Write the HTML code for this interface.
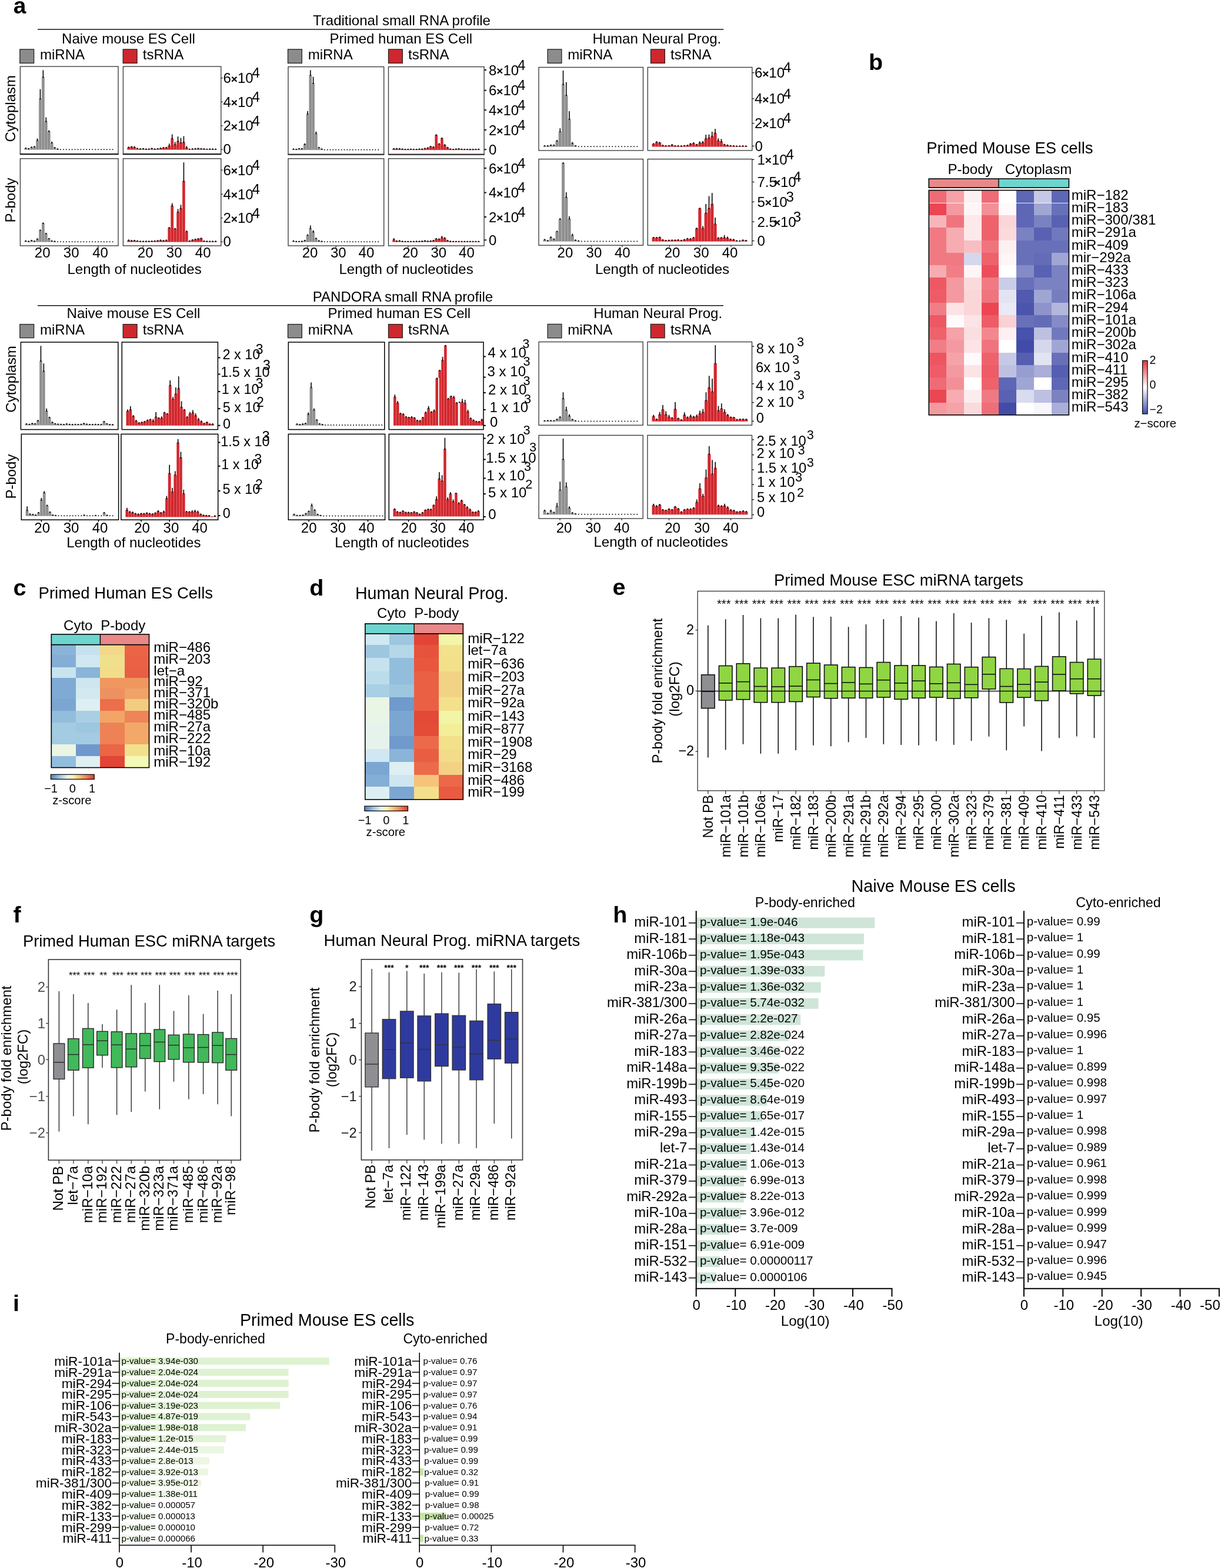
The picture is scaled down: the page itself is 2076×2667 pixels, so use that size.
<!DOCTYPE html>
<html lang="en">
<head>
<meta charset="utf-8">
<title>Small RNA profiles and miRNA target enrichment in P-bodies</title>
<style>
html,body{margin:0;padding:0;background:#fff;}
body{width:2076px;height:2667px;overflow:hidden;}
svg{display:block;font-family:"Liberation Sans", sans-serif;}
text{white-space:pre;}
</style>
</head>
<body>
<svg width="2076" height="2667" viewBox="0 0 2076 2667">
<rect width="2076" height="2667" fill="#fff"/>
<!-- panel a -->
<text x="22.70" y="22.80" font-size="39" font-weight="bold">a</text>
<text x="683.00" y="42.80" font-size="24" text-anchor="middle">Traditional small RNA profile</text>
<line x1="64.00" y1="50.00" x2="1230.20" y2="50.00" stroke="#111" stroke-width="1.5"/>
<text x="218.50" y="73.60" font-size="24" text-anchor="middle">Naive mouse ES Cell</text>
<text x="681.80" y="73.60" font-size="24" text-anchor="middle">Primed human ES Cell</text>
<text x="1116.80" y="73.60" font-size="24" text-anchor="middle">Human Neural Prog.</text>
<rect x="33.80" y="83.90" width="23.80" height="23.50" fill="#8c8c8c" stroke="#222" stroke-width="1.3"/>
<text x="68.00" y="101.40" font-size="24">miRNA</text>
<rect x="209.20" y="83.90" width="23.80" height="23.50" fill="#cf272d" stroke="#222" stroke-width="1.3"/>
<text x="242.80" y="101.40" font-size="24">tsRNA</text>
<rect x="489.50" y="83.90" width="23.80" height="23.50" fill="#8c8c8c" stroke="#222" stroke-width="1.3"/>
<text x="523.70" y="101.40" font-size="24">miRNA</text>
<rect x="660.50" y="83.90" width="23.80" height="23.50" fill="#cf272d" stroke="#222" stroke-width="1.3"/>
<text x="694.10" y="101.40" font-size="24">tsRNA</text>
<rect x="931.10" y="83.90" width="23.80" height="23.50" fill="#8c8c8c" stroke="#222" stroke-width="1.3"/>
<text x="965.30" y="101.40" font-size="24">miRNA</text>
<rect x="1106.50" y="83.90" width="23.80" height="23.50" fill="#cf272d" stroke="#222" stroke-width="1.3"/>
<text x="1140.10" y="101.40" font-size="24">tsRNA</text>
<text transform="translate(26.30 184.70) rotate(-90)" font-size="24" text-anchor="middle">Cytoplasm</text>
<text transform="translate(26.30 340.60) rotate(-90)" font-size="24" text-anchor="middle">P-body</text>
<g fill="#8e8e8e" stroke="#a9a9a9" stroke-width="0.5"><rect x="41.53" y="252.54" width="4.53" height="2.06"/><rect x="46.46" y="253.36" width="4.53" height="1.24"/><rect x="51.39" y="250.89" width="4.53" height="3.71"/><rect x="56.31" y="250.07" width="4.53" height="4.53"/><rect x="61.24" y="239.16" width="4.53" height="15.44"/><rect x="66.17" y="168.54" width="4.53" height="86.06"/><rect x="71.10" y="131.68" width="4.53" height="122.92"/><rect x="76.02" y="206.83" width="4.53" height="47.77"/><rect x="80.95" y="223.72" width="4.53" height="30.88"/><rect x="85.88" y="243.28" width="4.53" height="11.32"/><rect x="90.80" y="251.51" width="4.53" height="3.09"/><rect x="95.73" y="253.98" width="4.53" height="0.62"/></g>
<g fill="#111"><rect x="42.95" y="251.24" width="1.7" height="1.80"/><ellipse cx="43.80" cy="252.19" rx="1.45" ry="1.15"/><rect x="47.88" y="252.06" width="1.7" height="1.80"/><ellipse cx="48.73" cy="253.01" rx="1.45" ry="1.15"/><rect x="52.80" y="249.59" width="1.7" height="1.80"/><ellipse cx="53.65" cy="250.54" rx="1.45" ry="1.15"/><rect x="57.73" y="248.77" width="1.7" height="1.80"/><ellipse cx="58.58" cy="249.72" rx="1.45" ry="1.15"/><rect x="62.66" y="235.45" width="1.7" height="4.21"/><ellipse cx="63.51" cy="238.81" rx="1.45" ry="1.15"/><rect x="67.59" y="151.66" width="1.7" height="17.38"/><ellipse cx="68.44" cy="168.19" rx="1.45" ry="1.15"/><rect x="72.51" y="119.33" width="1.7" height="12.85"/><ellipse cx="73.36" cy="131.33" rx="1.45" ry="1.15"/><rect x="77.44" y="199.63" width="1.7" height="7.71"/><ellipse cx="78.29" cy="206.48" rx="1.45" ry="1.15"/><rect x="82.37" y="221.66" width="1.7" height="2.56"/><ellipse cx="83.22" cy="223.37" rx="1.45" ry="1.15"/><rect x="87.29" y="240.81" width="1.7" height="2.97"/><ellipse cx="88.14" cy="242.93" rx="1.45" ry="1.15"/><rect x="92.22" y="250.07" width="1.7" height="1.94"/><ellipse cx="93.07" cy="251.16" rx="1.45" ry="1.15"/><rect x="97.15" y="252.68" width="1.7" height="1.80"/><ellipse cx="98.00" cy="253.63" rx="1.45" ry="1.15"/><circle cx="102.92" cy="254.30" r="1"/><circle cx="107.85" cy="254.30" r="1"/><circle cx="112.78" cy="254.30" r="1"/><circle cx="117.70" cy="254.30" r="1"/><circle cx="122.63" cy="254.30" r="1"/><circle cx="127.56" cy="254.30" r="1"/><circle cx="132.49" cy="254.30" r="1"/><circle cx="137.41" cy="254.30" r="1"/><circle cx="142.34" cy="254.30" r="1"/><circle cx="147.27" cy="254.30" r="1"/><circle cx="152.19" cy="254.30" r="1"/><circle cx="157.12" cy="254.30" r="1"/><circle cx="162.05" cy="254.30" r="1"/><circle cx="166.97" cy="254.30" r="1"/><circle cx="171.90" cy="254.30" r="1"/><circle cx="176.83" cy="254.30" r="1"/><circle cx="181.76" cy="254.30" r="1"/><circle cx="186.68" cy="254.30" r="1"/><circle cx="191.61" cy="254.30" r="1"/></g>
<rect x="34.40" y="113.10" width="166.60" height="148.90" fill="none" stroke="#333" stroke-width="1.3"/>
<g fill="#cf272d" stroke="#e8555a" stroke-width="0.5"><rect x="216.53" y="250.89" width="4.53" height="3.71"/><rect x="221.46" y="250.07" width="4.53" height="4.53"/><rect x="226.39" y="250.48" width="4.53" height="4.12"/><rect x="231.31" y="252.95" width="4.53" height="1.65"/><rect x="236.24" y="253.78" width="4.53" height="0.82"/><rect x="241.17" y="253.36" width="4.53" height="1.24"/><rect x="246.10" y="253.98" width="4.53" height="0.62"/><rect x="251.02" y="253.98" width="4.53" height="0.62"/><rect x="255.95" y="252.95" width="4.53" height="1.65"/><rect x="260.88" y="253.98" width="4.53" height="0.62"/><rect x="265.80" y="253.57" width="4.53" height="1.03"/><rect x="270.73" y="252.54" width="4.53" height="2.06"/><rect x="275.66" y="251.72" width="4.53" height="2.88"/><rect x="280.58" y="251.31" width="4.53" height="3.29"/><rect x="285.51" y="248.42" width="4.53" height="6.18"/><rect x="290.44" y="236.07" width="4.53" height="18.53"/><rect x="295.37" y="246.36" width="4.53" height="8.24"/><rect x="300.29" y="240.81" width="4.53" height="13.79"/><rect x="305.22" y="243.28" width="4.53" height="11.32"/><rect x="310.15" y="242.25" width="4.53" height="12.35"/><rect x="315.07" y="251.51" width="4.53" height="3.09"/><rect x="320.00" y="254.19" width="4.53" height="0.41"/><rect x="324.93" y="253.78" width="4.53" height="0.82"/><rect x="329.85" y="253.36" width="4.53" height="1.24"/><rect x="334.78" y="252.95" width="4.53" height="1.65"/><rect x="339.71" y="253.36" width="4.53" height="1.24"/><rect x="344.64" y="253.78" width="4.53" height="0.82"/><rect x="349.56" y="254.19" width="4.53" height="0.41"/><rect x="354.49" y="253.98" width="4.53" height="0.62"/><rect x="359.42" y="253.98" width="4.53" height="0.62"/><rect x="364.34" y="254.19" width="4.53" height="0.41"/></g>
<g fill="#111"><rect x="217.95" y="249.66" width="1.7" height="1.74"/><ellipse cx="218.80" cy="250.54" rx="1.45" ry="1.15"/><rect x="222.88" y="248.84" width="1.7" height="1.74"/><ellipse cx="223.73" cy="249.72" rx="1.45" ry="1.15"/><rect x="227.80" y="249.25" width="1.7" height="1.74"/><ellipse cx="228.65" cy="250.13" rx="1.45" ry="1.15"/><rect x="232.73" y="251.65" width="1.7" height="1.80"/><ellipse cx="233.58" cy="252.60" rx="1.45" ry="1.15"/><rect x="237.66" y="252.48" width="1.7" height="1.80"/><ellipse cx="238.51" cy="253.43" rx="1.45" ry="1.15"/><rect x="242.59" y="252.06" width="1.7" height="1.80"/><ellipse cx="243.44" cy="253.01" rx="1.45" ry="1.15"/><rect x="247.51" y="252.68" width="1.7" height="1.80"/><ellipse cx="248.36" cy="253.63" rx="1.45" ry="1.15"/><rect x="252.44" y="252.68" width="1.7" height="1.80"/><ellipse cx="253.29" cy="253.63" rx="1.45" ry="1.15"/><rect x="257.37" y="251.65" width="1.7" height="1.80"/><ellipse cx="258.22" cy="252.60" rx="1.45" ry="1.15"/><rect x="262.29" y="252.68" width="1.7" height="1.80"/><ellipse cx="263.14" cy="253.63" rx="1.45" ry="1.15"/><rect x="267.22" y="252.27" width="1.7" height="1.80"/><ellipse cx="268.07" cy="253.22" rx="1.45" ry="1.15"/><rect x="272.15" y="251.24" width="1.7" height="1.80"/><ellipse cx="273.00" cy="252.19" rx="1.45" ry="1.15"/><rect x="277.07" y="250.42" width="1.7" height="1.80"/><ellipse cx="277.92" cy="251.37" rx="1.45" ry="1.15"/><rect x="282.00" y="250.01" width="1.7" height="1.80"/><ellipse cx="282.85" cy="250.96" rx="1.45" ry="1.15"/><rect x="286.93" y="244.31" width="1.7" height="4.62"/><ellipse cx="287.78" cy="248.07" rx="1.45" ry="1.15"/><rect x="291.86" y="228.45" width="1.7" height="8.12"/><ellipse cx="292.71" cy="235.72" rx="1.45" ry="1.15"/><rect x="296.78" y="241.42" width="1.7" height="5.44"/><ellipse cx="297.63" cy="246.01" rx="1.45" ry="1.15"/><rect x="301.71" y="232.16" width="1.7" height="9.15"/><ellipse cx="302.56" cy="240.46" rx="1.45" ry="1.15"/><rect x="306.64" y="234.63" width="1.7" height="9.15"/><ellipse cx="307.49" cy="242.93" rx="1.45" ry="1.15"/><rect x="311.56" y="231.54" width="1.7" height="11.21"/><ellipse cx="312.41" cy="241.90" rx="1.45" ry="1.15"/><rect x="316.49" y="248.42" width="1.7" height="3.59"/><ellipse cx="317.34" cy="251.16" rx="1.45" ry="1.15"/><rect x="321.42" y="252.89" width="1.7" height="1.80"/><ellipse cx="322.27" cy="253.84" rx="1.45" ry="1.15"/><rect x="326.34" y="252.48" width="1.7" height="1.80"/><ellipse cx="327.19" cy="253.43" rx="1.45" ry="1.15"/><rect x="331.27" y="252.06" width="1.7" height="1.80"/><ellipse cx="332.12" cy="253.01" rx="1.45" ry="1.15"/><rect x="336.20" y="251.65" width="1.7" height="1.80"/><ellipse cx="337.05" cy="252.60" rx="1.45" ry="1.15"/><rect x="341.12" y="252.06" width="1.7" height="1.80"/><ellipse cx="341.98" cy="253.01" rx="1.45" ry="1.15"/><rect x="346.05" y="252.48" width="1.7" height="1.80"/><ellipse cx="346.90" cy="253.43" rx="1.45" ry="1.15"/><rect x="350.98" y="252.89" width="1.7" height="1.80"/><ellipse cx="351.83" cy="253.84" rx="1.45" ry="1.15"/><rect x="355.91" y="252.68" width="1.7" height="1.80"/><ellipse cx="356.76" cy="253.63" rx="1.45" ry="1.15"/><rect x="360.83" y="252.68" width="1.7" height="1.80"/><ellipse cx="361.68" cy="253.63" rx="1.45" ry="1.15"/><rect x="365.76" y="252.89" width="1.7" height="1.80"/><ellipse cx="366.61" cy="253.84" rx="1.45" ry="1.15"/></g>
<rect x="209.40" y="113.10" width="166.40" height="148.90" fill="none" stroke="#333" stroke-width="1.3"/>
<g fill="#8e8e8e" stroke="#a9a9a9" stroke-width="0.5"><rect x="41.53" y="410.26" width="4.53" height="1.24"/><rect x="46.46" y="411.09" width="4.53" height="0.41"/><rect x="51.39" y="409.44" width="4.53" height="2.06"/><rect x="56.31" y="410.68" width="4.53" height="0.82"/><rect x="61.24" y="406.97" width="4.53" height="4.53"/><rect x="66.17" y="391.94" width="4.53" height="19.56"/><rect x="71.10" y="380.20" width="4.53" height="31.30"/><rect x="76.02" y="397.50" width="4.53" height="14.00"/><rect x="80.95" y="406.35" width="4.53" height="5.15"/><rect x="85.88" y="410.26" width="4.53" height="1.24"/><rect x="90.80" y="411.09" width="4.53" height="0.41"/></g>
<g fill="#111"><rect x="42.95" y="408.96" width="1.7" height="1.80"/><ellipse cx="43.80" cy="409.91" rx="1.45" ry="1.15"/><rect x="47.88" y="409.79" width="1.7" height="1.80"/><ellipse cx="48.73" cy="410.74" rx="1.45" ry="1.15"/><rect x="52.80" y="408.14" width="1.7" height="1.80"/><ellipse cx="53.65" cy="409.09" rx="1.45" ry="1.15"/><rect x="57.73" y="409.38" width="1.7" height="1.80"/><ellipse cx="58.58" cy="410.33" rx="1.45" ry="1.15"/><rect x="62.66" y="405.67" width="1.7" height="1.80"/><ellipse cx="63.51" cy="406.62" rx="1.45" ry="1.15"/><rect x="67.59" y="390.91" width="1.7" height="1.53"/><ellipse cx="68.44" cy="391.59" rx="1.45" ry="1.15"/><rect x="72.51" y="378.56" width="1.7" height="2.15"/><ellipse cx="73.36" cy="379.85" rx="1.45" ry="1.15"/><rect x="77.44" y="396.68" width="1.7" height="1.32"/><ellipse cx="78.29" cy="397.15" rx="1.45" ry="1.15"/><rect x="82.37" y="405.94" width="1.7" height="0.91"/><ellipse cx="83.22" cy="406.00" rx="1.45" ry="1.15"/><rect x="87.29" y="408.96" width="1.7" height="1.80"/><ellipse cx="88.14" cy="409.91" rx="1.45" ry="1.15"/><rect x="92.22" y="409.79" width="1.7" height="1.80"/><ellipse cx="93.07" cy="410.74" rx="1.45" ry="1.15"/><circle cx="98.00" cy="411.20" r="1"/><circle cx="102.92" cy="411.20" r="1"/><circle cx="107.85" cy="411.20" r="1"/><circle cx="112.78" cy="411.20" r="1"/><circle cx="117.70" cy="411.20" r="1"/><circle cx="122.63" cy="411.20" r="1"/><circle cx="127.56" cy="411.20" r="1"/><circle cx="132.49" cy="411.20" r="1"/><circle cx="137.41" cy="411.20" r="1"/><circle cx="142.34" cy="411.20" r="1"/><circle cx="147.27" cy="411.20" r="1"/><circle cx="152.19" cy="411.20" r="1"/><circle cx="157.12" cy="411.20" r="1"/><circle cx="162.05" cy="411.20" r="1"/><circle cx="166.97" cy="411.20" r="1"/><circle cx="171.90" cy="411.20" r="1"/><circle cx="176.83" cy="411.20" r="1"/><circle cx="181.76" cy="411.20" r="1"/><circle cx="186.68" cy="411.20" r="1"/><circle cx="191.61" cy="411.20" r="1"/></g>
<rect x="34.40" y="269.80" width="166.60" height="148.20" fill="none" stroke="#333" stroke-width="1.3"/>
<g fill="#cf272d" stroke="#e8555a" stroke-width="0.5"><rect x="216.53" y="409.03" width="4.53" height="2.47"/><rect x="221.46" y="409.85" width="4.53" height="1.65"/><rect x="226.39" y="409.44" width="4.53" height="2.06"/><rect x="231.31" y="410.26" width="4.53" height="1.24"/><rect x="236.24" y="410.88" width="4.53" height="0.62"/><rect x="241.17" y="411.09" width="4.53" height="0.41"/><rect x="246.10" y="410.88" width="4.53" height="0.62"/><rect x="251.02" y="410.88" width="4.53" height="0.62"/><rect x="255.95" y="410.68" width="4.53" height="0.82"/><rect x="260.88" y="410.26" width="4.53" height="1.24"/><rect x="265.80" y="409.85" width="4.53" height="1.65"/><rect x="270.73" y="409.03" width="4.53" height="2.47"/><rect x="275.66" y="409.65" width="4.53" height="1.85"/><rect x="280.58" y="409.03" width="4.53" height="2.47"/><rect x="285.51" y="387.82" width="4.53" height="23.68"/><rect x="290.44" y="350.15" width="4.53" height="61.35"/><rect x="295.37" y="389.26" width="4.53" height="22.24"/><rect x="300.29" y="361.06" width="4.53" height="50.44"/><rect x="305.22" y="354.88" width="4.53" height="56.62"/><rect x="310.15" y="308.56" width="4.53" height="102.94"/><rect x="315.07" y="394.00" width="4.53" height="17.50"/><rect x="320.00" y="410.26" width="4.53" height="1.24"/><rect x="324.93" y="408.62" width="4.53" height="2.88"/><rect x="329.85" y="407.38" width="4.53" height="4.12"/><rect x="334.78" y="406.56" width="4.53" height="4.94"/><rect x="339.71" y="405.74" width="4.53" height="5.76"/><rect x="344.64" y="410.47" width="4.53" height="1.03"/><rect x="349.56" y="410.88" width="4.53" height="0.62"/><rect x="354.49" y="411.09" width="4.53" height="0.41"/><rect x="359.42" y="411.09" width="4.53" height="0.41"/><rect x="364.34" y="410.88" width="4.53" height="0.62"/></g>
<g fill="#111"><rect x="217.95" y="407.73" width="1.7" height="1.80"/><ellipse cx="218.80" cy="408.68" rx="1.45" ry="1.15"/><rect x="222.88" y="408.55" width="1.7" height="1.80"/><ellipse cx="223.73" cy="409.50" rx="1.45" ry="1.15"/><rect x="227.80" y="408.14" width="1.7" height="1.80"/><ellipse cx="228.65" cy="409.09" rx="1.45" ry="1.15"/><rect x="232.73" y="408.96" width="1.7" height="1.80"/><ellipse cx="233.58" cy="409.91" rx="1.45" ry="1.15"/><rect x="237.66" y="409.58" width="1.7" height="1.80"/><ellipse cx="238.51" cy="410.53" rx="1.45" ry="1.15"/><rect x="242.59" y="409.79" width="1.7" height="1.80"/><ellipse cx="243.44" cy="410.74" rx="1.45" ry="1.15"/><rect x="247.51" y="409.58" width="1.7" height="1.80"/><ellipse cx="248.36" cy="410.53" rx="1.45" ry="1.15"/><rect x="252.44" y="409.58" width="1.7" height="1.80"/><ellipse cx="253.29" cy="410.53" rx="1.45" ry="1.15"/><rect x="257.37" y="409.38" width="1.7" height="1.80"/><ellipse cx="258.22" cy="410.33" rx="1.45" ry="1.15"/><rect x="262.29" y="408.96" width="1.7" height="1.80"/><ellipse cx="263.14" cy="409.91" rx="1.45" ry="1.15"/><rect x="267.22" y="408.55" width="1.7" height="1.80"/><ellipse cx="268.07" cy="409.50" rx="1.45" ry="1.15"/><rect x="272.15" y="407.73" width="1.7" height="1.80"/><ellipse cx="273.00" cy="408.68" rx="1.45" ry="1.15"/><rect x="277.07" y="408.35" width="1.7" height="1.80"/><ellipse cx="277.92" cy="409.30" rx="1.45" ry="1.15"/><rect x="282.00" y="407.73" width="1.7" height="1.80"/><ellipse cx="282.85" cy="408.68" rx="1.45" ry="1.15"/><rect x="286.93" y="386.79" width="1.7" height="1.53"/><ellipse cx="287.78" cy="387.47" rx="1.45" ry="1.15"/><rect x="291.86" y="345.62" width="1.7" height="5.03"/><ellipse cx="292.71" cy="349.80" rx="1.45" ry="1.15"/><rect x="296.78" y="388.23" width="1.7" height="1.53"/><ellipse cx="297.63" cy="388.91" rx="1.45" ry="1.15"/><rect x="301.71" y="355.50" width="1.7" height="6.06"/><ellipse cx="302.56" cy="360.71" rx="1.45" ry="1.15"/><rect x="306.64" y="348.29" width="1.7" height="7.09"/><ellipse cx="307.49" cy="354.53" rx="1.45" ry="1.15"/><rect x="311.56" y="276.23" width="1.7" height="32.82"/><ellipse cx="312.41" cy="308.21" rx="1.45" ry="1.15"/><rect x="316.49" y="392.15" width="1.7" height="2.35"/><ellipse cx="317.34" cy="393.65" rx="1.45" ry="1.15"/><rect x="321.42" y="408.96" width="1.7" height="1.80"/><ellipse cx="322.27" cy="409.91" rx="1.45" ry="1.15"/><rect x="326.34" y="407.32" width="1.7" height="1.80"/><ellipse cx="327.19" cy="408.27" rx="1.45" ry="1.15"/><rect x="331.27" y="406.08" width="1.7" height="1.80"/><ellipse cx="332.12" cy="407.03" rx="1.45" ry="1.15"/><rect x="336.20" y="405.26" width="1.7" height="1.80"/><ellipse cx="337.05" cy="406.21" rx="1.45" ry="1.15"/><rect x="341.12" y="404.91" width="1.7" height="1.32"/><ellipse cx="341.98" cy="405.39" rx="1.45" ry="1.15"/><rect x="346.05" y="409.17" width="1.7" height="1.80"/><ellipse cx="346.90" cy="410.12" rx="1.45" ry="1.15"/><rect x="350.98" y="409.58" width="1.7" height="1.80"/><ellipse cx="351.83" cy="410.53" rx="1.45" ry="1.15"/><rect x="355.91" y="409.79" width="1.7" height="1.80"/><ellipse cx="356.76" cy="410.74" rx="1.45" ry="1.15"/><rect x="360.83" y="409.79" width="1.7" height="1.80"/><ellipse cx="361.68" cy="410.74" rx="1.45" ry="1.15"/><rect x="365.76" y="409.58" width="1.7" height="1.80"/><ellipse cx="366.61" cy="410.53" rx="1.45" ry="1.15"/></g>
<rect x="209.40" y="269.80" width="166.40" height="148.20" fill="none" stroke="#333" stroke-width="1.3"/>
<line x1="33.80" y1="262.20" x2="201.60" y2="262.20" stroke="#111" stroke-width="1.9"/>
<line x1="208.80" y1="262.20" x2="376.40" y2="262.20" stroke="#111" stroke-width="1.9"/>
<line x1="489.40" y1="262.70" x2="653.30" y2="262.70" stroke="#111" stroke-width="1.9"/>
<line x1="659.90" y1="262.70" x2="823.70" y2="262.70" stroke="#111" stroke-width="1.9"/>
<line x1="375.80" y1="132.60" x2="378.60" y2="132.60" stroke="#222" stroke-width="1.3"/>
<text x="379.50" y="141.20" font-size="24">6<tspan font-size="19" stroke="#000" stroke-width="0.8" dy="-0.6">×</tspan><tspan dy="0.6">10</tspan><tspan dx="-2.2" dy="-8.9">4</tspan></text>
<line x1="375.80" y1="173.20" x2="378.60" y2="173.20" stroke="#222" stroke-width="1.3"/>
<text x="379.50" y="181.80" font-size="24">4<tspan font-size="19" stroke="#000" stroke-width="0.8" dy="-0.6">×</tspan><tspan dy="0.6">10</tspan><tspan dx="-2.2" dy="-8.9">4</tspan></text>
<line x1="375.80" y1="213.80" x2="378.60" y2="213.80" stroke="#222" stroke-width="1.3"/>
<text x="379.50" y="222.40" font-size="24">2<tspan font-size="19" stroke="#000" stroke-width="0.8" dy="-0.6">×</tspan><tspan dy="0.6">10</tspan><tspan dx="-2.2" dy="-8.9">4</tspan></text>
<line x1="375.80" y1="254.30" x2="378.60" y2="254.30" stroke="#222" stroke-width="1.3"/>
<text x="379.50" y="262.40" font-size="24">0</text>
<line x1="375.80" y1="289.30" x2="378.60" y2="289.30" stroke="#222" stroke-width="1.3"/>
<text x="379.50" y="297.90" font-size="24">6<tspan font-size="19" stroke="#000" stroke-width="0.8" dy="-0.6">×</tspan><tspan dy="0.6">10</tspan><tspan dx="-2.2" dy="-8.9">4</tspan></text>
<line x1="375.80" y1="330.20" x2="378.60" y2="330.20" stroke="#222" stroke-width="1.3"/>
<text x="379.50" y="338.80" font-size="24">4<tspan font-size="19" stroke="#000" stroke-width="0.8" dy="-0.6">×</tspan><tspan dy="0.6">10</tspan><tspan dx="-2.2" dy="-8.9">4</tspan></text>
<line x1="375.80" y1="370.80" x2="378.60" y2="370.80" stroke="#222" stroke-width="1.3"/>
<text x="379.50" y="379.40" font-size="24">2<tspan font-size="19" stroke="#000" stroke-width="0.8" dy="-0.6">×</tspan><tspan dy="0.6">10</tspan><tspan dx="-2.2" dy="-8.9">4</tspan></text>
<line x1="375.80" y1="411.20" x2="378.60" y2="411.20" stroke="#222" stroke-width="1.3"/>
<text x="379.50" y="419.30" font-size="24">0</text>
<text x="72.20" y="438.00" font-size="24" text-anchor="middle">20</text>
<text x="121.20" y="438.00" font-size="24" text-anchor="middle">30</text>
<text x="170.50" y="438.00" font-size="24" text-anchor="middle">40</text>
<text x="247.20" y="438.00" font-size="24" text-anchor="middle">20</text>
<text x="296.20" y="438.00" font-size="24" text-anchor="middle">30</text>
<text x="345.20" y="438.00" font-size="24" text-anchor="middle">40</text>
<line x1="68.50" y1="418.00" x2="68.50" y2="421.00" stroke="#222" stroke-width="1.2"/>
<line x1="117.80" y1="418.00" x2="117.80" y2="421.00" stroke="#222" stroke-width="1.2"/>
<line x1="167.00" y1="418.00" x2="167.00" y2="421.00" stroke="#222" stroke-width="1.2"/>
<line x1="243.30" y1="418.00" x2="243.30" y2="421.00" stroke="#222" stroke-width="1.2"/>
<line x1="292.60" y1="418.00" x2="292.60" y2="421.00" stroke="#222" stroke-width="1.2"/>
<line x1="341.80" y1="418.00" x2="341.80" y2="421.00" stroke="#222" stroke-width="1.2"/>
<text x="228.60" y="466.00" font-size="24" text-anchor="middle">Length of nucleotides</text>
<g fill="#8e8e8e" stroke="#a9a9a9" stroke-width="0.5"><rect x="496.79" y="253.97" width="4.42" height="1.03"/><rect x="501.59" y="254.38" width="4.42" height="0.62"/><rect x="506.40" y="253.35" width="4.42" height="1.65"/><rect x="511.20" y="253.35" width="4.42" height="1.65"/><rect x="516.01" y="245.74" width="4.42" height="9.26"/><rect x="520.81" y="194.26" width="4.42" height="60.74"/><rect x="525.61" y="128.38" width="4.42" height="126.62"/><rect x="530.42" y="142.17" width="4.42" height="112.83"/><rect x="535.22" y="227.21" width="4.42" height="27.79"/><rect x="540.03" y="251.29" width="4.42" height="3.71"/><rect x="544.83" y="253.97" width="4.42" height="1.03"/></g>
<g fill="#111"><rect x="498.15" y="252.67" width="1.7" height="1.80"/><ellipse cx="499.00" cy="253.62" rx="1.45" ry="1.15"/><rect x="502.95" y="253.08" width="1.7" height="1.80"/><ellipse cx="503.80" cy="254.03" rx="1.45" ry="1.15"/><rect x="507.76" y="252.05" width="1.7" height="1.80"/><ellipse cx="508.61" cy="253.00" rx="1.45" ry="1.15"/><rect x="512.56" y="252.05" width="1.7" height="1.80"/><ellipse cx="513.41" cy="253.00" rx="1.45" ry="1.15"/><rect x="517.37" y="244.29" width="1.7" height="1.94"/><ellipse cx="518.22" cy="245.39" rx="1.45" ry="1.15"/><rect x="522.17" y="188.91" width="1.7" height="5.85"/><ellipse cx="523.02" cy="193.91" rx="1.45" ry="1.15"/><rect x="526.97" y="119.32" width="1.7" height="9.56"/><ellipse cx="527.82" cy="128.03" rx="1.45" ry="1.15"/><rect x="531.78" y="130.64" width="1.7" height="12.03"/><ellipse cx="532.63" cy="141.82" rx="1.45" ry="1.15"/><rect x="536.58" y="223.70" width="1.7" height="4.00"/><ellipse cx="537.43" cy="226.86" rx="1.45" ry="1.15"/><rect x="541.39" y="251.09" width="1.7" height="0.71"/><ellipse cx="542.24" cy="250.94" rx="1.45" ry="1.15"/><rect x="546.19" y="252.67" width="1.7" height="1.80"/><ellipse cx="547.04" cy="253.62" rx="1.45" ry="1.15"/><circle cx="551.84" cy="254.70" r="1"/><circle cx="556.65" cy="254.70" r="1"/><circle cx="561.45" cy="254.70" r="1"/><circle cx="566.26" cy="254.70" r="1"/><circle cx="571.06" cy="254.70" r="1"/><circle cx="575.86" cy="254.70" r="1"/><circle cx="580.67" cy="254.70" r="1"/><circle cx="585.47" cy="254.70" r="1"/><circle cx="590.28" cy="254.70" r="1"/><circle cx="595.08" cy="254.70" r="1"/><circle cx="599.88" cy="254.70" r="1"/><circle cx="604.69" cy="254.70" r="1"/><circle cx="609.49" cy="254.70" r="1"/><circle cx="614.30" cy="254.70" r="1"/><circle cx="619.10" cy="254.70" r="1"/><circle cx="623.90" cy="254.70" r="1"/><circle cx="628.71" cy="254.70" r="1"/><circle cx="633.51" cy="254.70" r="1"/><circle cx="638.32" cy="254.70" r="1"/><circle cx="643.12" cy="254.70" r="1"/></g>
<rect x="490.00" y="113.60" width="162.70" height="148.90" fill="none" stroke="#333" stroke-width="1.3"/>
<g fill="#cf272d" stroke="#e8555a" stroke-width="0.5"><rect x="667.49" y="253.35" width="4.42" height="1.65"/><rect x="672.29" y="253.15" width="4.42" height="1.85"/><rect x="677.10" y="253.35" width="4.42" height="1.65"/><rect x="681.90" y="253.97" width="4.42" height="1.03"/><rect x="686.71" y="254.38" width="4.42" height="0.62"/><rect x="691.51" y="254.38" width="4.42" height="0.62"/><rect x="696.31" y="254.18" width="4.42" height="0.82"/><rect x="701.12" y="254.38" width="4.42" height="0.62"/><rect x="705.92" y="254.38" width="4.42" height="0.62"/><rect x="710.73" y="253.97" width="4.42" height="1.03"/><rect x="715.53" y="253.97" width="4.42" height="1.03"/><rect x="720.33" y="252.94" width="4.42" height="2.06"/><rect x="725.14" y="251.91" width="4.42" height="3.09"/><rect x="729.94" y="249.65" width="4.42" height="5.35"/><rect x="734.75" y="250.47" width="4.42" height="4.53"/><rect x="739.55" y="229.88" width="4.42" height="25.12"/><rect x="744.35" y="245.12" width="4.42" height="9.88"/><rect x="749.16" y="235.44" width="4.42" height="19.56"/><rect x="753.96" y="246.76" width="4.42" height="8.24"/><rect x="758.77" y="251.29" width="4.42" height="3.71"/><rect x="763.57" y="253.97" width="4.42" height="1.03"/><rect x="768.37" y="254.38" width="4.42" height="0.62"/><rect x="773.18" y="253.97" width="4.42" height="1.03"/><rect x="777.98" y="253.56" width="4.42" height="1.44"/><rect x="782.79" y="254.18" width="4.42" height="0.82"/><rect x="787.59" y="254.38" width="4.42" height="0.62"/><rect x="792.39" y="254.38" width="4.42" height="0.62"/><rect x="797.20" y="254.59" width="4.42" height="0.41"/><rect x="802.00" y="254.59" width="4.42" height="0.41"/><rect x="806.81" y="254.38" width="4.42" height="0.62"/><rect x="811.61" y="254.18" width="4.42" height="0.82"/></g>
<g fill="#111"><rect x="668.85" y="252.05" width="1.7" height="1.80"/><ellipse cx="669.70" cy="253.00" rx="1.45" ry="1.15"/><rect x="673.65" y="251.85" width="1.7" height="1.80"/><ellipse cx="674.50" cy="252.80" rx="1.45" ry="1.15"/><rect x="678.46" y="252.05" width="1.7" height="1.80"/><ellipse cx="679.31" cy="253.00" rx="1.45" ry="1.15"/><rect x="683.26" y="252.67" width="1.7" height="1.80"/><ellipse cx="684.11" cy="253.62" rx="1.45" ry="1.15"/><rect x="688.07" y="253.08" width="1.7" height="1.80"/><ellipse cx="688.92" cy="254.03" rx="1.45" ry="1.15"/><rect x="692.87" y="253.08" width="1.7" height="1.80"/><ellipse cx="693.72" cy="254.03" rx="1.45" ry="1.15"/><rect x="697.67" y="252.88" width="1.7" height="1.80"/><ellipse cx="698.52" cy="253.83" rx="1.45" ry="1.15"/><rect x="702.48" y="253.08" width="1.7" height="1.80"/><ellipse cx="703.33" cy="254.03" rx="1.45" ry="1.15"/><rect x="707.28" y="253.08" width="1.7" height="1.80"/><ellipse cx="708.13" cy="254.03" rx="1.45" ry="1.15"/><rect x="712.09" y="252.67" width="1.7" height="1.80"/><ellipse cx="712.94" cy="253.62" rx="1.45" ry="1.15"/><rect x="716.89" y="252.67" width="1.7" height="1.80"/><ellipse cx="717.74" cy="253.62" rx="1.45" ry="1.15"/><rect x="721.69" y="251.64" width="1.7" height="1.80"/><ellipse cx="722.54" cy="252.59" rx="1.45" ry="1.15"/><rect x="726.50" y="250.61" width="1.7" height="1.80"/><ellipse cx="727.35" cy="251.56" rx="1.45" ry="1.15"/><rect x="731.30" y="248.35" width="1.7" height="1.80"/><ellipse cx="732.15" cy="249.30" rx="1.45" ry="1.15"/><rect x="736.11" y="249.17" width="1.7" height="1.80"/><ellipse cx="736.96" cy="250.12" rx="1.45" ry="1.15"/><rect x="740.91" y="229.06" width="1.7" height="1.32"/><ellipse cx="741.76" cy="229.53" rx="1.45" ry="1.15"/><rect x="745.71" y="244.29" width="1.7" height="1.32"/><ellipse cx="746.56" cy="244.77" rx="1.45" ry="1.15"/><rect x="750.52" y="234.62" width="1.7" height="1.32"/><ellipse cx="751.37" cy="235.09" rx="1.45" ry="1.15"/><rect x="755.32" y="245.94" width="1.7" height="1.32"/><ellipse cx="756.17" cy="246.41" rx="1.45" ry="1.15"/><rect x="760.13" y="249.99" width="1.7" height="1.80"/><ellipse cx="760.98" cy="250.94" rx="1.45" ry="1.15"/><rect x="764.93" y="252.67" width="1.7" height="1.80"/><ellipse cx="765.78" cy="253.62" rx="1.45" ry="1.15"/><rect x="769.73" y="253.08" width="1.7" height="1.80"/><ellipse cx="770.58" cy="254.03" rx="1.45" ry="1.15"/><rect x="774.54" y="252.67" width="1.7" height="1.80"/><ellipse cx="775.39" cy="253.62" rx="1.45" ry="1.15"/><rect x="779.34" y="252.26" width="1.7" height="1.80"/><ellipse cx="780.19" cy="253.21" rx="1.45" ry="1.15"/><rect x="784.15" y="252.88" width="1.7" height="1.80"/><ellipse cx="785.00" cy="253.83" rx="1.45" ry="1.15"/><rect x="788.95" y="253.08" width="1.7" height="1.80"/><ellipse cx="789.80" cy="254.03" rx="1.45" ry="1.15"/><rect x="793.75" y="253.08" width="1.7" height="1.80"/><ellipse cx="794.60" cy="254.03" rx="1.45" ry="1.15"/><rect x="798.56" y="253.29" width="1.7" height="1.80"/><ellipse cx="799.41" cy="254.24" rx="1.45" ry="1.15"/><rect x="803.36" y="253.29" width="1.7" height="1.80"/><ellipse cx="804.21" cy="254.24" rx="1.45" ry="1.15"/><rect x="808.17" y="253.08" width="1.7" height="1.80"/><ellipse cx="809.02" cy="254.03" rx="1.45" ry="1.15"/><rect x="812.97" y="252.88" width="1.7" height="1.80"/><ellipse cx="813.82" cy="253.83" rx="1.45" ry="1.15"/></g>
<rect x="660.50" y="113.60" width="162.60" height="148.90" fill="none" stroke="#333" stroke-width="1.3"/>
<g fill="#8e8e8e" stroke="#a9a9a9" stroke-width="0.5"><rect x="496.79" y="410.36" width="4.42" height="1.24"/><rect x="501.59" y="411.19" width="4.42" height="0.41"/><rect x="506.40" y="411.19" width="4.42" height="0.41"/><rect x="511.20" y="410.98" width="4.42" height="0.62"/><rect x="516.01" y="409.54" width="4.42" height="2.06"/><rect x="520.81" y="400.28" width="4.42" height="11.32"/><rect x="525.61" y="388.95" width="4.42" height="22.65"/><rect x="530.42" y="394.72" width="4.42" height="16.88"/><rect x="535.22" y="405.84" width="4.42" height="5.76"/><rect x="540.03" y="409.95" width="4.42" height="1.65"/><rect x="544.83" y="410.98" width="4.42" height="0.62"/></g>
<g fill="#111"><rect x="498.15" y="409.06" width="1.7" height="1.80"/><ellipse cx="499.00" cy="410.01" rx="1.45" ry="1.15"/><rect x="502.95" y="409.89" width="1.7" height="1.80"/><ellipse cx="503.80" cy="410.84" rx="1.45" ry="1.15"/><rect x="507.76" y="409.89" width="1.7" height="1.80"/><ellipse cx="508.61" cy="410.84" rx="1.45" ry="1.15"/><rect x="512.56" y="409.68" width="1.7" height="1.80"/><ellipse cx="513.41" cy="410.63" rx="1.45" ry="1.15"/><rect x="517.37" y="408.24" width="1.7" height="1.80"/><ellipse cx="518.22" cy="409.19" rx="1.45" ry="1.15"/><rect x="522.17" y="398.83" width="1.7" height="1.94"/><ellipse cx="523.02" cy="399.93" rx="1.45" ry="1.15"/><rect x="526.97" y="383.39" width="1.7" height="6.06"/><ellipse cx="527.82" cy="388.60" rx="1.45" ry="1.15"/><rect x="531.78" y="391.63" width="1.7" height="3.59"/><ellipse cx="532.63" cy="394.37" rx="1.45" ry="1.15"/><rect x="536.58" y="405.01" width="1.7" height="1.32"/><ellipse cx="537.43" cy="405.49" rx="1.45" ry="1.15"/><rect x="541.39" y="408.65" width="1.7" height="1.80"/><ellipse cx="542.24" cy="409.60" rx="1.45" ry="1.15"/><rect x="546.19" y="409.68" width="1.7" height="1.80"/><ellipse cx="547.04" cy="410.63" rx="1.45" ry="1.15"/><circle cx="551.84" cy="411.30" r="1"/><circle cx="556.65" cy="411.30" r="1"/><circle cx="561.45" cy="411.30" r="1"/><circle cx="566.26" cy="411.30" r="1"/><circle cx="571.06" cy="411.30" r="1"/><circle cx="575.86" cy="411.30" r="1"/><circle cx="580.67" cy="411.30" r="1"/><circle cx="585.47" cy="411.30" r="1"/><circle cx="590.28" cy="411.30" r="1"/><circle cx="595.08" cy="411.30" r="1"/><circle cx="599.88" cy="411.30" r="1"/><circle cx="604.69" cy="411.30" r="1"/><circle cx="609.49" cy="411.30" r="1"/><circle cx="614.30" cy="411.30" r="1"/><circle cx="619.10" cy="411.30" r="1"/><circle cx="623.90" cy="411.30" r="1"/><circle cx="628.71" cy="411.30" r="1"/><circle cx="633.51" cy="411.30" r="1"/><circle cx="638.32" cy="411.30" r="1"/><circle cx="643.12" cy="411.30" r="1"/></g>
<rect x="490.00" y="269.80" width="162.70" height="148.20" fill="none" stroke="#333" stroke-width="1.3"/>
<g fill="#cf272d" stroke="#e8555a" stroke-width="0.5"><rect x="667.49" y="407.89" width="4.42" height="3.71"/><rect x="672.29" y="410.36" width="4.42" height="1.24"/><rect x="677.10" y="409.95" width="4.42" height="1.65"/><rect x="681.90" y="410.98" width="4.42" height="0.62"/><rect x="686.71" y="411.19" width="4.42" height="0.41"/><rect x="691.51" y="411.19" width="4.42" height="0.41"/><rect x="696.31" y="411.19" width="4.42" height="0.41"/><rect x="701.12" y="411.19" width="4.42" height="0.41"/><rect x="705.92" y="410.98" width="4.42" height="0.62"/><rect x="710.73" y="410.98" width="4.42" height="0.62"/><rect x="715.53" y="410.78" width="4.42" height="0.82"/><rect x="720.33" y="409.95" width="4.42" height="1.65"/><rect x="725.14" y="410.78" width="4.42" height="0.82"/><rect x="729.94" y="410.36" width="4.42" height="1.24"/><rect x="734.75" y="409.54" width="4.42" height="2.06"/><rect x="739.55" y="406.45" width="4.42" height="5.15"/><rect x="744.35" y="407.07" width="4.42" height="4.53"/><rect x="749.16" y="404.39" width="4.42" height="7.21"/><rect x="753.96" y="405.42" width="4.42" height="6.18"/><rect x="758.77" y="409.54" width="4.42" height="2.06"/><rect x="763.57" y="410.98" width="4.42" height="0.62"/><rect x="768.37" y="411.19" width="4.42" height="0.41"/><rect x="773.18" y="411.19" width="4.42" height="0.41"/><rect x="777.98" y="411.19" width="4.42" height="0.41"/><rect x="782.79" y="411.19" width="4.42" height="0.41"/><rect x="787.59" y="411.19" width="4.42" height="0.41"/><rect x="792.39" y="411.19" width="4.42" height="0.41"/><rect x="797.20" y="411.19" width="4.42" height="0.41"/><rect x="802.00" y="411.19" width="4.42" height="0.41"/><rect x="806.81" y="411.19" width="4.42" height="0.41"/><rect x="811.61" y="411.19" width="4.42" height="0.41"/></g>
<g fill="#111"><rect x="668.85" y="405.01" width="1.7" height="3.38"/><ellipse cx="669.70" cy="407.54" rx="1.45" ry="1.15"/><rect x="673.65" y="409.06" width="1.7" height="1.80"/><ellipse cx="674.50" cy="410.01" rx="1.45" ry="1.15"/><rect x="678.46" y="408.65" width="1.7" height="1.80"/><ellipse cx="679.31" cy="409.60" rx="1.45" ry="1.15"/><rect x="683.26" y="409.68" width="1.7" height="1.80"/><ellipse cx="684.11" cy="410.63" rx="1.45" ry="1.15"/><rect x="688.07" y="409.89" width="1.7" height="1.80"/><ellipse cx="688.92" cy="410.84" rx="1.45" ry="1.15"/><rect x="692.87" y="409.89" width="1.7" height="1.80"/><ellipse cx="693.72" cy="410.84" rx="1.45" ry="1.15"/><rect x="697.67" y="409.89" width="1.7" height="1.80"/><ellipse cx="698.52" cy="410.84" rx="1.45" ry="1.15"/><rect x="702.48" y="409.89" width="1.7" height="1.80"/><ellipse cx="703.33" cy="410.84" rx="1.45" ry="1.15"/><rect x="707.28" y="409.68" width="1.7" height="1.80"/><ellipse cx="708.13" cy="410.63" rx="1.45" ry="1.15"/><rect x="712.09" y="409.68" width="1.7" height="1.80"/><ellipse cx="712.94" cy="410.63" rx="1.45" ry="1.15"/><rect x="716.89" y="409.48" width="1.7" height="1.80"/><ellipse cx="717.74" cy="410.43" rx="1.45" ry="1.15"/><rect x="721.69" y="408.65" width="1.7" height="1.80"/><ellipse cx="722.54" cy="409.60" rx="1.45" ry="1.15"/><rect x="726.50" y="409.48" width="1.7" height="1.80"/><ellipse cx="727.35" cy="410.43" rx="1.45" ry="1.15"/><rect x="731.30" y="409.06" width="1.7" height="1.80"/><ellipse cx="732.15" cy="410.01" rx="1.45" ry="1.15"/><rect x="736.11" y="408.24" width="1.7" height="1.80"/><ellipse cx="736.96" cy="409.19" rx="1.45" ry="1.15"/><rect x="740.91" y="405.42" width="1.7" height="1.53"/><ellipse cx="741.76" cy="406.10" rx="1.45" ry="1.15"/><rect x="745.71" y="406.04" width="1.7" height="1.53"/><ellipse cx="746.56" cy="406.72" rx="1.45" ry="1.15"/><rect x="750.52" y="401.31" width="1.7" height="3.59"/><ellipse cx="751.37" cy="404.04" rx="1.45" ry="1.15"/><rect x="755.32" y="403.36" width="1.7" height="2.56"/><ellipse cx="756.17" cy="405.07" rx="1.45" ry="1.15"/><rect x="760.13" y="408.24" width="1.7" height="1.80"/><ellipse cx="760.98" cy="409.19" rx="1.45" ry="1.15"/><rect x="764.93" y="409.68" width="1.7" height="1.80"/><ellipse cx="765.78" cy="410.63" rx="1.45" ry="1.15"/><rect x="769.73" y="409.89" width="1.7" height="1.80"/><ellipse cx="770.58" cy="410.84" rx="1.45" ry="1.15"/><rect x="774.54" y="409.89" width="1.7" height="1.80"/><ellipse cx="775.39" cy="410.84" rx="1.45" ry="1.15"/><rect x="779.34" y="409.89" width="1.7" height="1.80"/><ellipse cx="780.19" cy="410.84" rx="1.45" ry="1.15"/><rect x="784.15" y="409.89" width="1.7" height="1.80"/><ellipse cx="785.00" cy="410.84" rx="1.45" ry="1.15"/><rect x="788.95" y="409.89" width="1.7" height="1.80"/><ellipse cx="789.80" cy="410.84" rx="1.45" ry="1.15"/><rect x="793.75" y="409.89" width="1.7" height="1.80"/><ellipse cx="794.60" cy="410.84" rx="1.45" ry="1.15"/><rect x="798.56" y="409.89" width="1.7" height="1.80"/><ellipse cx="799.41" cy="410.84" rx="1.45" ry="1.15"/><rect x="803.36" y="409.89" width="1.7" height="1.80"/><ellipse cx="804.21" cy="410.84" rx="1.45" ry="1.15"/><rect x="808.17" y="409.89" width="1.7" height="1.80"/><ellipse cx="809.02" cy="410.84" rx="1.45" ry="1.15"/><rect x="812.97" y="409.89" width="1.7" height="1.80"/><ellipse cx="813.82" cy="410.84" rx="1.45" ry="1.15"/></g>
<rect x="660.50" y="269.80" width="162.60" height="148.20" fill="none" stroke="#333" stroke-width="1.3"/>
<line x1="823.10" y1="119.00" x2="827.00" y2="119.00" stroke="#111" stroke-width="2"/>
<text x="831.00" y="127.60" font-size="24">8<tspan font-size="19" stroke="#000" stroke-width="0.8" dy="-0.6">×</tspan><tspan dy="0.6">10</tspan><tspan dx="-2.2" dy="-8.9">4</tspan></text>
<line x1="823.10" y1="153.70" x2="827.00" y2="153.70" stroke="#111" stroke-width="2"/>
<text x="831.00" y="162.30" font-size="24">6<tspan font-size="19" stroke="#000" stroke-width="0.8" dy="-0.6">×</tspan><tspan dy="0.6">10</tspan><tspan dx="-2.2" dy="-8.9">4</tspan></text>
<line x1="823.10" y1="187.20" x2="827.00" y2="187.20" stroke="#111" stroke-width="2"/>
<text x="831.00" y="195.80" font-size="24">4<tspan font-size="19" stroke="#000" stroke-width="0.8" dy="-0.6">×</tspan><tspan dy="0.6">10</tspan><tspan dx="-2.2" dy="-8.9">4</tspan></text>
<line x1="823.10" y1="221.00" x2="827.00" y2="221.00" stroke="#111" stroke-width="2"/>
<text x="831.00" y="229.60" font-size="24">2<tspan font-size="19" stroke="#000" stroke-width="0.8" dy="-0.6">×</tspan><tspan dy="0.6">10</tspan><tspan dx="-2.2" dy="-8.9">4</tspan></text>
<line x1="823.10" y1="254.30" x2="827.00" y2="254.30" stroke="#111" stroke-width="2"/>
<text x="831.00" y="262.60" font-size="24">0</text>
<line x1="823.10" y1="286.00" x2="827.00" y2="286.00" stroke="#111" stroke-width="2"/>
<text x="831.00" y="294.60" font-size="24">6<tspan font-size="19" stroke="#000" stroke-width="0.8" dy="-0.6">×</tspan><tspan dy="0.6">10</tspan><tspan dx="-2.2" dy="-8.9">4</tspan></text>
<line x1="823.10" y1="327.60" x2="827.00" y2="327.60" stroke="#111" stroke-width="2"/>
<text x="831.00" y="336.20" font-size="24">4<tspan font-size="19" stroke="#000" stroke-width="0.8" dy="-0.6">×</tspan><tspan dy="0.6">10</tspan><tspan dx="-2.2" dy="-8.9">4</tspan></text>
<line x1="823.10" y1="369.00" x2="827.00" y2="369.00" stroke="#111" stroke-width="2"/>
<text x="831.00" y="377.60" font-size="24">2<tspan font-size="19" stroke="#000" stroke-width="0.8" dy="-0.6">×</tspan><tspan dy="0.6">10</tspan><tspan dx="-2.2" dy="-8.9">4</tspan></text>
<line x1="823.10" y1="408.30" x2="827.00" y2="408.30" stroke="#111" stroke-width="2"/>
<text x="831.00" y="416.60" font-size="24">0</text>
<text x="527.10" y="438.00" font-size="24" text-anchor="middle">20</text>
<text x="575.30" y="438.00" font-size="24" text-anchor="middle">30</text>
<text x="622.90" y="438.00" font-size="24" text-anchor="middle">40</text>
<text x="697.60" y="438.00" font-size="24" text-anchor="middle">20</text>
<text x="745.80" y="438.00" font-size="24" text-anchor="middle">30</text>
<text x="793.40" y="438.00" font-size="24" text-anchor="middle">40</text>
<line x1="523.20" y1="418.00" x2="523.20" y2="421.00" stroke="#222" stroke-width="1.2"/>
<line x1="571.20" y1="418.00" x2="571.20" y2="421.00" stroke="#222" stroke-width="1.2"/>
<line x1="619.20" y1="418.00" x2="619.20" y2="421.00" stroke="#222" stroke-width="1.2"/>
<line x1="693.80" y1="418.00" x2="693.80" y2="421.00" stroke="#222" stroke-width="1.2"/>
<line x1="741.80" y1="418.00" x2="741.80" y2="421.00" stroke="#222" stroke-width="1.2"/>
<line x1="789.80" y1="418.00" x2="789.80" y2="421.00" stroke="#222" stroke-width="1.2"/>
<text x="690.60" y="466.00" font-size="24" text-anchor="middle">Length of nucleotides</text>
<g fill="#8e8e8e" stroke="#a9a9a9" stroke-width="0.5"><rect x="923.69" y="248.61" width="4.82" height="0.89"/><rect x="928.93" y="248.61" width="4.82" height="0.89"/><rect x="934.17" y="247.26" width="4.82" height="2.24"/><rect x="939.40" y="247.26" width="4.82" height="2.24"/><rect x="944.64" y="240.11" width="4.82" height="9.39"/><rect x="949.88" y="224.46" width="4.82" height="25.04"/><rect x="955.12" y="143.99" width="4.82" height="105.51"/><rect x="960.36" y="162.32" width="4.82" height="87.18"/><rect x="965.59" y="203.01" width="4.82" height="46.49"/><rect x="970.83" y="243.91" width="4.82" height="5.59"/><rect x="976.07" y="248.38" width="4.82" height="1.12"/></g>
<g fill="#111"><rect x="925.25" y="247.31" width="1.7" height="1.80"/><ellipse cx="926.10" cy="248.26" rx="1.45" ry="1.15"/><rect x="930.49" y="247.31" width="1.7" height="1.80"/><ellipse cx="931.34" cy="248.26" rx="1.45" ry="1.15"/><rect x="935.73" y="245.96" width="1.7" height="1.80"/><ellipse cx="936.58" cy="246.91" rx="1.45" ry="1.15"/><rect x="940.96" y="245.96" width="1.7" height="1.80"/><ellipse cx="941.81" cy="246.91" rx="1.45" ry="1.15"/><rect x="946.20" y="238.10" width="1.7" height="2.51"/><ellipse cx="947.05" cy="239.76" rx="1.45" ry="1.15"/><rect x="951.44" y="218.21" width="1.7" height="6.76"/><ellipse cx="952.29" cy="224.11" rx="1.45" ry="1.15"/><rect x="956.68" y="120.08" width="1.7" height="24.42"/><ellipse cx="957.53" cy="143.64" rx="1.45" ry="1.15"/><rect x="961.92" y="139.75" width="1.7" height="23.08"/><ellipse cx="962.77" cy="161.97" rx="1.45" ry="1.15"/><rect x="967.15" y="189.15" width="1.7" height="14.36"/><ellipse cx="968.00" cy="202.66" rx="1.45" ry="1.15"/><rect x="972.39" y="241.68" width="1.7" height="2.74"/><ellipse cx="973.24" cy="243.56" rx="1.45" ry="1.15"/><rect x="977.63" y="247.08" width="1.7" height="1.80"/><ellipse cx="978.48" cy="248.03" rx="1.45" ry="1.15"/><circle cx="983.72" cy="249.20" r="1"/><circle cx="988.96" cy="249.20" r="1"/><circle cx="994.19" cy="249.20" r="1"/><circle cx="999.43" cy="249.20" r="1"/><circle cx="1004.67" cy="249.20" r="1"/><circle cx="1009.91" cy="249.20" r="1"/><circle cx="1015.15" cy="249.20" r="1"/><circle cx="1020.38" cy="249.20" r="1"/><circle cx="1025.62" cy="249.20" r="1"/><circle cx="1030.86" cy="249.20" r="1"/><circle cx="1036.10" cy="249.20" r="1"/><circle cx="1041.34" cy="249.20" r="1"/><circle cx="1046.57" cy="249.20" r="1"/><circle cx="1051.81" cy="249.20" r="1"/><circle cx="1057.05" cy="249.20" r="1"/><circle cx="1062.29" cy="249.20" r="1"/><circle cx="1067.53" cy="249.20" r="1"/><circle cx="1072.76" cy="249.20" r="1"/><circle cx="1078.00" cy="249.20" r="1"/><circle cx="1083.24" cy="249.20" r="1"/></g>
<rect x="916.00" y="114.50" width="177.50" height="141.50" fill="none" stroke="#333" stroke-width="1.3"/>
<g fill="#cf272d" stroke="#e8555a" stroke-width="0.5"><rect x="1108.79" y="245.03" width="4.82" height="4.47"/><rect x="1114.03" y="242.12" width="4.82" height="7.38"/><rect x="1119.27" y="243.24" width="4.82" height="6.26"/><rect x="1124.50" y="247.71" width="4.82" height="1.79"/><rect x="1129.74" y="248.61" width="4.82" height="0.89"/><rect x="1134.98" y="248.16" width="4.82" height="1.34"/><rect x="1140.22" y="246.82" width="4.82" height="2.68"/><rect x="1145.46" y="248.61" width="4.82" height="0.89"/><rect x="1150.69" y="248.61" width="4.82" height="0.89"/><rect x="1155.93" y="248.83" width="4.82" height="0.67"/><rect x="1161.17" y="248.16" width="4.82" height="1.34"/><rect x="1166.41" y="247.71" width="4.82" height="1.79"/><rect x="1171.65" y="245.03" width="4.82" height="4.47"/><rect x="1176.88" y="243.91" width="4.82" height="5.59"/><rect x="1182.12" y="246.37" width="4.82" height="3.13"/><rect x="1187.36" y="243.24" width="4.82" height="6.26"/><rect x="1192.60" y="242.79" width="4.82" height="6.71"/><rect x="1197.84" y="236.09" width="4.82" height="13.41"/><rect x="1203.07" y="234.97" width="4.82" height="14.53"/><rect x="1208.31" y="232.06" width="4.82" height="17.44"/><rect x="1213.55" y="226.70" width="4.82" height="22.80"/><rect x="1218.79" y="239.44" width="4.82" height="10.06"/><rect x="1224.03" y="241.01" width="4.82" height="8.49"/><rect x="1229.26" y="246.15" width="4.82" height="3.35"/><rect x="1234.50" y="247.26" width="4.82" height="2.24"/><rect x="1239.74" y="248.16" width="4.82" height="1.34"/><rect x="1244.98" y="248.61" width="4.82" height="0.89"/><rect x="1250.22" y="249.05" width="4.82" height="0.45"/><rect x="1255.45" y="249.05" width="4.82" height="0.45"/><rect x="1260.69" y="248.83" width="4.82" height="0.67"/><rect x="1265.93" y="249.05" width="4.82" height="0.45"/></g>
<g fill="#111"><rect x="1110.35" y="243.91" width="1.7" height="1.62"/><ellipse cx="1111.20" cy="244.68" rx="1.45" ry="1.15"/><rect x="1115.59" y="240.56" width="1.7" height="2.06"/><ellipse cx="1116.44" cy="241.77" rx="1.45" ry="1.15"/><rect x="1120.83" y="241.45" width="1.7" height="2.29"/><ellipse cx="1121.68" cy="242.89" rx="1.45" ry="1.15"/><rect x="1126.06" y="246.41" width="1.7" height="1.80"/><ellipse cx="1126.91" cy="247.36" rx="1.45" ry="1.15"/><rect x="1131.30" y="247.31" width="1.7" height="1.80"/><ellipse cx="1132.15" cy="248.26" rx="1.45" ry="1.15"/><rect x="1136.54" y="246.86" width="1.7" height="1.80"/><ellipse cx="1137.39" cy="247.81" rx="1.45" ry="1.15"/><rect x="1141.78" y="245.52" width="1.7" height="1.80"/><ellipse cx="1142.63" cy="246.47" rx="1.45" ry="1.15"/><rect x="1147.02" y="247.31" width="1.7" height="1.80"/><ellipse cx="1147.87" cy="248.26" rx="1.45" ry="1.15"/><rect x="1152.25" y="247.31" width="1.7" height="1.80"/><ellipse cx="1153.10" cy="248.26" rx="1.45" ry="1.15"/><rect x="1157.49" y="247.53" width="1.7" height="1.80"/><ellipse cx="1158.34" cy="248.48" rx="1.45" ry="1.15"/><rect x="1162.73" y="246.86" width="1.7" height="1.80"/><ellipse cx="1163.58" cy="247.81" rx="1.45" ry="1.15"/><rect x="1167.97" y="246.41" width="1.7" height="1.80"/><ellipse cx="1168.82" cy="247.36" rx="1.45" ry="1.15"/><rect x="1173.21" y="243.69" width="1.7" height="1.84"/><ellipse cx="1174.06" cy="244.68" rx="1.45" ry="1.15"/><rect x="1178.44" y="242.12" width="1.7" height="2.29"/><ellipse cx="1179.29" cy="243.56" rx="1.45" ry="1.15"/><rect x="1183.68" y="245.07" width="1.7" height="1.80"/><ellipse cx="1184.53" cy="246.02" rx="1.45" ry="1.15"/><rect x="1188.92" y="240.34" width="1.7" height="3.41"/><ellipse cx="1189.77" cy="242.89" rx="1.45" ry="1.15"/><rect x="1194.16" y="239.89" width="1.7" height="3.41"/><ellipse cx="1195.01" cy="242.44" rx="1.45" ry="1.15"/><rect x="1199.40" y="229.16" width="1.7" height="7.43"/><ellipse cx="1200.25" cy="235.74" rx="1.45" ry="1.15"/><rect x="1204.63" y="228.71" width="1.7" height="6.76"/><ellipse cx="1205.48" cy="234.62" rx="1.45" ry="1.15"/><rect x="1209.87" y="224.02" width="1.7" height="8.55"/><ellipse cx="1210.72" cy="231.71" rx="1.45" ry="1.15"/><rect x="1215.11" y="219.10" width="1.7" height="8.10"/><ellipse cx="1215.96" cy="226.35" rx="1.45" ry="1.15"/><rect x="1220.35" y="235.19" width="1.7" height="4.75"/><ellipse cx="1221.20" cy="239.09" rx="1.45" ry="1.15"/><rect x="1225.59" y="236.31" width="1.7" height="5.19"/><ellipse cx="1226.44" cy="240.66" rx="1.45" ry="1.15"/><rect x="1230.82" y="244.85" width="1.7" height="1.80"/><ellipse cx="1231.67" cy="245.80" rx="1.45" ry="1.15"/><rect x="1236.06" y="245.96" width="1.7" height="1.80"/><ellipse cx="1236.91" cy="246.91" rx="1.45" ry="1.15"/><rect x="1241.30" y="246.86" width="1.7" height="1.80"/><ellipse cx="1242.15" cy="247.81" rx="1.45" ry="1.15"/><rect x="1246.54" y="247.31" width="1.7" height="1.80"/><ellipse cx="1247.39" cy="248.26" rx="1.45" ry="1.15"/><rect x="1251.78" y="247.75" width="1.7" height="1.80"/><ellipse cx="1252.63" cy="248.70" rx="1.45" ry="1.15"/><rect x="1257.01" y="247.75" width="1.7" height="1.80"/><ellipse cx="1257.86" cy="248.70" rx="1.45" ry="1.15"/><rect x="1262.25" y="247.53" width="1.7" height="1.80"/><ellipse cx="1263.10" cy="248.48" rx="1.45" ry="1.15"/><rect x="1267.49" y="247.75" width="1.7" height="1.80"/><ellipse cx="1268.34" cy="248.70" rx="1.45" ry="1.15"/></g>
<rect x="1101.30" y="114.50" width="177.50" height="141.50" fill="none" stroke="#333" stroke-width="1.3"/>
<g fill="#8e8e8e" stroke="#a9a9a9" stroke-width="0.5"><rect x="923.69" y="408.02" width="4.82" height="2.68"/><rect x="928.93" y="409.81" width="4.82" height="0.89"/><rect x="934.17" y="403.99" width="4.82" height="6.71"/><rect x="939.40" y="407.12" width="4.82" height="3.58"/><rect x="944.64" y="393.94" width="4.82" height="16.76"/><rect x="949.88" y="373.15" width="4.82" height="37.55"/><rect x="955.12" y="277.70" width="4.82" height="133.00"/><rect x="960.36" y="335.82" width="4.82" height="74.88"/><rect x="965.59" y="372.70" width="4.82" height="38.00"/><rect x="970.83" y="400.64" width="4.82" height="10.06"/><rect x="976.07" y="408.91" width="4.82" height="1.79"/><rect x="981.31" y="410.25" width="4.82" height="0.45"/></g>
<g fill="#111"><rect x="925.25" y="406.72" width="1.7" height="1.80"/><ellipse cx="926.10" cy="407.67" rx="1.45" ry="1.15"/><rect x="930.49" y="408.51" width="1.7" height="1.80"/><ellipse cx="931.34" cy="409.46" rx="1.45" ry="1.15"/><rect x="935.73" y="402.43" width="1.7" height="2.06"/><ellipse cx="936.58" cy="403.64" rx="1.45" ry="1.15"/><rect x="940.96" y="405.82" width="1.7" height="1.80"/><ellipse cx="941.81" cy="406.77" rx="1.45" ry="1.15"/><rect x="946.20" y="393.26" width="1.7" height="1.17"/><ellipse cx="947.05" cy="393.59" rx="1.45" ry="1.15"/><rect x="951.44" y="370.91" width="1.7" height="2.74"/><ellipse cx="952.29" cy="372.80" rx="1.45" ry="1.15"/><rect x="956.68" y="276.58" width="1.7" height="1.62"/><ellipse cx="957.53" cy="277.35" rx="1.45" ry="1.15"/><rect x="961.92" y="327.10" width="1.7" height="9.22"/><ellipse cx="962.77" cy="335.47" rx="1.45" ry="1.15"/><rect x="967.15" y="367.78" width="1.7" height="5.42"/><ellipse cx="968.00" cy="372.35" rx="1.45" ry="1.15"/><rect x="972.39" y="397.51" width="1.7" height="3.63"/><ellipse cx="973.24" cy="400.29" rx="1.45" ry="1.15"/><rect x="977.63" y="407.61" width="1.7" height="1.80"/><ellipse cx="978.48" cy="408.56" rx="1.45" ry="1.15"/><rect x="982.87" y="408.95" width="1.7" height="1.80"/><ellipse cx="983.72" cy="409.90" rx="1.45" ry="1.15"/><circle cx="988.96" cy="410.40" r="1"/><circle cx="994.19" cy="410.40" r="1"/><circle cx="999.43" cy="410.40" r="1"/><circle cx="1004.67" cy="410.40" r="1"/><circle cx="1009.91" cy="410.40" r="1"/><circle cx="1015.15" cy="410.40" r="1"/><circle cx="1020.38" cy="410.40" r="1"/><circle cx="1025.62" cy="410.40" r="1"/><circle cx="1030.86" cy="410.40" r="1"/><circle cx="1036.10" cy="410.40" r="1"/><circle cx="1041.34" cy="410.40" r="1"/><circle cx="1046.57" cy="410.40" r="1"/><circle cx="1051.81" cy="410.40" r="1"/><circle cx="1057.05" cy="410.40" r="1"/><circle cx="1062.29" cy="410.40" r="1"/><circle cx="1067.53" cy="410.40" r="1"/><circle cx="1072.76" cy="410.40" r="1"/><circle cx="1078.00" cy="410.40" r="1"/><circle cx="1083.24" cy="410.40" r="1"/></g>
<rect x="916.00" y="270.60" width="177.50" height="146.60" fill="none" stroke="#333" stroke-width="1.3"/>
<g fill="#cf272d" stroke="#e8555a" stroke-width="0.5"><rect x="1108.79" y="404.44" width="4.82" height="6.26"/><rect x="1114.03" y="404.44" width="4.82" height="6.26"/><rect x="1119.27" y="403.99" width="4.82" height="6.71"/><rect x="1124.50" y="408.46" width="4.82" height="2.24"/><rect x="1129.74" y="409.58" width="4.82" height="1.12"/><rect x="1134.98" y="409.14" width="4.82" height="1.56"/><rect x="1140.22" y="408.91" width="4.82" height="1.79"/><rect x="1145.46" y="408.91" width="4.82" height="1.79"/><rect x="1150.69" y="408.46" width="4.82" height="2.24"/><rect x="1155.93" y="409.36" width="4.82" height="1.34"/><rect x="1161.17" y="408.02" width="4.82" height="2.68"/><rect x="1166.41" y="406.23" width="4.82" height="4.47"/><rect x="1171.65" y="406.68" width="4.82" height="4.02"/><rect x="1176.88" y="404.44" width="4.82" height="6.26"/><rect x="1182.12" y="388.79" width="4.82" height="21.91"/><rect x="1187.36" y="354.82" width="4.82" height="55.88"/><rect x="1192.60" y="388.79" width="4.82" height="21.91"/><rect x="1197.84" y="362.64" width="4.82" height="48.06"/><rect x="1203.07" y="354.82" width="4.82" height="55.88"/><rect x="1208.31" y="347.66" width="4.82" height="63.04"/><rect x="1213.55" y="381.19" width="4.82" height="29.51"/><rect x="1218.79" y="405.11" width="4.82" height="5.59"/><rect x="1224.03" y="404.66" width="4.82" height="6.04"/><rect x="1229.26" y="404.44" width="4.82" height="6.26"/><rect x="1234.50" y="405.11" width="4.82" height="5.59"/><rect x="1239.74" y="407.35" width="4.82" height="3.35"/><rect x="1244.98" y="408.02" width="4.82" height="2.68"/><rect x="1250.22" y="410.03" width="4.82" height="0.67"/><rect x="1255.45" y="410.25" width="4.82" height="0.45"/><rect x="1260.69" y="408.91" width="4.82" height="1.79"/><rect x="1265.93" y="409.58" width="4.82" height="1.12"/></g>
<g fill="#111"><rect x="1110.35" y="403.14" width="1.7" height="1.80"/><ellipse cx="1111.20" cy="404.09" rx="1.45" ry="1.15"/><rect x="1115.59" y="403.14" width="1.7" height="1.80"/><ellipse cx="1116.44" cy="404.09" rx="1.45" ry="1.15"/><rect x="1120.83" y="402.69" width="1.7" height="1.80"/><ellipse cx="1121.68" cy="403.64" rx="1.45" ry="1.15"/><rect x="1126.06" y="407.16" width="1.7" height="1.80"/><ellipse cx="1126.91" cy="408.11" rx="1.45" ry="1.15"/><rect x="1131.30" y="408.28" width="1.7" height="1.80"/><ellipse cx="1132.15" cy="409.23" rx="1.45" ry="1.15"/><rect x="1136.54" y="407.84" width="1.7" height="1.80"/><ellipse cx="1137.39" cy="408.79" rx="1.45" ry="1.15"/><rect x="1141.78" y="407.61" width="1.7" height="1.80"/><ellipse cx="1142.63" cy="408.56" rx="1.45" ry="1.15"/><rect x="1147.02" y="407.61" width="1.7" height="1.80"/><ellipse cx="1147.87" cy="408.56" rx="1.45" ry="1.15"/><rect x="1152.25" y="407.16" width="1.7" height="1.80"/><ellipse cx="1153.10" cy="408.11" rx="1.45" ry="1.15"/><rect x="1157.49" y="408.06" width="1.7" height="1.80"/><ellipse cx="1158.34" cy="409.01" rx="1.45" ry="1.15"/><rect x="1162.73" y="406.72" width="1.7" height="1.80"/><ellipse cx="1163.58" cy="407.67" rx="1.45" ry="1.15"/><rect x="1167.97" y="404.93" width="1.7" height="1.80"/><ellipse cx="1168.82" cy="405.88" rx="1.45" ry="1.15"/><rect x="1173.21" y="405.38" width="1.7" height="1.80"/><ellipse cx="1174.06" cy="406.33" rx="1.45" ry="1.15"/><rect x="1178.44" y="403.55" width="1.7" height="1.39"/><ellipse cx="1179.29" cy="404.09" rx="1.45" ry="1.15"/><rect x="1183.68" y="387.90" width="1.7" height="1.39"/><ellipse cx="1184.53" cy="388.44" rx="1.45" ry="1.15"/><rect x="1188.92" y="353.92" width="1.7" height="1.39"/><ellipse cx="1189.77" cy="354.47" rx="1.45" ry="1.15"/><rect x="1194.16" y="384.55" width="1.7" height="4.75"/><ellipse cx="1195.01" cy="388.44" rx="1.45" ry="1.15"/><rect x="1199.40" y="346.99" width="1.7" height="16.15"/><ellipse cx="1200.25" cy="362.29" rx="1.45" ry="1.15"/><rect x="1204.63" y="333.58" width="1.7" height="21.74"/><ellipse cx="1205.48" cy="354.47" rx="1.45" ry="1.15"/><rect x="1209.87" y="328.22" width="1.7" height="19.95"/><ellipse cx="1210.72" cy="347.31" rx="1.45" ry="1.15"/><rect x="1215.11" y="370.02" width="1.7" height="11.68"/><ellipse cx="1215.96" cy="380.84" rx="1.45" ry="1.15"/><rect x="1220.35" y="403.81" width="1.7" height="1.80"/><ellipse cx="1221.20" cy="404.76" rx="1.45" ry="1.15"/><rect x="1225.59" y="403.36" width="1.7" height="1.80"/><ellipse cx="1226.44" cy="404.31" rx="1.45" ry="1.15"/><rect x="1230.82" y="399.75" width="1.7" height="5.19"/><ellipse cx="1231.67" cy="404.09" rx="1.45" ry="1.15"/><rect x="1236.06" y="402.43" width="1.7" height="3.18"/><ellipse cx="1236.91" cy="404.76" rx="1.45" ry="1.15"/><rect x="1241.30" y="406.05" width="1.7" height="1.80"/><ellipse cx="1242.15" cy="407.00" rx="1.45" ry="1.15"/><rect x="1246.54" y="406.72" width="1.7" height="1.80"/><ellipse cx="1247.39" cy="407.67" rx="1.45" ry="1.15"/><rect x="1251.78" y="408.73" width="1.7" height="1.80"/><ellipse cx="1252.63" cy="409.68" rx="1.45" ry="1.15"/><rect x="1257.01" y="408.95" width="1.7" height="1.80"/><ellipse cx="1257.86" cy="409.90" rx="1.45" ry="1.15"/><rect x="1262.25" y="407.61" width="1.7" height="1.80"/><ellipse cx="1263.10" cy="408.56" rx="1.45" ry="1.15"/><rect x="1267.49" y="408.28" width="1.7" height="1.80"/><ellipse cx="1268.34" cy="409.23" rx="1.45" ry="1.15"/></g>
<rect x="1101.30" y="270.60" width="177.50" height="146.60" fill="none" stroke="#333" stroke-width="1.3"/>
<line x1="1278.80" y1="123.60" x2="1282.50" y2="123.60" stroke="#222" stroke-width="1.3"/>
<text x="1282.90" y="132.20" font-size="24">6<tspan font-size="19" stroke="#000" stroke-width="0.8" dy="-0.6">×</tspan><tspan dy="0.6">10</tspan><tspan dx="-2.2" dy="-8.9">4</tspan></text>
<line x1="1278.80" y1="167.80" x2="1282.50" y2="167.80" stroke="#222" stroke-width="1.3"/>
<text x="1282.90" y="176.40" font-size="24">4<tspan font-size="19" stroke="#000" stroke-width="0.8" dy="-0.6">×</tspan><tspan dy="0.6">10</tspan><tspan dx="-2.2" dy="-8.9">4</tspan></text>
<line x1="1278.80" y1="209.70" x2="1282.50" y2="209.70" stroke="#222" stroke-width="1.3"/>
<text x="1282.90" y="218.30" font-size="24">2<tspan font-size="19" stroke="#000" stroke-width="0.8" dy="-0.6">×</tspan><tspan dy="0.6">10</tspan><tspan dx="-2.2" dy="-8.9">4</tspan></text>
<line x1="1278.80" y1="248.40" x2="1282.50" y2="248.40" stroke="#222" stroke-width="1.3"/>
<text x="1283.50" y="256.70" font-size="24">0</text>
<line x1="1278.80" y1="271.40" x2="1282.50" y2="271.40" stroke="#222" stroke-width="1.3"/>
<text x="1287.50" y="280.00" font-size="24">1<tspan font-size="19" stroke="#000" stroke-width="0.8" dy="-0.6">×</tspan><tspan dy="0.6">10</tspan><tspan dx="-2.2" dy="-8.9">4</tspan></text>
<line x1="1278.80" y1="309.50" x2="1282.50" y2="309.50" stroke="#222" stroke-width="1.3"/>
<text x="1287.50" y="317.80" font-size="24">7.5<tspan font-size="19" stroke="#000" stroke-width="0.8" dx="-5" dy="-0.6">×</tspan><tspan dy="0.6">10</tspan><tspan dx="-5" dy="-8.9">4</tspan></text>
<line x1="1278.80" y1="343.40" x2="1282.50" y2="343.40" stroke="#222" stroke-width="1.3"/>
<text x="1287.50" y="352.00" font-size="24">5<tspan font-size="19" stroke="#000" stroke-width="0.8" dy="-0.6">×</tspan><tspan dy="0.6">10</tspan><tspan dx="-2.2" dy="-8.9">3</tspan></text>
<line x1="1278.80" y1="377.20" x2="1282.50" y2="377.20" stroke="#222" stroke-width="1.3"/>
<text x="1287.50" y="385.50" font-size="24">2.5<tspan font-size="19" stroke="#000" stroke-width="0.8" dx="-5" dy="-0.6">×</tspan><tspan dy="0.6">10</tspan><tspan dx="-5" dy="-8.9">3</tspan></text>
<line x1="1278.80" y1="409.60" x2="1282.50" y2="409.60" stroke="#222" stroke-width="1.3"/>
<text x="1287.50" y="417.90" font-size="24">0</text>
<text x="960.90" y="438.00" font-size="24" text-anchor="middle">20</text>
<text x="1009.90" y="438.00" font-size="24" text-anchor="middle">30</text>
<text x="1058.30" y="438.00" font-size="24" text-anchor="middle">40</text>
<text x="1143.00" y="438.00" font-size="24" text-anchor="middle">20</text>
<text x="1192.20" y="438.00" font-size="24" text-anchor="middle">30</text>
<text x="1241.00" y="438.00" font-size="24" text-anchor="middle">40</text>
<line x1="953.00" y1="417.20" x2="953.00" y2="420.20" stroke="#222" stroke-width="1.2"/>
<line x1="1005.40" y1="417.20" x2="1005.40" y2="420.20" stroke="#222" stroke-width="1.2"/>
<line x1="1057.80" y1="417.20" x2="1057.80" y2="420.20" stroke="#222" stroke-width="1.2"/>
<line x1="1138.20" y1="417.20" x2="1138.20" y2="420.20" stroke="#222" stroke-width="1.2"/>
<line x1="1190.60" y1="417.20" x2="1190.60" y2="420.20" stroke="#222" stroke-width="1.2"/>
<line x1="1243.00" y1="417.20" x2="1243.00" y2="420.20" stroke="#222" stroke-width="1.2"/>
<text x="1126.00" y="466.00" font-size="24" text-anchor="middle">Length of nucleotides</text>
<text x="685.00" y="513.00" font-size="24" text-anchor="middle">PANDORA small RNA profile</text>
<line x1="64.00" y1="519.80" x2="1230.00" y2="519.80" stroke="#111" stroke-width="1.5"/>
<text x="227.00" y="540.90" font-size="24" text-anchor="middle">Naive mouse ES Cell</text>
<text x="678.80" y="540.90" font-size="24" text-anchor="middle">Primed human ES Cell</text>
<text x="1118.70" y="540.90" font-size="24" text-anchor="middle">Human Neural Prog.</text>
<rect x="33.80" y="551.60" width="23.80" height="23.00" fill="#8c8c8c" stroke="#222" stroke-width="1.3"/>
<text x="68.00" y="569.10" font-size="24">miRNA</text>
<rect x="209.20" y="551.60" width="23.80" height="23.00" fill="#cf272d" stroke="#222" stroke-width="1.3"/>
<text x="242.80" y="569.10" font-size="24">tsRNA</text>
<rect x="489.50" y="551.60" width="23.80" height="23.00" fill="#8c8c8c" stroke="#222" stroke-width="1.3"/>
<text x="523.70" y="569.10" font-size="24">miRNA</text>
<rect x="660.50" y="551.60" width="23.80" height="23.00" fill="#cf272d" stroke="#222" stroke-width="1.3"/>
<text x="694.10" y="569.10" font-size="24">tsRNA</text>
<rect x="931.10" y="551.40" width="23.80" height="23.40" fill="#8c8c8c" stroke="#222" stroke-width="1.3"/>
<text x="965.30" y="568.90" font-size="24">miRNA</text>
<rect x="1106.30" y="551.40" width="23.80" height="23.40" fill="#cf272d" stroke="#222" stroke-width="1.3"/>
<text x="1139.90" y="568.90" font-size="24">tsRNA</text>
<text transform="translate(27.00 645.00) rotate(-90)" font-size="24" text-anchor="middle">Cytoplasm</text>
<text transform="translate(27.00 810.60) rotate(-90)" font-size="24" text-anchor="middle">P-body</text>
<g fill="#8e8e8e" stroke="#a9a9a9" stroke-width="0.5"><rect x="42.75" y="721.55" width="4.50" height="1.65"/><rect x="47.64" y="722.17" width="4.50" height="1.03"/><rect x="52.52" y="720.73" width="4.50" height="2.47"/><rect x="57.41" y="721.14" width="4.50" height="2.06"/><rect x="62.30" y="715.99" width="4.50" height="7.21"/><rect x="67.18" y="614.49" width="4.50" height="108.71"/><rect x="72.07" y="631.58" width="4.50" height="91.62"/><rect x="76.95" y="699.52" width="4.50" height="23.68"/><rect x="81.84" y="710.43" width="4.50" height="12.77"/><rect x="86.73" y="718.67" width="4.50" height="4.53"/><rect x="91.61" y="721.14" width="4.50" height="2.06"/><rect x="96.50" y="721.96" width="4.50" height="1.24"/><rect x="101.38" y="722.17" width="4.50" height="1.03"/><rect x="106.27" y="722.38" width="4.50" height="0.82"/><rect x="111.16" y="721.55" width="4.50" height="1.65"/><rect x="116.04" y="722.17" width="4.50" height="1.03"/><rect x="120.93" y="722.58" width="4.50" height="0.62"/><rect x="125.81" y="722.17" width="4.50" height="1.03"/><rect x="130.70" y="722.38" width="4.50" height="0.82"/><rect x="135.59" y="722.17" width="4.50" height="1.03"/><rect x="140.47" y="720.73" width="4.50" height="2.47"/><rect x="145.36" y="721.96" width="4.50" height="1.24"/><rect x="150.24" y="722.38" width="4.50" height="0.82"/><rect x="155.13" y="722.38" width="4.50" height="0.82"/><rect x="160.02" y="722.17" width="4.50" height="1.03"/><rect x="164.90" y="722.38" width="4.50" height="0.82"/><rect x="169.79" y="722.38" width="4.50" height="0.82"/><rect x="174.67" y="717.44" width="4.50" height="5.76"/><rect x="179.56" y="721.14" width="4.50" height="2.06"/><rect x="184.45" y="722.58" width="4.50" height="0.62"/><rect x="189.33" y="722.79" width="4.50" height="0.41"/></g>
<g fill="#111"><rect x="44.15" y="720.25" width="1.7" height="1.80"/><ellipse cx="45.00" cy="721.20" rx="1.45" ry="1.15"/><rect x="49.04" y="720.87" width="1.7" height="1.80"/><ellipse cx="49.89" cy="721.82" rx="1.45" ry="1.15"/><rect x="53.92" y="719.43" width="1.7" height="1.80"/><ellipse cx="54.77" cy="720.38" rx="1.45" ry="1.15"/><rect x="58.81" y="719.84" width="1.7" height="1.80"/><ellipse cx="59.66" cy="720.79" rx="1.45" ry="1.15"/><rect x="63.69" y="714.35" width="1.7" height="2.15"/><ellipse cx="64.54" cy="715.64" rx="1.45" ry="1.15"/><rect x="68.58" y="588.34" width="1.7" height="26.65"/><ellipse cx="69.43" cy="614.14" rx="1.45" ry="1.15"/><rect x="73.47" y="618.20" width="1.7" height="13.88"/><ellipse cx="74.32" cy="631.23" rx="1.45" ry="1.15"/><rect x="78.35" y="694.79" width="1.7" height="5.24"/><ellipse cx="79.20" cy="699.17" rx="1.45" ry="1.15"/><rect x="83.24" y="708.79" width="1.7" height="2.15"/><ellipse cx="84.09" cy="710.08" rx="1.45" ry="1.15"/><rect x="88.12" y="717.37" width="1.7" height="1.80"/><ellipse cx="88.97" cy="718.32" rx="1.45" ry="1.15"/><rect x="93.01" y="719.84" width="1.7" height="1.80"/><ellipse cx="93.86" cy="720.79" rx="1.45" ry="1.15"/><rect x="97.90" y="720.66" width="1.7" height="1.80"/><ellipse cx="98.75" cy="721.61" rx="1.45" ry="1.15"/><rect x="102.78" y="720.87" width="1.7" height="1.80"/><ellipse cx="103.63" cy="721.82" rx="1.45" ry="1.15"/><rect x="107.67" y="721.08" width="1.7" height="1.80"/><ellipse cx="108.52" cy="722.03" rx="1.45" ry="1.15"/><rect x="112.55" y="720.25" width="1.7" height="1.80"/><ellipse cx="113.40" cy="721.20" rx="1.45" ry="1.15"/><rect x="117.44" y="720.87" width="1.7" height="1.80"/><ellipse cx="118.29" cy="721.82" rx="1.45" ry="1.15"/><rect x="122.33" y="721.28" width="1.7" height="1.80"/><ellipse cx="123.18" cy="722.23" rx="1.45" ry="1.15"/><rect x="127.21" y="720.87" width="1.7" height="1.80"/><ellipse cx="128.06" cy="721.82" rx="1.45" ry="1.15"/><rect x="132.10" y="721.08" width="1.7" height="1.80"/><ellipse cx="132.95" cy="722.03" rx="1.45" ry="1.15"/><rect x="136.98" y="720.87" width="1.7" height="1.80"/><ellipse cx="137.83" cy="721.82" rx="1.45" ry="1.15"/><rect x="141.87" y="719.43" width="1.7" height="1.80"/><ellipse cx="142.72" cy="720.38" rx="1.45" ry="1.15"/><rect x="146.76" y="720.66" width="1.7" height="1.80"/><ellipse cx="147.61" cy="721.61" rx="1.45" ry="1.15"/><rect x="151.64" y="721.08" width="1.7" height="1.80"/><ellipse cx="152.49" cy="722.03" rx="1.45" ry="1.15"/><rect x="156.53" y="721.08" width="1.7" height="1.80"/><ellipse cx="157.38" cy="722.03" rx="1.45" ry="1.15"/><rect x="161.41" y="720.87" width="1.7" height="1.80"/><ellipse cx="162.26" cy="721.82" rx="1.45" ry="1.15"/><rect x="166.30" y="721.08" width="1.7" height="1.80"/><ellipse cx="167.15" cy="722.03" rx="1.45" ry="1.15"/><rect x="171.19" y="721.08" width="1.7" height="1.80"/><ellipse cx="172.04" cy="722.03" rx="1.45" ry="1.15"/><rect x="176.07" y="715.99" width="1.7" height="1.94"/><ellipse cx="176.92" cy="717.09" rx="1.45" ry="1.15"/><rect x="180.96" y="719.84" width="1.7" height="1.80"/><ellipse cx="181.81" cy="720.79" rx="1.45" ry="1.15"/><rect x="185.84" y="721.28" width="1.7" height="1.80"/><ellipse cx="186.69" cy="722.23" rx="1.45" ry="1.15"/><rect x="190.73" y="721.49" width="1.7" height="1.80"/><ellipse cx="191.58" cy="722.44" rx="1.45" ry="1.15"/></g>
<rect x="35.40" y="582.00" width="165.40" height="148.60" fill="none" stroke="#000" stroke-width="1.5"/>
<g fill="#cf272d" stroke="#e8555a" stroke-width="0.5"><rect x="214.78" y="699.51" width="4.43" height="24.29"/><rect x="219.60" y="697.03" width="4.43" height="26.77"/><rect x="224.42" y="708.36" width="4.43" height="15.44"/><rect x="229.24" y="715.98" width="4.43" height="7.82"/><rect x="234.06" y="719.68" width="4.43" height="4.12"/><rect x="238.87" y="718.86" width="4.43" height="4.94"/><rect x="243.69" y="717.62" width="4.43" height="6.18"/><rect x="248.51" y="715.15" width="4.43" height="8.65"/><rect x="253.33" y="713.92" width="4.43" height="9.88"/><rect x="258.15" y="716.59" width="4.43" height="7.21"/><rect x="262.96" y="709.39" width="4.43" height="14.41"/><rect x="267.78" y="711.45" width="4.43" height="12.35"/><rect x="272.60" y="711.45" width="4.43" height="12.35"/><rect x="277.42" y="702.18" width="4.43" height="21.62"/><rect x="282.24" y="704.24" width="4.43" height="19.56"/><rect x="287.05" y="655.86" width="4.43" height="67.94"/><rect x="291.87" y="679.53" width="4.43" height="44.27"/><rect x="296.69" y="670.27" width="4.43" height="53.53"/><rect x="301.51" y="661.00" width="4.43" height="62.80"/><rect x="306.33" y="692.92" width="4.43" height="30.88"/><rect x="311.14" y="697.45" width="4.43" height="26.35"/><rect x="315.96" y="709.80" width="4.43" height="14.00"/><rect x="320.78" y="704.24" width="4.43" height="19.56"/><rect x="325.60" y="702.18" width="4.43" height="21.62"/><rect x="330.42" y="707.33" width="4.43" height="16.47"/><rect x="335.23" y="713.92" width="4.43" height="9.88"/><rect x="340.05" y="717.62" width="4.43" height="6.18"/><rect x="344.87" y="720.71" width="4.43" height="3.09"/><rect x="349.69" y="718.65" width="4.43" height="5.15"/><rect x="354.51" y="721.74" width="4.43" height="2.06"/><rect x="359.32" y="721.74" width="4.43" height="2.06"/></g>
<g fill="#111"><rect x="216.15" y="696.42" width="1.7" height="3.59"/><ellipse cx="217.00" cy="699.16" rx="1.45" ry="1.15"/><rect x="220.97" y="690.86" width="1.7" height="6.68"/><ellipse cx="221.82" cy="696.68" rx="1.45" ry="1.15"/><rect x="225.79" y="706.09" width="1.7" height="2.76"/><ellipse cx="226.64" cy="708.01" rx="1.45" ry="1.15"/><rect x="230.60" y="714.68" width="1.7" height="1.80"/><ellipse cx="231.45" cy="715.63" rx="1.45" ry="1.15"/><rect x="235.42" y="718.38" width="1.7" height="1.80"/><ellipse cx="236.27" cy="719.33" rx="1.45" ry="1.15"/><rect x="240.24" y="717.56" width="1.7" height="1.80"/><ellipse cx="241.09" cy="718.51" rx="1.45" ry="1.15"/><rect x="245.06" y="716.32" width="1.7" height="1.80"/><ellipse cx="245.91" cy="717.27" rx="1.45" ry="1.15"/><rect x="249.88" y="713.85" width="1.7" height="1.80"/><ellipse cx="250.73" cy="714.80" rx="1.45" ry="1.15"/><rect x="254.69" y="712.48" width="1.7" height="1.94"/><ellipse cx="255.54" cy="713.57" rx="1.45" ry="1.15"/><rect x="259.51" y="712.89" width="1.7" height="4.21"/><ellipse cx="260.36" cy="716.24" rx="1.45" ry="1.15"/><rect x="264.33" y="700.95" width="1.7" height="8.94"/><ellipse cx="265.18" cy="709.04" rx="1.45" ry="1.15"/><rect x="269.15" y="709.80" width="1.7" height="2.15"/><ellipse cx="270.00" cy="711.10" rx="1.45" ry="1.15"/><rect x="273.97" y="708.15" width="1.7" height="3.79"/><ellipse cx="274.82" cy="711.10" rx="1.45" ry="1.15"/><rect x="278.78" y="700.53" width="1.7" height="2.15"/><ellipse cx="279.63" cy="701.83" rx="1.45" ry="1.15"/><rect x="283.60" y="702.94" width="1.7" height="1.80"/><ellipse cx="284.45" cy="703.89" rx="1.45" ry="1.15"/><rect x="288.42" y="647.00" width="1.7" height="9.35"/><ellipse cx="289.27" cy="655.51" rx="1.45" ry="1.15"/><rect x="293.24" y="675.21" width="1.7" height="4.82"/><ellipse cx="294.09" cy="679.18" rx="1.45" ry="1.15"/><rect x="298.06" y="658.95" width="1.7" height="11.82"/><ellipse cx="298.91" cy="669.92" rx="1.45" ry="1.15"/><rect x="302.87" y="640.21" width="1.7" height="21.29"/><ellipse cx="303.72" cy="660.65" rx="1.45" ry="1.15"/><rect x="307.69" y="682.42" width="1.7" height="11.00"/><ellipse cx="308.54" cy="692.57" rx="1.45" ry="1.15"/><rect x="312.51" y="695.80" width="1.7" height="2.15"/><ellipse cx="313.36" cy="697.10" rx="1.45" ry="1.15"/><rect x="317.33" y="708.15" width="1.7" height="2.15"/><ellipse cx="318.18" cy="709.45" rx="1.45" ry="1.15"/><rect x="322.15" y="700.74" width="1.7" height="4.00"/><ellipse cx="323.00" cy="703.89" rx="1.45" ry="1.15"/><rect x="326.96" y="697.45" width="1.7" height="5.24"/><ellipse cx="327.81" cy="701.83" rx="1.45" ry="1.15"/><rect x="331.78" y="703.21" width="1.7" height="4.62"/><ellipse cx="332.63" cy="706.98" rx="1.45" ry="1.15"/><rect x="336.60" y="710.83" width="1.7" height="3.59"/><ellipse cx="337.45" cy="713.57" rx="1.45" ry="1.15"/><rect x="341.42" y="715.15" width="1.7" height="2.97"/><ellipse cx="342.27" cy="717.27" rx="1.45" ry="1.15"/><rect x="346.24" y="719.41" width="1.7" height="1.80"/><ellipse cx="347.09" cy="720.36" rx="1.45" ry="1.15"/><rect x="351.05" y="717.01" width="1.7" height="2.15"/><ellipse cx="351.90" cy="718.30" rx="1.45" ry="1.15"/><rect x="355.87" y="720.44" width="1.7" height="1.80"/><ellipse cx="356.72" cy="721.39" rx="1.45" ry="1.15"/><rect x="360.69" y="720.44" width="1.7" height="1.80"/><ellipse cx="361.54" cy="721.39" rx="1.45" ry="1.15"/></g>
<rect x="207.30" y="582.00" width="163.10" height="148.60" fill="none" stroke="#000" stroke-width="1.5"/>
<g fill="#8e8e8e" stroke="#a9a9a9" stroke-width="0.5"><rect x="43.87" y="868.34" width="4.46" height="9.26"/><rect x="48.72" y="875.13" width="4.46" height="2.47"/><rect x="53.57" y="875.54" width="4.46" height="2.06"/><rect x="58.43" y="876.57" width="4.46" height="1.03"/><rect x="63.28" y="872.45" width="4.46" height="5.15"/><rect x="68.13" y="850.83" width="4.46" height="26.77"/><rect x="72.99" y="838.48" width="4.46" height="39.12"/><rect x="77.84" y="860.10" width="4.46" height="17.50"/><rect x="82.69" y="871.42" width="4.46" height="6.18"/><rect x="87.54" y="876.57" width="4.46" height="1.03"/><rect x="92.40" y="877.19" width="4.46" height="0.41"/><rect x="140.93" y="876.78" width="4.46" height="0.82"/><rect x="160.34" y="877.19" width="4.46" height="0.41"/><rect x="174.90" y="872.45" width="4.46" height="5.15"/><rect x="179.75" y="876.98" width="4.46" height="0.62"/></g>
<g fill="#111"><rect x="45.25" y="861.33" width="1.7" height="7.50"/><ellipse cx="46.10" cy="867.99" rx="1.45" ry="1.15"/><rect x="50.10" y="873.07" width="1.7" height="2.56"/><ellipse cx="50.95" cy="874.78" rx="1.45" ry="1.15"/><rect x="54.96" y="874.24" width="1.7" height="1.80"/><ellipse cx="55.81" cy="875.19" rx="1.45" ry="1.15"/><rect x="59.81" y="875.27" width="1.7" height="1.80"/><ellipse cx="60.66" cy="876.22" rx="1.45" ry="1.15"/><rect x="64.66" y="871.15" width="1.7" height="1.80"/><ellipse cx="65.51" cy="872.10" rx="1.45" ry="1.15"/><rect x="69.52" y="846.92" width="1.7" height="4.41"/><ellipse cx="70.37" cy="850.48" rx="1.45" ry="1.15"/><rect x="74.37" y="835.39" width="1.7" height="3.59"/><ellipse cx="75.22" cy="838.13" rx="1.45" ry="1.15"/><rect x="79.22" y="859.07" width="1.7" height="1.53"/><ellipse cx="80.07" cy="859.75" rx="1.45" ry="1.15"/><rect x="84.07" y="870.12" width="1.7" height="1.80"/><ellipse cx="84.92" cy="871.07" rx="1.45" ry="1.15"/><rect x="88.93" y="875.27" width="1.7" height="1.80"/><ellipse cx="89.78" cy="876.22" rx="1.45" ry="1.15"/><rect x="93.78" y="875.89" width="1.7" height="1.80"/><ellipse cx="94.63" cy="876.84" rx="1.45" ry="1.15"/><circle cx="99.48" cy="877.30" r="1"/><circle cx="104.34" cy="877.30" r="1"/><circle cx="109.19" cy="877.30" r="1"/><circle cx="114.04" cy="877.30" r="1"/><circle cx="118.90" cy="877.30" r="1"/><circle cx="123.75" cy="877.30" r="1"/><circle cx="128.60" cy="877.30" r="1"/><circle cx="133.45" cy="877.30" r="1"/><circle cx="138.31" cy="877.30" r="1"/><rect x="142.31" y="875.48" width="1.7" height="1.80"/><ellipse cx="143.16" cy="876.43" rx="1.45" ry="1.15"/><circle cx="148.01" cy="877.30" r="1"/><circle cx="152.87" cy="877.30" r="1"/><circle cx="157.72" cy="877.30" r="1"/><rect x="161.72" y="875.89" width="1.7" height="1.80"/><ellipse cx="162.57" cy="876.84" rx="1.45" ry="1.15"/><circle cx="167.42" cy="877.30" r="1"/><circle cx="172.28" cy="877.30" r="1"/><rect x="176.28" y="871.15" width="1.7" height="1.80"/><ellipse cx="177.13" cy="872.10" rx="1.45" ry="1.15"/><rect x="181.13" y="875.68" width="1.7" height="1.80"/><ellipse cx="181.98" cy="876.63" rx="1.45" ry="1.15"/><circle cx="186.84" cy="877.30" r="1"/><circle cx="191.69" cy="877.30" r="1"/></g>
<rect x="36.30" y="738.40" width="165.30" height="145.80" fill="none" stroke="#000" stroke-width="1.5"/>
<g fill="#cf272d" stroke="#e8555a" stroke-width="0.5"><rect x="213.68" y="867.88" width="4.43" height="11.32"/><rect x="218.50" y="871.38" width="4.43" height="7.82"/><rect x="223.32" y="871.99" width="4.43" height="7.21"/><rect x="228.14" y="874.05" width="4.43" height="5.15"/><rect x="232.96" y="875.08" width="4.43" height="4.12"/><rect x="237.77" y="874.05" width="4.43" height="5.15"/><rect x="242.59" y="874.05" width="4.43" height="5.15"/><rect x="247.41" y="873.02" width="4.43" height="6.18"/><rect x="252.23" y="874.05" width="4.43" height="5.15"/><rect x="257.05" y="874.67" width="4.43" height="4.53"/><rect x="261.86" y="873.02" width="4.43" height="6.18"/><rect x="266.68" y="869.94" width="4.43" height="9.26"/><rect x="271.50" y="872.61" width="4.43" height="6.59"/><rect x="276.32" y="870.96" width="4.43" height="8.24"/><rect x="281.14" y="848.32" width="4.43" height="30.88"/><rect x="285.95" y="805.49" width="4.43" height="73.71"/><rect x="290.77" y="836.99" width="4.43" height="42.21"/><rect x="295.59" y="808.17" width="4.43" height="71.03"/><rect x="300.41" y="753.61" width="4.43" height="125.59"/><rect x="305.23" y="778.73" width="4.43" height="100.47"/><rect x="310.04" y="840.08" width="4.43" height="39.12"/><rect x="314.86" y="870.55" width="4.43" height="8.65"/><rect x="319.68" y="870.96" width="4.43" height="8.24"/><rect x="324.50" y="870.96" width="4.43" height="8.24"/><rect x="329.32" y="869.94" width="4.43" height="9.26"/><rect x="334.13" y="871.38" width="4.43" height="7.82"/><rect x="338.95" y="875.08" width="4.43" height="4.12"/><rect x="343.77" y="876.73" width="4.43" height="2.47"/><rect x="348.59" y="877.14" width="4.43" height="2.06"/><rect x="353.41" y="877.55" width="4.43" height="1.65"/><rect x="363.04" y="877.96" width="4.43" height="1.24"/></g>
<g fill="#111"><rect x="215.05" y="863.76" width="1.7" height="4.62"/><ellipse cx="215.90" cy="867.53" rx="1.45" ry="1.15"/><rect x="219.87" y="868.91" width="1.7" height="2.97"/><ellipse cx="220.72" cy="871.03" rx="1.45" ry="1.15"/><rect x="224.69" y="870.35" width="1.7" height="2.15"/><ellipse cx="225.54" cy="871.64" rx="1.45" ry="1.15"/><rect x="229.50" y="872.75" width="1.7" height="1.80"/><ellipse cx="230.35" cy="873.70" rx="1.45" ry="1.15"/><rect x="234.32" y="873.78" width="1.7" height="1.80"/><ellipse cx="235.17" cy="874.73" rx="1.45" ry="1.15"/><rect x="239.14" y="872.75" width="1.7" height="1.80"/><ellipse cx="239.99" cy="873.70" rx="1.45" ry="1.15"/><rect x="243.96" y="872.75" width="1.7" height="1.80"/><ellipse cx="244.81" cy="873.70" rx="1.45" ry="1.15"/><rect x="248.78" y="871.72" width="1.7" height="1.80"/><ellipse cx="249.63" cy="872.67" rx="1.45" ry="1.15"/><rect x="253.59" y="872.75" width="1.7" height="1.80"/><ellipse cx="254.44" cy="873.70" rx="1.45" ry="1.15"/><rect x="258.41" y="873.37" width="1.7" height="1.80"/><ellipse cx="259.26" cy="874.32" rx="1.45" ry="1.15"/><rect x="263.23" y="871.72" width="1.7" height="1.80"/><ellipse cx="264.08" cy="872.67" rx="1.45" ry="1.15"/><rect x="268.05" y="867.88" width="1.7" height="2.56"/><ellipse cx="268.90" cy="869.59" rx="1.45" ry="1.15"/><rect x="272.87" y="871.31" width="1.7" height="1.80"/><ellipse cx="273.72" cy="872.26" rx="1.45" ry="1.15"/><rect x="277.68" y="868.49" width="1.7" height="2.97"/><ellipse cx="278.53" cy="870.61" rx="1.45" ry="1.15"/><rect x="282.50" y="843.58" width="1.7" height="5.24"/><ellipse cx="283.35" cy="847.97" rx="1.45" ry="1.15"/><rect x="287.32" y="790.67" width="1.7" height="15.32"/><ellipse cx="288.17" cy="805.14" rx="1.45" ry="1.15"/><rect x="292.14" y="829.79" width="1.7" height="7.71"/><ellipse cx="292.99" cy="836.64" rx="1.45" ry="1.15"/><rect x="296.96" y="801.37" width="1.7" height="7.29"/><ellipse cx="297.81" cy="807.82" rx="1.45" ry="1.15"/><rect x="301.77" y="746.81" width="1.7" height="7.29"/><ellipse cx="302.62" cy="753.26" rx="1.45" ry="1.15"/><rect x="306.59" y="768.43" width="1.7" height="10.79"/><ellipse cx="307.44" cy="778.38" rx="1.45" ry="1.15"/><rect x="311.41" y="832.88" width="1.7" height="7.71"/><ellipse cx="312.26" cy="839.73" rx="1.45" ry="1.15"/><rect x="316.23" y="869.25" width="1.7" height="1.80"/><ellipse cx="317.08" cy="870.20" rx="1.45" ry="1.15"/><rect x="321.05" y="869.66" width="1.7" height="1.80"/><ellipse cx="321.90" cy="870.61" rx="1.45" ry="1.15"/><rect x="325.86" y="867.88" width="1.7" height="3.59"/><ellipse cx="326.71" cy="870.61" rx="1.45" ry="1.15"/><rect x="330.68" y="867.26" width="1.7" height="3.18"/><ellipse cx="331.53" cy="869.59" rx="1.45" ry="1.15"/><rect x="335.50" y="868.49" width="1.7" height="3.38"/><ellipse cx="336.35" cy="871.03" rx="1.45" ry="1.15"/><rect x="340.32" y="873.78" width="1.7" height="1.80"/><ellipse cx="341.17" cy="874.73" rx="1.45" ry="1.15"/><rect x="345.14" y="875.43" width="1.7" height="1.80"/><ellipse cx="345.99" cy="876.38" rx="1.45" ry="1.15"/><rect x="349.95" y="875.84" width="1.7" height="1.80"/><ellipse cx="350.80" cy="876.79" rx="1.45" ry="1.15"/><rect x="354.77" y="876.25" width="1.7" height="1.80"/><ellipse cx="355.62" cy="877.20" rx="1.45" ry="1.15"/><circle cx="360.44" cy="878.90" r="1"/><rect x="364.41" y="876.66" width="1.7" height="1.80"/><ellipse cx="365.26" cy="877.61" rx="1.45" ry="1.15"/></g>
<rect x="205.90" y="738.40" width="164.80" height="145.80" fill="none" stroke="#000" stroke-width="1.5"/>
<line x1="370.50" y1="608.40" x2="374.50" y2="608.40" stroke="#000" stroke-width="2"/>
<text x="378.50" y="610.90" font-size="23.4">2 x 10</text>
<text x="434.70" y="602.10" font-size="23">3</text>
<line x1="370.50" y1="636.50" x2="374.50" y2="636.50" stroke="#000" stroke-width="2"/>
<text x="375.30" y="640.90" font-size="23.4">1.5 x 10</text>
<text x="447.10" y="628.50" font-size="23">3</text>
<line x1="370.50" y1="666.10" x2="374.50" y2="666.10" stroke="#000" stroke-width="2"/>
<text x="376.70" y="670.20" font-size="23.4">1 x 10</text>
<text x="434.70" y="660.00" font-size="23">3</text>
<line x1="370.50" y1="695.10" x2="374.50" y2="695.10" stroke="#000" stroke-width="2"/>
<text x="378.70" y="701.00" font-size="23.4">5 x 10</text>
<text x="436.10" y="692.20" font-size="23">2</text>
<line x1="370.50" y1="723.70" x2="374.50" y2="723.70" stroke="#000" stroke-width="2"/>
<text x="379.10" y="728.80" font-size="23.4">0</text>
<line x1="370.50" y1="752.50" x2="374.50" y2="752.50" stroke="#000" stroke-width="2"/>
<text x="375.30" y="758.80" font-size="23.4">1.5 x 10</text>
<text x="445.70" y="750.00" font-size="23">3</text>
<line x1="370.50" y1="792.80" x2="374.50" y2="792.80" stroke="#000" stroke-width="2"/>
<text x="376.30" y="797.60" font-size="23.4">1 x 10</text>
<text x="432.50" y="788.90" font-size="23">3</text>
<line x1="370.50" y1="835.00" x2="374.50" y2="835.00" stroke="#000" stroke-width="2"/>
<text x="378.50" y="840.10" font-size="23.4">5 x 10</text>
<text x="433.90" y="832.10" font-size="23">2</text>
<line x1="370.50" y1="877.00" x2="374.50" y2="877.00" stroke="#000" stroke-width="2"/>
<text x="378.70" y="881.10" font-size="23.4">0</text>
<text x="71.70" y="906.20" font-size="24" text-anchor="middle">20</text>
<text x="121.00" y="906.20" font-size="24" text-anchor="middle">30</text>
<text x="170.00" y="906.20" font-size="24" text-anchor="middle">40</text>
<text x="241.60" y="906.20" font-size="24" text-anchor="middle">20</text>
<text x="290.90" y="906.20" font-size="24" text-anchor="middle">30</text>
<text x="339.60" y="906.20" font-size="24" text-anchor="middle">40</text>
<line x1="70.40" y1="884.20" x2="70.40" y2="887.60" stroke="#000" stroke-width="1.6"/>
<line x1="119.00" y1="884.20" x2="119.00" y2="887.60" stroke="#000" stroke-width="1.6"/>
<line x1="167.50" y1="884.20" x2="167.50" y2="887.60" stroke="#000" stroke-width="1.6"/>
<line x1="240.00" y1="884.20" x2="240.00" y2="887.60" stroke="#000" stroke-width="1.6"/>
<line x1="288.20" y1="884.20" x2="288.20" y2="887.60" stroke="#000" stroke-width="1.6"/>
<line x1="336.40" y1="884.20" x2="336.40" y2="887.60" stroke="#000" stroke-width="1.6"/>
<text x="227.30" y="930.50" font-size="24" text-anchor="middle">Length of nucleotides</text>
<g fill="#8e8e8e" stroke="#a9a9a9" stroke-width="0.5"><rect x="502.79" y="721.75" width="4.42" height="1.65"/><rect x="507.59" y="722.58" width="4.42" height="0.82"/><rect x="512.40" y="721.75" width="4.42" height="1.65"/><rect x="517.20" y="720.52" width="4.42" height="2.88"/><rect x="522.01" y="704.87" width="4.42" height="18.53"/><rect x="526.81" y="659.57" width="4.42" height="63.83"/><rect x="531.61" y="697.66" width="4.42" height="25.74"/><rect x="536.42" y="714.75" width="4.42" height="8.65"/><rect x="541.22" y="721.34" width="4.42" height="2.06"/><rect x="546.03" y="722.58" width="4.42" height="0.82"/></g>
<g fill="#111"><rect x="504.15" y="720.45" width="1.7" height="1.80"/><ellipse cx="505.00" cy="721.40" rx="1.45" ry="1.15"/><rect x="508.95" y="721.28" width="1.7" height="1.80"/><ellipse cx="509.80" cy="722.23" rx="1.45" ry="1.15"/><rect x="513.76" y="720.45" width="1.7" height="1.80"/><ellipse cx="514.61" cy="721.40" rx="1.45" ry="1.15"/><rect x="518.56" y="719.22" width="1.7" height="1.80"/><ellipse cx="519.41" cy="720.17" rx="1.45" ry="1.15"/><rect x="523.37" y="701.58" width="1.7" height="3.79"/><ellipse cx="524.22" cy="704.52" rx="1.45" ry="1.15"/><rect x="528.17" y="650.52" width="1.7" height="9.56"/><ellipse cx="529.02" cy="659.22" rx="1.45" ry="1.15"/><rect x="532.97" y="694.58" width="1.7" height="3.59"/><ellipse cx="533.82" cy="697.31" rx="1.45" ry="1.15"/><rect x="537.78" y="713.52" width="1.7" height="1.74"/><ellipse cx="538.63" cy="714.40" rx="1.45" ry="1.15"/><rect x="542.58" y="720.04" width="1.7" height="1.80"/><ellipse cx="543.43" cy="720.99" rx="1.45" ry="1.15"/><rect x="547.39" y="721.28" width="1.7" height="1.80"/><ellipse cx="548.24" cy="722.23" rx="1.45" ry="1.15"/><circle cx="553.04" cy="723.10" r="1"/><circle cx="557.84" cy="723.10" r="1"/><circle cx="562.65" cy="723.10" r="1"/><circle cx="567.45" cy="723.10" r="1"/><circle cx="572.26" cy="723.10" r="1"/><circle cx="577.06" cy="723.10" r="1"/><circle cx="581.86" cy="723.10" r="1"/><circle cx="586.67" cy="723.10" r="1"/><circle cx="591.47" cy="723.10" r="1"/><circle cx="596.28" cy="723.10" r="1"/><circle cx="601.08" cy="723.10" r="1"/><circle cx="605.88" cy="723.10" r="1"/><circle cx="610.69" cy="723.10" r="1"/><circle cx="615.49" cy="723.10" r="1"/><circle cx="620.30" cy="723.10" r="1"/><circle cx="625.10" cy="723.10" r="1"/><circle cx="629.90" cy="723.10" r="1"/><circle cx="634.71" cy="723.10" r="1"/><circle cx="639.51" cy="723.10" r="1"/><circle cx="644.32" cy="723.10" r="1"/><circle cx="649.12" cy="723.10" r="1"/></g>
<rect x="490.30" y="582.00" width="163.50" height="148.60" fill="none" stroke="#000" stroke-width="1.5"/>
<g fill="#cf272d" stroke="#e8555a" stroke-width="0.5"><rect x="669.10" y="675.42" width="4.39" height="48.38"/><rect x="673.88" y="685.71" width="4.39" height="38.09"/><rect x="678.66" y="703.83" width="4.39" height="19.97"/><rect x="683.43" y="704.86" width="4.39" height="18.94"/><rect x="688.21" y="709.39" width="4.39" height="14.41"/><rect x="692.99" y="710.42" width="4.39" height="13.38"/><rect x="697.76" y="709.80" width="4.39" height="14.00"/><rect x="702.54" y="711.03" width="4.39" height="12.77"/><rect x="707.32" y="715.56" width="4.39" height="8.24"/><rect x="712.10" y="715.98" width="4.39" height="7.82"/><rect x="716.87" y="710.42" width="4.39" height="13.38"/><rect x="721.65" y="702.18" width="4.39" height="21.62"/><rect x="726.43" y="694.98" width="4.39" height="28.82"/><rect x="731.20" y="701.15" width="4.39" height="22.65"/><rect x="735.98" y="699.09" width="4.39" height="24.71"/><rect x="740.76" y="643.92" width="4.39" height="79.88"/><rect x="745.53" y="630.53" width="4.39" height="93.27"/><rect x="750.31" y="613.03" width="4.39" height="110.77"/><rect x="755.09" y="588.33" width="4.39" height="135.47"/><rect x="759.87" y="678.50" width="4.39" height="45.30"/><rect x="764.64" y="674.39" width="4.39" height="49.41"/><rect x="769.42" y="676.45" width="4.39" height="47.35"/><rect x="774.20" y="685.71" width="4.39" height="38.09"/><rect x="778.97" y="684.68" width="4.39" height="39.12"/><rect x="783.75" y="684.06" width="4.39" height="39.74"/><rect x="788.53" y="686.33" width="4.39" height="37.47"/><rect x="793.30" y="700.74" width="4.39" height="23.06"/><rect x="798.08" y="711.86" width="4.39" height="11.94"/><rect x="802.86" y="715.15" width="4.39" height="8.65"/><rect x="807.64" y="717.21" width="4.39" height="6.59"/><rect x="812.41" y="717.62" width="4.39" height="6.18"/><rect x="817.19" y="714.54" width="4.39" height="9.26"/></g>
<rect x="779.00" y="681.80" width="3.10" height="42.60" fill="#fff"/>
<rect x="745.00" y="642.80" width="1.80" height="81.60" fill="#fff"/>
<g fill="#111"><rect x="670.45" y="671.09" width="1.7" height="4.82"/><ellipse cx="671.30" cy="675.07" rx="1.45" ry="1.15"/><rect x="675.23" y="682.00" width="1.7" height="4.21"/><ellipse cx="676.08" cy="685.36" rx="1.45" ry="1.15"/><rect x="680.00" y="701.98" width="1.7" height="2.35"/><ellipse cx="680.85" cy="703.48" rx="1.45" ry="1.15"/><rect x="684.78" y="703.56" width="1.7" height="1.80"/><ellipse cx="685.63" cy="704.51" rx="1.45" ry="1.15"/><rect x="689.56" y="708.09" width="1.7" height="1.80"/><ellipse cx="690.41" cy="709.04" rx="1.45" ry="1.15"/><rect x="694.33" y="709.12" width="1.7" height="1.80"/><ellipse cx="695.18" cy="710.07" rx="1.45" ry="1.15"/><rect x="699.11" y="708.50" width="1.7" height="1.80"/><ellipse cx="699.96" cy="709.45" rx="1.45" ry="1.15"/><rect x="703.89" y="710.21" width="1.7" height="1.32"/><ellipse cx="704.74" cy="710.68" rx="1.45" ry="1.15"/><rect x="708.67" y="714.26" width="1.7" height="1.80"/><ellipse cx="709.52" cy="715.21" rx="1.45" ry="1.15"/><rect x="713.44" y="714.68" width="1.7" height="1.80"/><ellipse cx="714.29" cy="715.63" rx="1.45" ry="1.15"/><rect x="718.22" y="709.39" width="1.7" height="1.53"/><ellipse cx="719.07" cy="710.07" rx="1.45" ry="1.15"/><rect x="723.00" y="700.12" width="1.7" height="2.56"/><ellipse cx="723.85" cy="701.83" rx="1.45" ry="1.15"/><rect x="727.77" y="690.65" width="1.7" height="4.82"/><ellipse cx="728.62" cy="694.63" rx="1.45" ry="1.15"/><rect x="732.55" y="699.51" width="1.7" height="2.15"/><ellipse cx="733.40" cy="700.80" rx="1.45" ry="1.15"/><rect x="737.33" y="696.42" width="1.7" height="3.18"/><ellipse cx="738.18" cy="698.74" rx="1.45" ry="1.15"/><rect x="742.10" y="642.62" width="1.7" height="1.80"/><ellipse cx="742.95" cy="643.57" rx="1.45" ry="1.15"/><rect x="746.88" y="629.23" width="1.7" height="1.80"/><ellipse cx="747.73" cy="630.18" rx="1.45" ry="1.15"/><rect x="751.66" y="606.86" width="1.7" height="6.68"/><ellipse cx="752.51" cy="612.68" rx="1.45" ry="1.15"/><rect x="756.44" y="587.03" width="1.7" height="1.80"/><ellipse cx="757.29" cy="587.98" rx="1.45" ry="1.15"/><rect x="761.21" y="676.86" width="1.7" height="2.15"/><ellipse cx="762.06" cy="678.15" rx="1.45" ry="1.15"/><rect x="765.99" y="673.09" width="1.7" height="1.80"/><ellipse cx="766.84" cy="674.04" rx="1.45" ry="1.15"/><rect x="770.77" y="673.15" width="1.7" height="3.79"/><ellipse cx="771.62" cy="676.10" rx="1.45" ry="1.15"/><rect x="775.54" y="684.41" width="1.7" height="1.80"/><ellipse cx="776.39" cy="685.36" rx="1.45" ry="1.15"/><rect x="780.32" y="683.38" width="1.7" height="1.80"/><ellipse cx="781.17" cy="684.33" rx="1.45" ry="1.15"/><rect x="785.10" y="678.50" width="1.7" height="6.06"/><ellipse cx="785.95" cy="683.71" rx="1.45" ry="1.15"/><rect x="789.87" y="680.15" width="1.7" height="6.68"/><ellipse cx="790.72" cy="685.98" rx="1.45" ry="1.15"/><rect x="794.65" y="697.03" width="1.7" height="4.21"/><ellipse cx="795.50" cy="700.39" rx="1.45" ry="1.15"/><rect x="799.43" y="710.56" width="1.7" height="1.80"/><ellipse cx="800.28" cy="711.51" rx="1.45" ry="1.15"/><rect x="804.21" y="713.51" width="1.7" height="2.15"/><ellipse cx="805.06" cy="714.80" rx="1.45" ry="1.15"/><rect x="808.98" y="715.91" width="1.7" height="1.80"/><ellipse cx="809.83" cy="716.86" rx="1.45" ry="1.15"/><rect x="813.76" y="716.32" width="1.7" height="1.80"/><ellipse cx="814.61" cy="717.27" rx="1.45" ry="1.15"/><rect x="818.54" y="712.27" width="1.7" height="2.76"/><ellipse cx="819.39" cy="714.19" rx="1.45" ry="1.15"/></g>
<rect x="661.30" y="582.00" width="160.70" height="148.60" fill="none" stroke="#000" stroke-width="1.5"/>
<g fill="#8e8e8e" stroke="#a9a9a9" stroke-width="0.5"><rect x="497.69" y="875.33" width="4.62" height="2.47"/><rect x="502.71" y="877.18" width="4.62" height="0.62"/><rect x="507.73" y="877.18" width="4.62" height="0.62"/><rect x="512.75" y="876.77" width="4.62" height="1.03"/><rect x="517.77" y="874.09" width="4.62" height="3.71"/><rect x="522.79" y="869.98" width="4.62" height="7.82"/><rect x="527.81" y="860.30" width="4.62" height="17.50"/><rect x="532.83" y="867.92" width="4.62" height="9.88"/><rect x="537.85" y="875.33" width="4.62" height="2.47"/><rect x="542.87" y="877.18" width="4.62" height="0.62"/></g>
<g fill="#111"><rect x="499.15" y="874.03" width="1.7" height="1.80"/><ellipse cx="500.00" cy="874.98" rx="1.45" ry="1.15"/><rect x="504.17" y="875.88" width="1.7" height="1.80"/><ellipse cx="505.02" cy="876.83" rx="1.45" ry="1.15"/><rect x="509.19" y="875.88" width="1.7" height="1.80"/><ellipse cx="510.04" cy="876.83" rx="1.45" ry="1.15"/><rect x="514.21" y="875.47" width="1.7" height="1.80"/><ellipse cx="515.06" cy="876.42" rx="1.45" ry="1.15"/><rect x="519.23" y="872.79" width="1.7" height="1.80"/><ellipse cx="520.08" cy="873.74" rx="1.45" ry="1.15"/><rect x="524.25" y="868.95" width="1.7" height="1.53"/><ellipse cx="525.10" cy="869.63" rx="1.45" ry="1.15"/><rect x="529.27" y="856.59" width="1.7" height="4.21"/><ellipse cx="530.12" cy="859.95" rx="1.45" ry="1.15"/><rect x="534.29" y="866.48" width="1.7" height="1.94"/><ellipse cx="535.14" cy="867.57" rx="1.45" ry="1.15"/><rect x="539.31" y="874.03" width="1.7" height="1.80"/><ellipse cx="540.16" cy="874.98" rx="1.45" ry="1.15"/><rect x="544.33" y="875.88" width="1.7" height="1.80"/><ellipse cx="545.18" cy="876.83" rx="1.45" ry="1.15"/><circle cx="550.20" cy="877.50" r="1"/><circle cx="555.22" cy="877.50" r="1"/><circle cx="560.24" cy="877.50" r="1"/><circle cx="565.26" cy="877.50" r="1"/><circle cx="570.28" cy="877.50" r="1"/><circle cx="575.30" cy="877.50" r="1"/><circle cx="580.32" cy="877.50" r="1"/><circle cx="585.34" cy="877.50" r="1"/><circle cx="590.36" cy="877.50" r="1"/><circle cx="595.38" cy="877.50" r="1"/><circle cx="600.40" cy="877.50" r="1"/><circle cx="605.42" cy="877.50" r="1"/><circle cx="610.44" cy="877.50" r="1"/><circle cx="615.46" cy="877.50" r="1"/><circle cx="620.48" cy="877.50" r="1"/><circle cx="625.50" cy="877.50" r="1"/><circle cx="630.52" cy="877.50" r="1"/><circle cx="635.54" cy="877.50" r="1"/><circle cx="640.56" cy="877.50" r="1"/><circle cx="645.58" cy="877.50" r="1"/><circle cx="650.60" cy="877.50" r="1"/></g>
<rect x="490.30" y="738.40" width="164.30" height="145.80" fill="none" stroke="#000" stroke-width="1.5"/>
<g fill="#cf272d" stroke="#e8555a" stroke-width="0.5"><rect x="668.72" y="866.26" width="4.37" height="11.94"/><rect x="673.47" y="870.99" width="4.37" height="7.21"/><rect x="678.22" y="872.02" width="4.37" height="6.18"/><rect x="682.97" y="869.55" width="4.37" height="8.65"/><rect x="687.72" y="872.02" width="4.37" height="6.18"/><rect x="692.47" y="872.02" width="4.37" height="6.18"/><rect x="697.22" y="872.44" width="4.37" height="5.76"/><rect x="701.97" y="870.99" width="4.37" height="7.21"/><rect x="706.72" y="872.44" width="4.37" height="5.76"/><rect x="711.47" y="875.11" width="4.37" height="3.09"/><rect x="716.22" y="872.44" width="4.37" height="5.76"/><rect x="720.97" y="867.91" width="4.37" height="10.29"/><rect x="725.72" y="866.88" width="4.37" height="11.32"/><rect x="730.47" y="866.88" width="4.37" height="11.32"/><rect x="735.22" y="859.67" width="4.37" height="18.53"/><rect x="739.97" y="849.79" width="4.37" height="28.41"/><rect x="744.72" y="814.79" width="4.37" height="63.41"/><rect x="749.47" y="818.49" width="4.37" height="59.71"/><rect x="754.22" y="763.93" width="4.37" height="114.27"/><rect x="758.97" y="849.79" width="4.37" height="28.41"/><rect x="763.72" y="840.11" width="4.37" height="38.09"/><rect x="768.47" y="853.49" width="4.37" height="24.71"/><rect x="773.22" y="839.49" width="4.37" height="38.71"/><rect x="777.97" y="856.58" width="4.37" height="21.62"/><rect x="782.72" y="851.85" width="4.37" height="26.35"/><rect x="787.47" y="858.64" width="4.37" height="19.56"/><rect x="792.22" y="863.79" width="4.37" height="14.41"/><rect x="796.97" y="867.49" width="4.37" height="10.71"/><rect x="801.72" y="871.61" width="4.37" height="6.59"/><rect x="806.47" y="871.61" width="4.37" height="6.59"/><rect x="811.22" y="869.96" width="4.37" height="8.24"/></g>
<g fill="#111"><rect x="670.05" y="864.82" width="1.7" height="1.94"/><ellipse cx="670.90" cy="865.91" rx="1.45" ry="1.15"/><rect x="674.80" y="869.55" width="1.7" height="1.94"/><ellipse cx="675.65" cy="870.64" rx="1.45" ry="1.15"/><rect x="679.55" y="870.72" width="1.7" height="1.80"/><ellipse cx="680.40" cy="871.67" rx="1.45" ry="1.15"/><rect x="684.30" y="868.32" width="1.7" height="1.74"/><ellipse cx="685.15" cy="869.20" rx="1.45" ry="1.15"/><rect x="689.05" y="870.72" width="1.7" height="1.80"/><ellipse cx="689.90" cy="871.67" rx="1.45" ry="1.15"/><rect x="693.80" y="870.72" width="1.7" height="1.80"/><ellipse cx="694.65" cy="871.67" rx="1.45" ry="1.15"/><rect x="698.55" y="871.14" width="1.7" height="1.80"/><ellipse cx="699.40" cy="872.09" rx="1.45" ry="1.15"/><rect x="703.30" y="869.69" width="1.7" height="1.80"/><ellipse cx="704.15" cy="870.64" rx="1.45" ry="1.15"/><rect x="708.05" y="871.14" width="1.7" height="1.80"/><ellipse cx="708.90" cy="872.09" rx="1.45" ry="1.15"/><rect x="712.80" y="873.81" width="1.7" height="1.80"/><ellipse cx="713.65" cy="874.76" rx="1.45" ry="1.15"/><rect x="717.55" y="871.14" width="1.7" height="1.80"/><ellipse cx="718.40" cy="872.09" rx="1.45" ry="1.15"/><rect x="722.30" y="866.88" width="1.7" height="1.53"/><ellipse cx="723.15" cy="867.56" rx="1.45" ry="1.15"/><rect x="727.05" y="865.23" width="1.7" height="2.15"/><ellipse cx="727.90" cy="866.53" rx="1.45" ry="1.15"/><rect x="731.80" y="865.23" width="1.7" height="2.15"/><ellipse cx="732.65" cy="866.53" rx="1.45" ry="1.15"/><rect x="736.55" y="858.64" width="1.7" height="1.53"/><ellipse cx="737.40" cy="859.32" rx="1.45" ry="1.15"/><rect x="741.30" y="844.23" width="1.7" height="6.06"/><ellipse cx="742.15" cy="849.44" rx="1.45" ry="1.15"/><rect x="746.05" y="803.05" width="1.7" height="12.24"/><ellipse cx="746.90" cy="814.44" rx="1.45" ry="1.15"/><rect x="750.80" y="808.20" width="1.7" height="10.79"/><ellipse cx="751.65" cy="818.14" rx="1.45" ry="1.15"/><rect x="755.55" y="744.78" width="1.7" height="19.65"/><ellipse cx="756.40" cy="763.58" rx="1.45" ry="1.15"/><rect x="760.30" y="845.88" width="1.7" height="4.41"/><ellipse cx="761.15" cy="849.44" rx="1.45" ry="1.15"/><rect x="765.05" y="837.02" width="1.7" height="3.59"/><ellipse cx="765.90" cy="839.76" rx="1.45" ry="1.15"/><rect x="769.80" y="849.38" width="1.7" height="4.62"/><ellipse cx="770.65" cy="853.14" rx="1.45" ry="1.15"/><rect x="774.55" y="838.46" width="1.7" height="1.53"/><ellipse cx="775.40" cy="839.14" rx="1.45" ry="1.15"/><rect x="779.30" y="854.11" width="1.7" height="2.97"/><ellipse cx="780.15" cy="856.23" rx="1.45" ry="1.15"/><rect x="784.05" y="849.99" width="1.7" height="2.35"/><ellipse cx="784.90" cy="851.50" rx="1.45" ry="1.15"/><rect x="788.80" y="857.61" width="1.7" height="1.53"/><ellipse cx="789.65" cy="858.29" rx="1.45" ry="1.15"/><rect x="793.55" y="861.11" width="1.7" height="3.18"/><ellipse cx="794.40" cy="863.44" rx="1.45" ry="1.15"/><rect x="798.30" y="865.02" width="1.7" height="2.97"/><ellipse cx="799.15" cy="867.14" rx="1.45" ry="1.15"/><rect x="803.05" y="870.31" width="1.7" height="1.80"/><ellipse cx="803.90" cy="871.26" rx="1.45" ry="1.15"/><rect x="807.80" y="870.31" width="1.7" height="1.80"/><ellipse cx="808.65" cy="871.26" rx="1.45" ry="1.15"/><rect x="812.55" y="867.91" width="1.7" height="2.56"/><ellipse cx="813.40" cy="869.61" rx="1.45" ry="1.15"/></g>
<rect x="661.30" y="738.40" width="160.70" height="145.80" fill="none" stroke="#000" stroke-width="1.5"/>
<line x1="821.80" y1="606.50" x2="825.80" y2="606.50" stroke="#000" stroke-width="2"/>
<text x="829.40" y="608.40" font-size="24">4 x 10</text>
<text x="888.20" y="591.80" font-size="21.6">3</text>
<line x1="821.80" y1="641.60" x2="825.80" y2="641.60" stroke="#000" stroke-width="2"/>
<text x="828.60" y="639.50" font-size="24">3 x 10</text>
<text x="889.60" y="621.90" font-size="21.6">3</text>
<line x1="821.80" y1="668.00" x2="825.80" y2="668.00" stroke="#000" stroke-width="2"/>
<text x="830.00" y="670.90" font-size="24">2 x 10</text>
<text x="889.60" y="654.80" font-size="21.6">3</text>
<line x1="821.80" y1="696.90" x2="825.80" y2="696.90" stroke="#000" stroke-width="2"/>
<text x="832.60" y="701.00" font-size="24">1 x 10</text>
<text x="891.10" y="685.60" font-size="21.6">3</text>
<line x1="821.80" y1="723.70" x2="825.80" y2="723.70" stroke="#000" stroke-width="2"/>
<text x="833.00" y="725.90" font-size="24">0</text>
<line x1="821.80" y1="745.60" x2="825.80" y2="745.60" stroke="#000" stroke-width="2"/>
<text x="827.10" y="754.90" font-size="24">2 x 10</text>
<text x="889.60" y="739.00" font-size="21.6">3</text>
<line x1="821.80" y1="781.50" x2="825.80" y2="781.50" stroke="#000" stroke-width="2"/>
<text x="826.20" y="786.70" font-size="24">1.5 x 10</text>
<text x="899.90" y="767.60" font-size="21.6">3</text>
<line x1="821.80" y1="813.50" x2="825.80" y2="813.50" stroke="#000" stroke-width="2"/>
<text x="827.20" y="817.40" font-size="24">1 x 10</text>
<text x="891.10" y="801.30" font-size="21.6">3</text>
<line x1="821.80" y1="840.10" x2="825.80" y2="840.10" stroke="#000" stroke-width="2"/>
<text x="830.00" y="846.00" font-size="24">5 x 10</text>
<text x="893.30" y="830.60" font-size="21.6">2</text>
<line x1="821.80" y1="878.90" x2="825.80" y2="878.90" stroke="#000" stroke-width="2"/>
<text x="830.20" y="882.60" font-size="24">0</text>
<text x="525.20" y="906.20" font-size="24" text-anchor="middle">20</text>
<text x="574.70" y="906.20" font-size="24" text-anchor="middle">30</text>
<text x="623.20" y="906.20" font-size="24" text-anchor="middle">40</text>
<text x="695.20" y="906.20" font-size="24" text-anchor="middle">20</text>
<text x="744.40" y="906.20" font-size="24" text-anchor="middle">30</text>
<text x="793.10" y="906.20" font-size="24" text-anchor="middle">40</text>
<line x1="525.10" y1="884.20" x2="525.10" y2="887.60" stroke="#000" stroke-width="1.6"/>
<line x1="575.30" y1="884.20" x2="575.30" y2="887.60" stroke="#000" stroke-width="1.6"/>
<line x1="625.50" y1="884.20" x2="625.50" y2="887.60" stroke="#000" stroke-width="1.6"/>
<line x1="694.60" y1="884.20" x2="694.60" y2="887.60" stroke="#000" stroke-width="1.6"/>
<line x1="742.10" y1="884.20" x2="742.10" y2="887.60" stroke="#000" stroke-width="1.6"/>
<line x1="789.60" y1="884.20" x2="789.60" y2="887.60" stroke="#000" stroke-width="1.6"/>
<text x="683.30" y="930.50" font-size="24" text-anchor="middle">Length of nucleotides</text>
<g fill="#8e8e8e" stroke="#a9a9a9" stroke-width="0.5"><rect x="923.69" y="716.13" width="4.82" height="0.67"/><rect x="928.93" y="715.91" width="4.82" height="0.89"/><rect x="934.17" y="715.91" width="4.82" height="0.89"/><rect x="939.40" y="716.13" width="4.82" height="0.67"/><rect x="944.64" y="713.67" width="4.82" height="3.13"/><rect x="949.88" y="710.09" width="4.82" height="6.71"/><rect x="955.12" y="678.35" width="4.82" height="38.45"/><rect x="960.36" y="697.80" width="4.82" height="19.00"/><rect x="965.59" y="707.86" width="4.82" height="8.94"/><rect x="970.83" y="714.12" width="4.82" height="2.68"/><rect x="976.07" y="716.13" width="4.82" height="0.67"/></g>
<g fill="#111"><rect x="925.25" y="714.83" width="1.7" height="1.80"/><ellipse cx="926.10" cy="715.78" rx="1.45" ry="1.15"/><rect x="930.49" y="714.61" width="1.7" height="1.80"/><ellipse cx="931.34" cy="715.56" rx="1.45" ry="1.15"/><rect x="935.73" y="714.61" width="1.7" height="1.80"/><ellipse cx="936.58" cy="715.56" rx="1.45" ry="1.15"/><rect x="940.96" y="714.83" width="1.7" height="1.80"/><ellipse cx="941.81" cy="715.78" rx="1.45" ry="1.15"/><rect x="946.20" y="712.37" width="1.7" height="1.80"/><ellipse cx="947.05" cy="713.32" rx="1.45" ry="1.15"/><rect x="951.44" y="707.86" width="1.7" height="2.74"/><ellipse cx="952.29" cy="709.74" rx="1.45" ry="1.15"/><rect x="956.68" y="667.18" width="1.7" height="11.68"/><ellipse cx="957.53" cy="678.00" rx="1.45" ry="1.15"/><rect x="961.92" y="691.76" width="1.7" height="6.54"/><ellipse cx="962.77" cy="697.45" rx="1.45" ry="1.15"/><rect x="967.15" y="704.51" width="1.7" height="3.85"/><ellipse cx="968.00" cy="707.51" rx="1.45" ry="1.15"/><rect x="972.39" y="712.82" width="1.7" height="1.80"/><ellipse cx="973.24" cy="713.77" rx="1.45" ry="1.15"/><rect x="977.63" y="714.83" width="1.7" height="1.80"/><ellipse cx="978.48" cy="715.78" rx="1.45" ry="1.15"/><circle cx="983.72" cy="716.50" r="1"/><circle cx="988.96" cy="716.50" r="1"/><circle cx="994.19" cy="716.50" r="1"/><circle cx="999.43" cy="716.50" r="1"/><circle cx="1004.67" cy="716.50" r="1"/><circle cx="1009.91" cy="716.50" r="1"/><circle cx="1015.15" cy="716.50" r="1"/><circle cx="1020.38" cy="716.50" r="1"/><circle cx="1025.62" cy="716.50" r="1"/><circle cx="1030.86" cy="716.50" r="1"/><circle cx="1036.10" cy="716.50" r="1"/><circle cx="1041.34" cy="716.50" r="1"/><circle cx="1046.57" cy="716.50" r="1"/><circle cx="1051.81" cy="716.50" r="1"/><circle cx="1057.05" cy="716.50" r="1"/><circle cx="1062.29" cy="716.50" r="1"/><circle cx="1067.53" cy="716.50" r="1"/><circle cx="1072.76" cy="716.50" r="1"/><circle cx="1078.00" cy="716.50" r="1"/><circle cx="1083.24" cy="716.50" r="1"/></g>
<rect x="916.10" y="581.50" width="177.10" height="141.70" fill="none" stroke="#333" stroke-width="1.3"/>
<g fill="#cf272d" stroke="#e8555a" stroke-width="0.5"><rect x="1108.78" y="708.31" width="4.83" height="8.49"/><rect x="1114.04" y="713.45" width="4.83" height="3.35"/><rect x="1119.29" y="705.62" width="4.83" height="11.18"/><rect x="1124.54" y="697.13" width="4.83" height="19.67"/><rect x="1129.80" y="705.62" width="4.83" height="11.18"/><rect x="1135.05" y="709.65" width="4.83" height="7.15"/><rect x="1140.30" y="711.21" width="4.83" height="5.59"/><rect x="1145.55" y="696.24" width="4.83" height="20.56"/><rect x="1150.81" y="711.88" width="4.83" height="4.92"/><rect x="1156.06" y="714.56" width="4.83" height="2.24"/><rect x="1161.31" y="706.07" width="4.83" height="10.73"/><rect x="1166.57" y="710.54" width="4.83" height="6.26"/><rect x="1171.82" y="708.31" width="4.83" height="8.49"/><rect x="1177.07" y="709.65" width="4.83" height="7.15"/><rect x="1182.33" y="708.31" width="4.83" height="8.49"/><rect x="1187.58" y="703.84" width="4.83" height="12.96"/><rect x="1192.83" y="701.60" width="4.83" height="15.20"/><rect x="1198.08" y="681.48" width="4.83" height="35.32"/><rect x="1203.34" y="659.80" width="4.83" height="57.00"/><rect x="1208.59" y="666.51" width="4.83" height="50.29"/><rect x="1213.84" y="618.45" width="4.83" height="98.35"/><rect x="1219.10" y="698.47" width="4.83" height="18.33"/><rect x="1224.35" y="695.56" width="4.83" height="21.24"/><rect x="1229.60" y="701.60" width="4.83" height="15.20"/><rect x="1234.86" y="706.74" width="4.83" height="10.06"/><rect x="1240.11" y="710.09" width="4.83" height="6.71"/><rect x="1245.36" y="710.54" width="4.83" height="6.26"/><rect x="1250.61" y="714.12" width="4.83" height="2.68"/><rect x="1255.87" y="713.45" width="4.83" height="3.35"/><rect x="1261.12" y="713.45" width="4.83" height="3.35"/><rect x="1266.37" y="713.67" width="4.83" height="3.13"/></g>
<g fill="#111"><rect x="1110.35" y="705.62" width="1.7" height="3.18"/><ellipse cx="1111.20" cy="707.96" rx="1.45" ry="1.15"/><rect x="1115.60" y="712.15" width="1.7" height="1.80"/><ellipse cx="1116.45" cy="713.10" rx="1.45" ry="1.15"/><rect x="1120.86" y="700.71" width="1.7" height="5.42"/><ellipse cx="1121.71" cy="705.27" rx="1.45" ry="1.15"/><rect x="1126.11" y="688.86" width="1.7" height="8.77"/><ellipse cx="1126.96" cy="696.78" rx="1.45" ry="1.15"/><rect x="1131.36" y="699.59" width="1.7" height="6.54"/><ellipse cx="1132.21" cy="705.27" rx="1.45" ry="1.15"/><rect x="1136.62" y="705.62" width="1.7" height="4.52"/><ellipse cx="1137.47" cy="709.30" rx="1.45" ry="1.15"/><rect x="1141.87" y="709.65" width="1.7" height="2.06"/><ellipse cx="1142.72" cy="710.86" rx="1.45" ry="1.15"/><rect x="1147.12" y="683.94" width="1.7" height="12.79"/><ellipse cx="1147.97" cy="695.89" rx="1.45" ry="1.15"/><rect x="1152.37" y="710.76" width="1.7" height="1.62"/><ellipse cx="1153.22" cy="711.53" rx="1.45" ry="1.15"/><rect x="1157.63" y="713.26" width="1.7" height="1.80"/><ellipse cx="1158.48" cy="714.21" rx="1.45" ry="1.15"/><rect x="1162.88" y="701.15" width="1.7" height="5.42"/><ellipse cx="1163.73" cy="705.72" rx="1.45" ry="1.15"/><rect x="1168.13" y="708.31" width="1.7" height="2.74"/><ellipse cx="1168.98" cy="710.19" rx="1.45" ry="1.15"/><rect x="1173.39" y="705.18" width="1.7" height="3.63"/><ellipse cx="1174.24" cy="707.96" rx="1.45" ry="1.15"/><rect x="1178.64" y="707.19" width="1.7" height="2.96"/><ellipse cx="1179.49" cy="709.30" rx="1.45" ry="1.15"/><rect x="1183.89" y="705.18" width="1.7" height="3.63"/><ellipse cx="1184.74" cy="707.96" rx="1.45" ry="1.15"/><rect x="1189.15" y="698.47" width="1.7" height="5.86"/><ellipse cx="1190.00" cy="703.49" rx="1.45" ry="1.15"/><rect x="1194.40" y="695.56" width="1.7" height="6.54"/><ellipse cx="1195.25" cy="701.25" rx="1.45" ry="1.15"/><rect x="1199.65" y="667.18" width="1.7" height="14.81"/><ellipse cx="1200.50" cy="681.13" rx="1.45" ry="1.15"/><rect x="1204.90" y="639.24" width="1.7" height="21.06"/><ellipse cx="1205.75" cy="659.45" rx="1.45" ry="1.15"/><rect x="1210.16" y="644.15" width="1.7" height="22.85"/><ellipse cx="1211.01" cy="666.16" rx="1.45" ry="1.15"/><rect x="1215.41" y="587.15" width="1.7" height="31.79"/><ellipse cx="1216.26" cy="618.10" rx="1.45" ry="1.15"/><rect x="1220.66" y="690.42" width="1.7" height="8.55"/><ellipse cx="1221.51" cy="698.12" rx="1.45" ry="1.15"/><rect x="1225.92" y="686.18" width="1.7" height="9.89"/><ellipse cx="1226.77" cy="695.21" rx="1.45" ry="1.15"/><rect x="1231.17" y="696.24" width="1.7" height="5.86"/><ellipse cx="1232.02" cy="701.25" rx="1.45" ry="1.15"/><rect x="1236.42" y="704.06" width="1.7" height="3.18"/><ellipse cx="1237.27" cy="706.39" rx="1.45" ry="1.15"/><rect x="1241.68" y="708.79" width="1.7" height="1.80"/><ellipse cx="1242.53" cy="709.74" rx="1.45" ry="1.15"/><rect x="1246.93" y="709.24" width="1.7" height="1.80"/><ellipse cx="1247.78" cy="710.19" rx="1.45" ry="1.15"/><rect x="1252.18" y="712.82" width="1.7" height="1.80"/><ellipse cx="1253.03" cy="713.77" rx="1.45" ry="1.15"/><rect x="1257.43" y="712.15" width="1.7" height="1.80"/><ellipse cx="1258.28" cy="713.10" rx="1.45" ry="1.15"/><rect x="1262.69" y="712.15" width="1.7" height="1.80"/><ellipse cx="1263.54" cy="713.10" rx="1.45" ry="1.15"/><rect x="1267.94" y="712.37" width="1.7" height="1.80"/><ellipse cx="1268.79" cy="713.32" rx="1.45" ry="1.15"/></g>
<rect x="1100.90" y="581.50" width="177.60" height="141.70" fill="none" stroke="#333" stroke-width="1.3"/>
<g fill="#8e8e8e" stroke="#a9a9a9" stroke-width="0.5"><rect x="923.69" y="868.84" width="4.82" height="6.26"/><rect x="928.93" y="873.76" width="4.82" height="1.34"/><rect x="934.17" y="869.51" width="4.82" height="5.59"/><rect x="939.40" y="871.97" width="4.82" height="3.13"/><rect x="944.64" y="861.69" width="4.82" height="13.41"/><rect x="949.88" y="833.75" width="4.82" height="41.35"/><rect x="955.12" y="781.67" width="4.82" height="93.43"/><rect x="960.36" y="828.16" width="4.82" height="46.94"/><rect x="965.59" y="864.37" width="4.82" height="10.73"/><rect x="970.83" y="872.86" width="4.82" height="2.24"/><rect x="976.07" y="874.43" width="4.82" height="0.67"/></g>
<g fill="#111"><rect x="925.25" y="867.28" width="1.7" height="2.06"/><ellipse cx="926.10" cy="868.49" rx="1.45" ry="1.15"/><rect x="930.49" y="872.46" width="1.7" height="1.80"/><ellipse cx="931.34" cy="873.41" rx="1.45" ry="1.15"/><rect x="935.73" y="866.83" width="1.7" height="3.18"/><ellipse cx="936.58" cy="869.16" rx="1.45" ry="1.15"/><rect x="940.96" y="870.67" width="1.7" height="1.80"/><ellipse cx="941.81" cy="871.62" rx="1.45" ry="1.15"/><rect x="946.20" y="855.43" width="1.7" height="6.76"/><ellipse cx="947.05" cy="861.34" rx="1.45" ry="1.15"/><rect x="951.44" y="819.22" width="1.7" height="15.03"/><ellipse cx="952.29" cy="833.40" rx="1.45" ry="1.15"/><rect x="956.68" y="745.90" width="1.7" height="36.26"/><ellipse cx="957.53" cy="781.32" rx="1.45" ry="1.15"/><rect x="961.92" y="820.34" width="1.7" height="8.32"/><ellipse cx="962.77" cy="827.81" rx="1.45" ry="1.15"/><rect x="967.15" y="861.24" width="1.7" height="3.63"/><ellipse cx="968.00" cy="864.02" rx="1.45" ry="1.15"/><rect x="972.39" y="871.56" width="1.7" height="1.80"/><ellipse cx="973.24" cy="872.51" rx="1.45" ry="1.15"/><rect x="977.63" y="873.13" width="1.7" height="1.80"/><ellipse cx="978.48" cy="874.08" rx="1.45" ry="1.15"/><circle cx="983.72" cy="874.80" r="1"/><circle cx="988.96" cy="874.80" r="1"/><circle cx="994.19" cy="874.80" r="1"/><circle cx="999.43" cy="874.80" r="1"/><circle cx="1004.67" cy="874.80" r="1"/><circle cx="1009.91" cy="874.80" r="1"/><circle cx="1015.15" cy="874.80" r="1"/><circle cx="1020.38" cy="874.80" r="1"/><circle cx="1025.62" cy="874.80" r="1"/><circle cx="1030.86" cy="874.80" r="1"/><circle cx="1036.10" cy="874.80" r="1"/><circle cx="1041.34" cy="874.80" r="1"/><circle cx="1046.57" cy="874.80" r="1"/><circle cx="1051.81" cy="874.80" r="1"/><circle cx="1057.05" cy="874.80" r="1"/><circle cx="1062.29" cy="874.80" r="1"/><circle cx="1067.53" cy="874.80" r="1"/><circle cx="1072.76" cy="874.80" r="1"/><circle cx="1078.00" cy="874.80" r="1"/><circle cx="1083.24" cy="874.80" r="1"/></g>
<rect x="916.10" y="740.40" width="177.10" height="141.60" fill="none" stroke="#333" stroke-width="1.3"/>
<g fill="#cf272d" stroke="#e8555a" stroke-width="0.5"><rect x="1108.78" y="859.45" width="4.83" height="15.65"/><rect x="1114.04" y="861.69" width="4.83" height="13.41"/><rect x="1119.29" y="859.01" width="4.83" height="16.09"/><rect x="1124.54" y="867.28" width="4.83" height="7.82"/><rect x="1129.80" y="868.39" width="4.83" height="6.71"/><rect x="1135.05" y="866.16" width="4.83" height="8.94"/><rect x="1140.30" y="867.28" width="4.83" height="7.82"/><rect x="1145.55" y="862.14" width="4.83" height="12.96"/><rect x="1150.81" y="865.71" width="4.83" height="9.39"/><rect x="1156.06" y="871.08" width="4.83" height="4.02"/><rect x="1161.31" y="867.28" width="4.83" height="7.82"/><rect x="1166.57" y="866.16" width="4.83" height="8.94"/><rect x="1171.82" y="866.16" width="4.83" height="8.94"/><rect x="1177.07" y="864.37" width="4.83" height="10.73"/><rect x="1182.33" y="854.54" width="4.83" height="20.56"/><rect x="1187.58" y="831.51" width="4.83" height="43.59"/><rect x="1192.83" y="844.25" width="4.83" height="30.85"/><rect x="1198.08" y="812.96" width="4.83" height="62.14"/><rect x="1203.34" y="772.72" width="4.83" height="102.38"/><rect x="1208.59" y="806.25" width="4.83" height="68.85"/><rect x="1213.84" y="796.42" width="4.83" height="78.68"/><rect x="1219.10" y="860.57" width="4.83" height="14.53"/><rect x="1224.35" y="861.02" width="4.83" height="14.08"/><rect x="1229.60" y="860.57" width="4.83" height="14.53"/><rect x="1234.86" y="863.92" width="4.83" height="11.18"/><rect x="1240.11" y="867.95" width="4.83" height="7.15"/><rect x="1245.36" y="868.84" width="4.83" height="6.26"/><rect x="1250.61" y="871.08" width="4.83" height="4.02"/><rect x="1255.87" y="870.63" width="4.83" height="4.47"/><rect x="1261.12" y="869.51" width="4.83" height="5.59"/><rect x="1266.37" y="870.63" width="4.83" height="4.47"/></g>
<g fill="#111"><rect x="1110.35" y="856.77" width="1.7" height="3.18"/><ellipse cx="1111.20" cy="859.10" rx="1.45" ry="1.15"/><rect x="1115.60" y="859.01" width="1.7" height="3.18"/><ellipse cx="1116.45" cy="861.34" rx="1.45" ry="1.15"/><rect x="1120.86" y="857.22" width="1.7" height="2.29"/><ellipse cx="1121.71" cy="858.66" rx="1.45" ry="1.15"/><rect x="1126.11" y="865.98" width="1.7" height="1.80"/><ellipse cx="1126.96" cy="866.93" rx="1.45" ry="1.15"/><rect x="1131.36" y="867.09" width="1.7" height="1.80"/><ellipse cx="1132.21" cy="868.04" rx="1.45" ry="1.15"/><rect x="1136.62" y="864.86" width="1.7" height="1.80"/><ellipse cx="1137.47" cy="865.81" rx="1.45" ry="1.15"/><rect x="1141.87" y="865.98" width="1.7" height="1.80"/><ellipse cx="1142.72" cy="866.93" rx="1.45" ry="1.15"/><rect x="1147.12" y="860.84" width="1.7" height="1.80"/><ellipse cx="1147.97" cy="861.79" rx="1.45" ry="1.15"/><rect x="1152.37" y="864.41" width="1.7" height="1.80"/><ellipse cx="1153.22" cy="865.36" rx="1.45" ry="1.15"/><rect x="1157.63" y="869.78" width="1.7" height="1.80"/><ellipse cx="1158.48" cy="870.73" rx="1.45" ry="1.15"/><rect x="1162.88" y="865.98" width="1.7" height="1.80"/><ellipse cx="1163.73" cy="866.93" rx="1.45" ry="1.15"/><rect x="1168.13" y="864.86" width="1.7" height="1.80"/><ellipse cx="1168.98" cy="865.81" rx="1.45" ry="1.15"/><rect x="1173.39" y="864.86" width="1.7" height="1.80"/><ellipse cx="1174.24" cy="865.81" rx="1.45" ry="1.15"/><rect x="1178.64" y="863.07" width="1.7" height="1.80"/><ellipse cx="1179.49" cy="864.02" rx="1.45" ry="1.15"/><rect x="1183.89" y="849.39" width="1.7" height="5.64"/><ellipse cx="1184.74" cy="854.19" rx="1.45" ry="1.15"/><rect x="1189.15" y="821.90" width="1.7" height="10.11"/><ellipse cx="1190.00" cy="831.16" rx="1.45" ry="1.15"/><rect x="1194.40" y="840.01" width="1.7" height="4.75"/><ellipse cx="1195.25" cy="843.90" rx="1.45" ry="1.15"/><rect x="1199.65" y="798.65" width="1.7" height="14.81"/><ellipse cx="1200.50" cy="812.61" rx="1.45" ry="1.15"/><rect x="1204.90" y="758.87" width="1.7" height="14.36"/><ellipse cx="1205.75" cy="772.37" rx="1.45" ry="1.15"/><rect x="1210.16" y="782.34" width="1.7" height="24.42"/><ellipse cx="1211.01" cy="805.90" rx="1.45" ry="1.15"/><rect x="1215.41" y="785.69" width="1.7" height="11.23"/><ellipse cx="1216.26" cy="796.07" rx="1.45" ry="1.15"/><rect x="1220.66" y="858.34" width="1.7" height="2.74"/><ellipse cx="1221.51" cy="860.22" rx="1.45" ry="1.15"/><rect x="1225.92" y="859.72" width="1.7" height="1.80"/><ellipse cx="1226.77" cy="860.67" rx="1.45" ry="1.15"/><rect x="1231.17" y="856.77" width="1.7" height="4.30"/><ellipse cx="1232.02" cy="860.22" rx="1.45" ry="1.15"/><rect x="1236.42" y="861.24" width="1.7" height="3.18"/><ellipse cx="1237.27" cy="863.57" rx="1.45" ry="1.15"/><rect x="1241.68" y="866.16" width="1.7" height="2.29"/><ellipse cx="1242.53" cy="867.60" rx="1.45" ry="1.15"/><rect x="1246.93" y="867.54" width="1.7" height="1.80"/><ellipse cx="1247.78" cy="868.49" rx="1.45" ry="1.15"/><rect x="1252.18" y="869.78" width="1.7" height="1.80"/><ellipse cx="1253.03" cy="870.73" rx="1.45" ry="1.15"/><rect x="1257.43" y="869.33" width="1.7" height="1.80"/><ellipse cx="1258.28" cy="870.28" rx="1.45" ry="1.15"/><rect x="1262.69" y="868.21" width="1.7" height="1.80"/><ellipse cx="1263.54" cy="869.16" rx="1.45" ry="1.15"/><rect x="1267.94" y="869.33" width="1.7" height="1.80"/><ellipse cx="1268.79" cy="870.28" rx="1.45" ry="1.15"/></g>
<rect x="1100.90" y="740.40" width="177.60" height="141.60" fill="none" stroke="#333" stroke-width="1.3"/>
<line x1="1278.80" y1="589.20" x2="1282.00" y2="589.20" stroke="#222" stroke-width="1.4"/>
<text x="1285.70" y="601.40" font-size="23.7">8 x 10</text>
<text x="1354.90" y="588.90" font-size="21.6">3</text>
<text x="1285.10" y="632.50" font-size="23.7">6x 10</text>
<text x="1346.90" y="619.00" font-size="21.6">3</text>
<line x1="1278.80" y1="652.70" x2="1282.00" y2="652.70" stroke="#222" stroke-width="1.4"/>
<text x="1285.10" y="663.70" font-size="23.7">4 x 10</text>
<text x="1349.10" y="646.10" font-size="21.6">3</text>
<line x1="1278.80" y1="684.60" x2="1282.00" y2="684.60" stroke="#222" stroke-width="1.4"/>
<text x="1285.10" y="692.20" font-size="23.7">2 x 10</text>
<text x="1355.70" y="679.40" font-size="21.6">3</text>
<line x1="1278.80" y1="716.40" x2="1282.00" y2="716.40" stroke="#222" stroke-width="1.4"/>
<text x="1285.70" y="719.40" font-size="23.7">0</text>
<line x1="1278.80" y1="747.90" x2="1282.00" y2="747.90" stroke="#222" stroke-width="1.4"/>
<text x="1286.50" y="757.50" font-size="23.7">2.5 x 10</text>
<text x="1371.80" y="746.50" font-size="21.6">3</text>
<line x1="1278.80" y1="773.60" x2="1282.00" y2="773.60" stroke="#222" stroke-width="1.4"/>
<text x="1286.50" y="778.70" font-size="23.7">2 x 10</text>
<text x="1356.40" y="772.90" font-size="21.6">3</text>
<line x1="1278.80" y1="799.00" x2="1282.00" y2="799.00" stroke="#222" stroke-width="1.4"/>
<text x="1286.90" y="804.40" font-size="23.7">1.5 x 10</text>
<text x="1371.80" y="794.10" font-size="21.6">3</text>
<line x1="1278.80" y1="824.20" x2="1282.00" y2="824.20" stroke="#222" stroke-width="1.4"/>
<text x="1286.90" y="827.80" font-size="23.7">1 x 10</text>
<text x="1352.00" y="819.00" font-size="21.6">3</text>
<line x1="1278.80" y1="849.80" x2="1282.00" y2="849.80" stroke="#222" stroke-width="1.4"/>
<text x="1287.10" y="853.50" font-size="23.7">5 x 10</text>
<text x="1354.90" y="845.40" font-size="21.6">2</text>
<line x1="1278.80" y1="875.50" x2="1282.00" y2="875.50" stroke="#222" stroke-width="1.4"/>
<text x="1287.10" y="879.10" font-size="23.7">0</text>
<text x="959.00" y="906.00" font-size="24" text-anchor="middle">20</text>
<text x="1008.50" y="906.00" font-size="24" text-anchor="middle">30</text>
<text x="1057.10" y="906.00" font-size="24" text-anchor="middle">40</text>
<text x="1143.50" y="906.00" font-size="24" text-anchor="middle">20</text>
<text x="1193.60" y="906.00" font-size="24" text-anchor="middle">30</text>
<text x="1242.50" y="906.00" font-size="24" text-anchor="middle">40</text>
<line x1="952.00" y1="882.00" x2="952.00" y2="885.00" stroke="#222" stroke-width="1.2"/>
<line x1="1004.50" y1="882.00" x2="1004.50" y2="885.00" stroke="#222" stroke-width="1.2"/>
<line x1="1057.00" y1="882.00" x2="1057.00" y2="885.00" stroke="#222" stroke-width="1.2"/>
<line x1="1137.50" y1="882.00" x2="1137.50" y2="885.00" stroke="#222" stroke-width="1.2"/>
<line x1="1190.00" y1="882.00" x2="1190.00" y2="885.00" stroke="#222" stroke-width="1.2"/>
<line x1="1242.50" y1="882.00" x2="1242.50" y2="885.00" stroke="#222" stroke-width="1.2"/>
<text x="1123.60" y="930.00" font-size="24" text-anchor="middle">Length of nucleotides</text>
<!-- panel b -->
<text x="1476.90" y="119.10" font-size="39.5" font-weight="bold">b</text>
<text x="1716.90" y="260.90" font-size="27.4" text-anchor="middle">Primed Mouse ES cells</text>
<text x="1649.50" y="295.70" font-size="24" text-anchor="middle">P-body</text>
<text x="1765.50" y="295.70" font-size="24" text-anchor="middle">Cytoplasm</text>
<rect x="1579.30" y="304.10" width="118.60" height="15.10" fill="#e98888"/>
<rect x="1697.90" y="304.10" width="119.50" height="15.10" fill="#6dd5cf"/>
<rect x="1579.30" y="304.10" width="238.10" height="15.10" fill="none" stroke="#000" stroke-width="1.6"/>
<line x1="1697.90" y1="304.10" x2="1697.90" y2="319.20" stroke="#000" stroke-width="1.4"/>
<g shape-rendering="crispEdges"><rect x="1579.30" y="323.60" width="30.16" height="21.63" fill="#ef6b75"/><rect x="1609.06" y="323.60" width="30.16" height="21.63" fill="#f5a2a8"/><rect x="1638.83" y="323.60" width="30.16" height="21.63" fill="#fdf0f1"/><rect x="1668.59" y="323.60" width="30.16" height="21.63" fill="#ef6b75"/><rect x="1698.35" y="323.60" width="30.16" height="21.63" fill="#ffffff"/><rect x="1728.11" y="323.60" width="30.16" height="21.63" fill="#5e67b5"/><rect x="1757.88" y="323.60" width="30.16" height="21.63" fill="#c6c9e5"/><rect x="1787.64" y="323.60" width="30.16" height="21.63" fill="#5e67b5"/><rect x="1579.30" y="344.83" width="30.16" height="21.63" fill="#eb4652"/><rect x="1609.06" y="344.83" width="30.16" height="21.63" fill="#f499a0"/><rect x="1638.83" y="344.83" width="30.16" height="21.63" fill="#fef6f6"/><rect x="1668.59" y="344.83" width="30.16" height="21.63" fill="#f39097"/><rect x="1698.35" y="344.83" width="30.16" height="21.63" fill="#fef9fa"/><rect x="1728.11" y="344.83" width="30.16" height="21.63" fill="#5e67b5"/><rect x="1757.88" y="344.83" width="30.16" height="21.63" fill="#a0a6d4"/><rect x="1787.64" y="344.83" width="30.16" height="21.63" fill="#6870b9"/><rect x="1579.30" y="366.07" width="30.16" height="21.63" fill="#f7b5ba"/><rect x="1609.06" y="366.07" width="30.16" height="21.63" fill="#f0747d"/><rect x="1638.83" y="366.07" width="30.16" height="21.63" fill="#fde9ea"/><rect x="1668.59" y="366.07" width="30.16" height="21.63" fill="#ee626c"/><rect x="1698.35" y="366.07" width="30.16" height="21.63" fill="#fbd6d9"/><rect x="1728.11" y="366.07" width="30.16" height="21.63" fill="#5e67b5"/><rect x="1757.88" y="366.07" width="30.16" height="21.63" fill="#7b82c2"/><rect x="1787.64" y="366.07" width="30.16" height="21.63" fill="#5961b2"/><rect x="1579.30" y="387.30" width="30.16" height="21.63" fill="#f17a82"/><rect x="1609.06" y="387.30" width="30.16" height="21.63" fill="#f6acb1"/><rect x="1638.83" y="387.30" width="30.16" height="21.63" fill="#fde9ea"/><rect x="1668.59" y="387.30" width="30.16" height="21.63" fill="#ee626c"/><rect x="1698.35" y="387.30" width="30.16" height="21.63" fill="#fbdadc"/><rect x="1728.11" y="387.30" width="30.16" height="21.63" fill="#7b82c2"/><rect x="1757.88" y="387.30" width="30.16" height="21.63" fill="#5961b2"/><rect x="1787.64" y="387.30" width="30.16" height="21.63" fill="#7179be"/><rect x="1579.30" y="408.53" width="30.16" height="21.63" fill="#f17a82"/><rect x="1609.06" y="408.53" width="30.16" height="21.63" fill="#f6acb1"/><rect x="1638.83" y="408.53" width="30.16" height="21.63" fill="#f8bec2"/><rect x="1668.59" y="408.53" width="30.16" height="21.63" fill="#f0747d"/><rect x="1698.35" y="408.53" width="30.16" height="21.63" fill="#fdf0f1"/><rect x="1728.11" y="408.53" width="30.16" height="21.63" fill="#6870b9"/><rect x="1757.88" y="408.53" width="30.16" height="21.63" fill="#6870b9"/><rect x="1787.64" y="408.53" width="30.16" height="21.63" fill="#6870b9"/><rect x="1579.30" y="429.77" width="30.16" height="21.63" fill="#f17a82"/><rect x="1609.06" y="429.77" width="30.16" height="21.63" fill="#f17a82"/><rect x="1638.83" y="429.77" width="30.16" height="21.63" fill="#d5d8ec"/><rect x="1668.59" y="429.77" width="30.16" height="21.63" fill="#ee626c"/><rect x="1698.35" y="429.77" width="30.16" height="21.63" fill="#fef6f6"/><rect x="1728.11" y="429.77" width="30.16" height="21.63" fill="#6870b9"/><rect x="1757.88" y="429.77" width="30.16" height="21.63" fill="#646cb8"/><rect x="1787.64" y="429.77" width="30.16" height="21.63" fill="#a0a6d4"/><rect x="1579.30" y="451.00" width="30.16" height="21.63" fill="#f6acb1"/><rect x="1609.06" y="451.00" width="30.16" height="21.63" fill="#f17e86"/><rect x="1638.83" y="451.00" width="30.16" height="21.63" fill="#fef6f6"/><rect x="1668.59" y="451.00" width="30.16" height="21.63" fill="#ec4f5b"/><rect x="1698.35" y="451.00" width="30.16" height="21.63" fill="#ffffff"/><rect x="1728.11" y="451.00" width="30.16" height="21.63" fill="#848bc6"/><rect x="1757.88" y="451.00" width="30.16" height="21.63" fill="#5961b2"/><rect x="1787.64" y="451.00" width="30.16" height="21.63" fill="#7b82c2"/><rect x="1579.30" y="472.23" width="30.16" height="21.63" fill="#ed5863"/><rect x="1609.06" y="472.23" width="30.16" height="21.63" fill="#f499a0"/><rect x="1638.83" y="472.23" width="30.16" height="21.63" fill="#fbdadc"/><rect x="1668.59" y="472.23" width="30.16" height="21.63" fill="#f17a82"/><rect x="1698.35" y="472.23" width="30.16" height="21.63" fill="#cacde7"/><rect x="1728.11" y="472.23" width="30.16" height="21.63" fill="#6870b9"/><rect x="1757.88" y="472.23" width="30.16" height="21.63" fill="#7b82c2"/><rect x="1787.64" y="472.23" width="30.16" height="21.63" fill="#7b82c2"/><rect x="1579.30" y="493.47" width="30.16" height="21.63" fill="#ed5c67"/><rect x="1609.06" y="493.47" width="30.16" height="21.63" fill="#f499a0"/><rect x="1638.83" y="493.47" width="30.16" height="21.63" fill="#fbd6d9"/><rect x="1668.59" y="493.47" width="30.16" height="21.63" fill="#f0747d"/><rect x="1698.35" y="493.47" width="30.16" height="21.63" fill="#e3e4f2"/><rect x="1728.11" y="493.47" width="30.16" height="21.63" fill="#515aaf"/><rect x="1757.88" y="493.47" width="30.16" height="21.63" fill="#a0a6d4"/><rect x="1787.64" y="493.47" width="30.16" height="21.63" fill="#777ec0"/><rect x="1579.30" y="514.70" width="30.16" height="21.63" fill="#f17e86"/><rect x="1609.06" y="514.70" width="30.16" height="21.63" fill="#fce3e5"/><rect x="1638.83" y="514.70" width="30.16" height="21.63" fill="#fbd6d9"/><rect x="1668.59" y="514.70" width="30.16" height="21.63" fill="#eb4652"/><rect x="1698.35" y="514.70" width="30.16" height="21.63" fill="#e8eaf5"/><rect x="1728.11" y="514.70" width="30.16" height="21.63" fill="#4b55ac"/><rect x="1757.88" y="514.70" width="30.16" height="21.63" fill="#8e94cb"/><rect x="1787.64" y="514.70" width="30.16" height="21.63" fill="#b3b7dc"/><rect x="1579.30" y="535.93" width="30.16" height="21.63" fill="#ed5863"/><rect x="1609.06" y="535.93" width="30.16" height="21.63" fill="#fffbfc"/><rect x="1638.83" y="535.93" width="30.16" height="21.63" fill="#fce3e5"/><rect x="1668.59" y="535.93" width="30.16" height="21.63" fill="#ed5c67"/><rect x="1698.35" y="535.93" width="30.16" height="21.63" fill="#fad1d4"/><rect x="1728.11" y="535.93" width="30.16" height="21.63" fill="#6870b9"/><rect x="1757.88" y="535.93" width="30.16" height="21.63" fill="#646cb8"/><rect x="1787.64" y="535.93" width="30.16" height="21.63" fill="#848bc6"/><rect x="1579.30" y="557.17" width="30.16" height="21.63" fill="#ee626c"/><rect x="1609.06" y="557.17" width="30.16" height="21.63" fill="#f5a2a8"/><rect x="1638.83" y="557.17" width="30.16" height="21.63" fill="#fbdee0"/><rect x="1668.59" y="557.17" width="30.16" height="21.63" fill="#f2878f"/><rect x="1698.35" y="557.17" width="30.16" height="21.63" fill="#fdf0f1"/><rect x="1728.11" y="557.17" width="30.16" height="21.63" fill="#4851ab"/><rect x="1757.88" y="557.17" width="30.16" height="21.63" fill="#bdc0e1"/><rect x="1787.64" y="557.17" width="30.16" height="21.63" fill="#7179be"/><rect x="1579.30" y="578.40" width="30.16" height="21.63" fill="#f17e86"/><rect x="1609.06" y="578.40" width="30.16" height="21.63" fill="#f499a0"/><rect x="1638.83" y="578.40" width="30.16" height="21.63" fill="#fce3e5"/><rect x="1668.59" y="578.40" width="30.16" height="21.63" fill="#f0747d"/><rect x="1698.35" y="578.40" width="30.16" height="21.63" fill="#ffffff"/><rect x="1728.11" y="578.40" width="30.16" height="21.63" fill="#424ca8"/><rect x="1757.88" y="578.40" width="30.16" height="21.63" fill="#d5d8ec"/><rect x="1787.64" y="578.40" width="30.16" height="21.63" fill="#a0a6d4"/><rect x="1579.30" y="599.63" width="30.16" height="21.63" fill="#ed5560"/><rect x="1609.06" y="599.63" width="30.16" height="21.63" fill="#f5a2a8"/><rect x="1638.83" y="599.63" width="30.16" height="21.63" fill="#fef9fa"/><rect x="1668.59" y="599.63" width="30.16" height="21.63" fill="#ee626c"/><rect x="1698.35" y="599.63" width="30.16" height="21.63" fill="#c6c9e5"/><rect x="1728.11" y="599.63" width="30.16" height="21.63" fill="#555eb1"/><rect x="1757.88" y="599.63" width="30.16" height="21.63" fill="#e3e4f2"/><rect x="1787.64" y="599.63" width="30.16" height="21.63" fill="#6870b9"/><rect x="1579.30" y="620.87" width="30.16" height="21.63" fill="#ed5c67"/><rect x="1609.06" y="620.87" width="30.16" height="21.63" fill="#f499a0"/><rect x="1638.83" y="620.87" width="30.16" height="21.63" fill="#fce3e5"/><rect x="1668.59" y="620.87" width="30.16" height="21.63" fill="#ed5c67"/><rect x="1698.35" y="620.87" width="30.16" height="21.63" fill="#bdc0e1"/><rect x="1728.11" y="620.87" width="30.16" height="21.63" fill="#979dcf"/><rect x="1757.88" y="620.87" width="30.16" height="21.63" fill="#aaaed8"/><rect x="1787.64" y="620.87" width="30.16" height="21.63" fill="#555eb1"/><rect x="1579.30" y="642.10" width="30.16" height="21.63" fill="#ef6b75"/><rect x="1609.06" y="642.10" width="30.16" height="21.63" fill="#f39097"/><rect x="1638.83" y="642.10" width="30.16" height="21.63" fill="#ffffff"/><rect x="1668.59" y="642.10" width="30.16" height="21.63" fill="#ee626c"/><rect x="1698.35" y="642.10" width="30.16" height="21.63" fill="#5e67b5"/><rect x="1728.11" y="642.10" width="30.16" height="21.63" fill="#a0a6d4"/><rect x="1757.88" y="642.10" width="30.16" height="21.63" fill="#ffffff"/><rect x="1787.64" y="642.10" width="30.16" height="21.63" fill="#5e67b5"/><rect x="1579.30" y="663.33" width="30.16" height="21.63" fill="#eb4652"/><rect x="1609.06" y="663.33" width="30.16" height="21.63" fill="#f6acb1"/><rect x="1638.83" y="663.33" width="30.16" height="21.63" fill="#fdecee"/><rect x="1668.59" y="663.33" width="30.16" height="21.63" fill="#f17a82"/><rect x="1698.35" y="663.33" width="30.16" height="21.63" fill="#5961b2"/><rect x="1728.11" y="663.33" width="30.16" height="21.63" fill="#d9dbee"/><rect x="1757.88" y="663.33" width="30.16" height="21.63" fill="#bdc0e1"/><rect x="1787.64" y="663.33" width="30.16" height="21.63" fill="#7b82c2"/><rect x="1579.30" y="684.57" width="30.16" height="21.63" fill="#f499a0"/><rect x="1609.06" y="684.57" width="30.16" height="21.63" fill="#f5a2a8"/><rect x="1638.83" y="684.57" width="30.16" height="21.63" fill="#fbdadc"/><rect x="1668.59" y="684.57" width="30.16" height="21.63" fill="#ef6f78"/><rect x="1698.35" y="684.57" width="30.16" height="21.63" fill="#424ca8"/><rect x="1728.11" y="684.57" width="30.16" height="21.63" fill="#ffffff"/><rect x="1757.88" y="684.57" width="30.16" height="21.63" fill="#f6f6fb"/><rect x="1787.64" y="684.57" width="30.16" height="21.63" fill="#aaaed8"/></g>
<line x1="1579.30" y1="345.43" x2="1817.40" y2="345.43" stroke="#fff" stroke-width="0.9"/>
<rect x="1579.30" y="323.60" width="238.10" height="382.20" fill="none" stroke="#000" stroke-width="1.6"/>
<text x="1821.80" y="339.80" font-size="24">miR−182</text>
<text x="1821.80" y="361.01" font-size="24">miR−183</text>
<text x="1821.80" y="382.22" font-size="24">miR−300/381</text>
<text x="1821.80" y="403.43" font-size="24">miR−291a</text>
<text x="1821.80" y="424.64" font-size="24">miR−409</text>
<text x="1821.80" y="445.85" font-size="24">mir−292a</text>
<text x="1821.80" y="467.06" font-size="24">miR−433</text>
<text x="1821.80" y="488.27" font-size="24">miR−323</text>
<text x="1821.80" y="509.48" font-size="24">miR−106a</text>
<text x="1821.80" y="530.69" font-size="24">miR−294</text>
<text x="1821.80" y="551.90" font-size="24">miR−101a</text>
<text x="1821.80" y="573.11" font-size="24">miR−200b</text>
<text x="1821.80" y="594.32" font-size="24">miR−302a</text>
<text x="1821.80" y="615.53" font-size="24">miR−410</text>
<text x="1821.80" y="636.74" font-size="24">miR−411</text>
<text x="1821.80" y="657.95" font-size="24">miR−295</text>
<text x="1821.80" y="679.16" font-size="24">miR−382</text>
<text x="1821.80" y="700.37" font-size="24">miR−543</text>
<defs><linearGradient id="gb" x1="0" y1="0" x2="0" y2="1"><stop offset="0" stop-color="#e8323e"/><stop offset="0.5" stop-color="#ffffff"/><stop offset="1" stop-color="#3f52ab"/></linearGradient></defs>
<rect x="1942.60" y="613.40" width="8.40" height="90.60" fill="url(#gb)" stroke="#000" stroke-width="1.2"/>
<text x="1954.60" y="618.60" font-size="19.5">2</text>
<text x="1954.60" y="661.40" font-size="19.5">0</text>
<text x="1954.60" y="703.30" font-size="19.5">−2</text>
<text x="1964.20" y="726.80" font-size="20.3" text-anchor="middle">z−score</text>
<!-- panel c -->
<text x="22.50" y="1012.90" font-size="39.5" font-weight="bold">c</text>
<text x="213.80" y="1018.20" font-size="27.5" text-anchor="middle">Primed Human ES Cells</text>
<text x="132.80" y="1071.80" font-size="24" text-anchor="middle">Cyto</text>
<text x="209.30" y="1071.80" font-size="24" text-anchor="middle">P-body</text>
<rect x="87.30" y="1078.90" width="83.10" height="17.80" fill="#6dd5cf"/>
<rect x="170.40" y="1078.90" width="83.10" height="17.80" fill="#e98888"/>
<rect x="87.30" y="1078.90" width="166.20" height="17.80" fill="none" stroke="#000" stroke-width="1.6"/>
<line x1="170.40" y1="1078.90" x2="170.40" y2="1096.70" stroke="#000" stroke-width="1.4"/>
<g shape-rendering="crispEdges"><rect x="87.30" y="1096.70" width="41.95" height="18.10" fill="#8ab4d8"/><rect x="128.85" y="1096.70" width="41.95" height="18.10" fill="#c5e2ee"/><rect x="170.40" y="1096.70" width="41.95" height="18.10" fill="#f2d98a"/><rect x="211.95" y="1096.70" width="41.95" height="18.10" fill="#ec6446"/><rect x="87.30" y="1114.40" width="41.95" height="20.50" fill="#85aed6"/><rect x="128.85" y="1114.40" width="41.95" height="20.50" fill="#cfe8f1"/><rect x="170.40" y="1114.40" width="41.95" height="20.50" fill="#f0df8c"/><rect x="211.95" y="1114.40" width="41.95" height="20.50" fill="#eb6145"/><rect x="87.30" y="1134.50" width="41.95" height="19.10" fill="#c9e4ef"/><rect x="128.85" y="1134.50" width="41.95" height="19.10" fill="#8ab4d8"/><rect x="170.40" y="1134.50" width="41.95" height="19.10" fill="#f2dd8b"/><rect x="211.95" y="1134.50" width="41.95" height="19.10" fill="#e95f43"/><rect x="87.30" y="1153.20" width="41.95" height="18.00" fill="#7faad4"/><rect x="128.85" y="1153.20" width="41.95" height="18.00" fill="#cde6f0"/><rect x="170.40" y="1153.20" width="41.95" height="18.00" fill="#f0975f"/><rect x="211.95" y="1153.20" width="41.95" height="18.00" fill="#f0975f"/><rect x="87.30" y="1170.80" width="41.95" height="18.80" fill="#7faad4"/><rect x="128.85" y="1170.80" width="41.95" height="18.80" fill="#d2e9f2"/><rect x="170.40" y="1170.80" width="41.95" height="18.80" fill="#ee9160"/><rect x="211.95" y="1170.80" width="41.95" height="18.80" fill="#f0a366"/><rect x="87.30" y="1189.20" width="41.95" height="20.30" fill="#7ca6d2"/><rect x="128.85" y="1189.20" width="41.95" height="20.30" fill="#ddeff3"/><rect x="170.40" y="1189.20" width="41.95" height="20.30" fill="#ec6e4b"/><rect x="211.95" y="1189.20" width="41.95" height="20.30" fill="#f3cc80"/><rect x="87.30" y="1209.10" width="41.95" height="19.80" fill="#93bddc"/><rect x="128.85" y="1209.10" width="41.95" height="19.80" fill="#a9cfe4"/><rect x="170.40" y="1209.10" width="41.95" height="19.80" fill="#f2a566"/><rect x="211.95" y="1209.10" width="41.95" height="19.80" fill="#ee8458"/><rect x="87.30" y="1228.50" width="41.95" height="18.10" fill="#a3cbe2"/><rect x="128.85" y="1228.50" width="41.95" height="18.10" fill="#9dc6df"/><rect x="170.40" y="1228.50" width="41.95" height="18.10" fill="#ee8256"/><rect x="211.95" y="1228.50" width="41.95" height="18.10" fill="#f2a868"/><rect x="87.30" y="1246.20" width="41.95" height="20.30" fill="#a3cbe2"/><rect x="128.85" y="1246.20" width="41.95" height="20.30" fill="#a3cbe2"/><rect x="170.40" y="1246.20" width="41.95" height="20.30" fill="#ee8256"/><rect x="211.95" y="1246.20" width="41.95" height="20.30" fill="#f2a868"/><rect x="87.30" y="1266.10" width="41.95" height="20.20" fill="#eaf5e3"/><rect x="128.85" y="1266.10" width="41.95" height="20.20" fill="#6f99cc"/><rect x="170.40" y="1266.10" width="41.95" height="20.20" fill="#ea6646"/><rect x="211.95" y="1266.10" width="41.95" height="20.20" fill="#f2e08c"/><rect x="87.30" y="1285.90" width="41.95" height="20.10" fill="#93bddc"/><rect x="128.85" y="1285.90" width="41.95" height="20.10" fill="#dff0f3"/><rect x="170.40" y="1285.90" width="41.95" height="20.10" fill="#e24535"/><rect x="211.95" y="1285.90" width="41.95" height="20.10" fill="#f3f9b6"/></g>
<rect x="87.30" y="1096.70" width="166.20" height="208.90" fill="none" stroke="#000" stroke-width="1.6"/>
<text x="261.30" y="1109.10" font-size="24">miR−486</text>
<text x="261.30" y="1129.20" font-size="24">miR−203</text>
<text x="261.30" y="1148.80" font-size="24">let−a</text>
<text x="261.30" y="1167.30" font-size="24">miR−92</text>
<text x="261.30" y="1185.60" font-size="24">miR−371</text>
<text x="261.30" y="1204.70" font-size="24">miR−320b</text>
<text x="261.30" y="1224.10" font-size="24">miR−485</text>
<text x="261.30" y="1244.00" font-size="24">miR−27a</text>
<text x="261.30" y="1264.30" font-size="24">miR−222</text>
<text x="261.30" y="1284.50" font-size="24">miR−10a</text>
<text x="261.30" y="1304.40" font-size="24">miR−192</text>
<defs><linearGradient id="gc" x1="0" y1="0" x2="1" y2="0"><stop offset="0" stop-color="#4f7fc0"/><stop offset="0.2" stop-color="#9dc6df"/><stop offset="0.38" stop-color="#e4f3ee"/><stop offset="0.5" stop-color="#fbf7c0"/><stop offset="0.62" stop-color="#f7d283"/><stop offset="0.82" stop-color="#ee8455"/><stop offset="1" stop-color="#dc3a2f"/></linearGradient></defs>
<rect x="86.40" y="1317.30" width="73.80" height="8.10" fill="url(#gc)" stroke="#000" stroke-width="1.2"/>
<text x="86.60" y="1348.00" font-size="20" text-anchor="middle">−1</text>
<text x="123.30" y="1348.00" font-size="20" text-anchor="middle">0</text>
<text x="156.60" y="1348.00" font-size="20" text-anchor="middle">1</text>
<text x="122.40" y="1367.80" font-size="20.3" text-anchor="middle">z-score</text>
<!-- panel d -->
<text x="526.30" y="1012.90" font-size="39.5" font-weight="bold">d</text>
<text x="734.20" y="1019.00" font-size="28.6" text-anchor="middle">Human Neural Prog.</text>
<text x="665.80" y="1051.40" font-size="24" text-anchor="middle">Cyto</text>
<text x="742.20" y="1051.40" font-size="24" text-anchor="middle">P-body</text>
<rect x="620.80" y="1060.90" width="83.30" height="17.00" fill="#6dd5cf"/>
<rect x="704.10" y="1060.90" width="83.30" height="17.00" fill="#e98888"/>
<rect x="620.80" y="1060.90" width="166.60" height="17.00" fill="none" stroke="#000" stroke-width="1.6"/>
<line x1="704.10" y1="1060.90" x2="704.10" y2="1077.90" stroke="#000" stroke-width="1.4"/>
<g shape-rendering="crispEdges"><rect x="620.80" y="1077.90" width="42.05" height="19.80" fill="#cfe8f1"/><rect x="662.45" y="1077.90" width="42.05" height="19.80" fill="#9dc6df"/><rect x="704.10" y="1077.90" width="42.05" height="19.80" fill="#e24535"/><rect x="745.75" y="1077.90" width="42.05" height="19.80" fill="#f3f5a8"/><rect x="620.80" y="1097.30" width="42.05" height="22.50" fill="#9dc6df"/><rect x="662.45" y="1097.30" width="42.05" height="22.50" fill="#b5d8e9"/><rect x="704.10" y="1097.30" width="42.05" height="22.50" fill="#e6533c"/><rect x="745.75" y="1097.30" width="42.05" height="22.50" fill="#f3e18c"/><rect x="620.80" y="1119.40" width="42.05" height="22.80" fill="#c5e2ee"/><rect x="662.45" y="1119.40" width="42.05" height="22.80" fill="#93bddc"/><rect x="704.10" y="1119.40" width="42.05" height="22.80" fill="#e8573e"/><rect x="745.75" y="1119.40" width="42.05" height="22.80" fill="#f3e08b"/><rect x="620.80" y="1141.80" width="42.05" height="22.40" fill="#bbddeb"/><rect x="662.45" y="1141.80" width="42.05" height="22.40" fill="#93bddc"/><rect x="704.10" y="1141.80" width="42.05" height="22.40" fill="#ea6044"/><rect x="745.75" y="1141.80" width="42.05" height="22.40" fill="#f2d386"/><rect x="620.80" y="1163.80" width="42.05" height="23.00" fill="#a9cfe4"/><rect x="662.45" y="1163.80" width="42.05" height="23.00" fill="#9dc6df"/><rect x="704.10" y="1163.80" width="42.05" height="23.00" fill="#ea6044"/><rect x="745.75" y="1163.80" width="42.05" height="23.00" fill="#f2d386"/><rect x="620.80" y="1186.40" width="42.05" height="22.80" fill="#eaf5e3"/><rect x="662.45" y="1186.40" width="42.05" height="22.80" fill="#7099cc"/><rect x="704.10" y="1186.40" width="42.05" height="22.80" fill="#ea6044"/><rect x="745.75" y="1186.40" width="42.05" height="22.80" fill="#f3e08b"/><rect x="620.80" y="1208.80" width="42.05" height="22.50" fill="#e9f5e6"/><rect x="662.45" y="1208.80" width="42.05" height="22.50" fill="#7ca6d2"/><rect x="704.10" y="1208.80" width="42.05" height="22.50" fill="#e34937"/><rect x="745.75" y="1208.80" width="42.05" height="22.50" fill="#f3f5a6"/><rect x="620.80" y="1230.90" width="42.05" height="21.20" fill="#e6f3ec"/><rect x="662.45" y="1230.90" width="42.05" height="21.20" fill="#7ca6d2"/><rect x="704.10" y="1230.90" width="42.05" height="21.20" fill="#e44c38"/><rect x="745.75" y="1230.90" width="42.05" height="21.20" fill="#f4ee98"/><rect x="620.80" y="1251.70" width="42.05" height="22.50" fill="#e6f3ec"/><rect x="662.45" y="1251.70" width="42.05" height="22.50" fill="#7099cc"/><rect x="704.10" y="1251.70" width="42.05" height="22.50" fill="#ec6a4a"/><rect x="745.75" y="1251.70" width="42.05" height="22.50" fill="#f3e08b"/><rect x="620.80" y="1273.80" width="42.05" height="22.40" fill="#cfe8f1"/><rect x="662.45" y="1273.80" width="42.05" height="22.40" fill="#8ab4d8"/><rect x="704.10" y="1273.80" width="42.05" height="22.40" fill="#e95e43"/><rect x="745.75" y="1273.80" width="42.05" height="22.40" fill="#f3dc89"/><rect x="620.80" y="1295.80" width="42.05" height="22.50" fill="#7ca6d2"/><rect x="662.45" y="1295.80" width="42.05" height="22.50" fill="#ddeff3"/><rect x="704.10" y="1295.80" width="42.05" height="22.50" fill="#ec6a4a"/><rect x="745.75" y="1295.80" width="42.05" height="22.50" fill="#f3d284"/><rect x="620.80" y="1317.90" width="42.05" height="20.10" fill="#85aed6"/><rect x="662.45" y="1317.90" width="42.05" height="20.10" fill="#cde6f0"/><rect x="704.10" y="1317.90" width="42.05" height="20.10" fill="#f6c37b"/><rect x="745.75" y="1317.90" width="42.05" height="20.10" fill="#ec6848"/><rect x="620.80" y="1337.60" width="42.05" height="22.70" fill="#ddeff3"/><rect x="662.45" y="1337.60" width="42.05" height="22.70" fill="#7ca6d2"/><rect x="704.10" y="1337.60" width="42.05" height="22.70" fill="#f3e08b"/><rect x="745.75" y="1337.60" width="42.05" height="22.70" fill="#e95a41"/></g>
<rect x="620.80" y="1077.90" width="166.60" height="282.00" fill="none" stroke="#000" stroke-width="1.6"/>
<text x="795.20" y="1093.80" font-size="24">miR−122</text>
<text x="795.20" y="1114.40" font-size="24">let−7a</text>
<text x="795.20" y="1136.50" font-size="24">miR−636</text>
<text x="795.20" y="1158.50" font-size="24">miR−203</text>
<text x="795.20" y="1181.50" font-size="24">miR−27a</text>
<text x="795.20" y="1203.20" font-size="24">miR−92a</text>
<text x="795.20" y="1226.10" font-size="24">miR−143</text>
<text x="795.20" y="1248.20" font-size="24">miR−877</text>
<text x="795.20" y="1269.70" font-size="24">miR−1908</text>
<text x="795.20" y="1290.90" font-size="24">miR−29</text>
<text x="795.20" y="1312.90" font-size="24">miR−3168</text>
<text x="795.20" y="1335.00" font-size="24">miR−486</text>
<text x="795.20" y="1355.30" font-size="24">miR−199</text>
<defs><linearGradient id="gd" x1="0" y1="0" x2="1" y2="0"><stop offset="0" stop-color="#4f7fc0"/><stop offset="0.2" stop-color="#9dc6df"/><stop offset="0.38" stop-color="#e4f3ee"/><stop offset="0.5" stop-color="#fbf7c0"/><stop offset="0.62" stop-color="#f7d283"/><stop offset="0.82" stop-color="#ee8455"/><stop offset="1" stop-color="#dc3a2f"/></linearGradient></defs>
<rect x="619.90" y="1371.20" width="73.60" height="8.20" fill="url(#gd)" stroke="#000" stroke-width="1.2"/>
<text x="620.10" y="1402.30" font-size="20" text-anchor="middle">−1</text>
<text x="656.70" y="1402.30" font-size="20" text-anchor="middle">0</text>
<text x="689.90" y="1402.30" font-size="20" text-anchor="middle">1</text>
<text x="655.80" y="1421.60" font-size="20.3" text-anchor="middle">z-score</text>
<!-- panel e -->
<text x="1041.60" y="1011.60" font-size="39.5" font-weight="bold">e</text>
<text x="1528.00" y="995.60" font-size="27.35" text-anchor="middle">Primed Mouse ESC miRNA targets</text>
<rect x="1186.10" y="1005.50" width="691.70" height="339.40" fill="none" stroke="#333" stroke-width="1.3"/>
<g stroke="#111" stroke-width="1.6" fill="none"><line x1="1203.80" y1="1063.77" x2="1203.80" y2="1288.59" stroke-width="1.6"/><rect x="1192.55" y="1147.77" width="22.50" height="56.82" fill="#8e8e93"/><line x1="1192.55" y1="1176.18" x2="1215.05" y2="1176.18"/><line x1="1233.65" y1="1053.39" x2="1233.65" y2="1275.50" stroke-width="1.6"/><rect x="1222.40" y="1132.45" width="22.50" height="58.55" fill="#8fd642"/><line x1="1222.40" y1="1161.85" x2="1244.90" y2="1161.85"/><line x1="1263.50" y1="1045.98" x2="1263.50" y2="1265.86" stroke-width="1.6"/><rect x="1252.25" y="1128.74" width="22.50" height="61.02" fill="#8fd642"/><line x1="1252.25" y1="1159.62" x2="1274.75" y2="1159.62"/><line x1="1293.35" y1="1051.41" x2="1293.35" y2="1281.92" stroke-width="1.6"/><rect x="1282.10" y="1136.15" width="22.50" height="58.55" fill="#8fd642"/><line x1="1282.10" y1="1167.53" x2="1304.60" y2="1167.53"/><line x1="1323.20" y1="1051.41" x2="1323.20" y2="1281.67" stroke-width="1.6"/><rect x="1311.95" y="1136.15" width="22.50" height="58.55" fill="#8fd642"/><line x1="1311.95" y1="1168.02" x2="1334.45" y2="1168.02"/><line x1="1353.05" y1="1045.48" x2="1353.05" y2="1275.99" stroke-width="1.6"/><rect x="1341.80" y="1133.68" width="22.50" height="59.79" fill="#8fd642"/><line x1="1341.80" y1="1167.04" x2="1364.30" y2="1167.04"/><line x1="1382.90" y1="1049.19" x2="1382.90" y2="1267.84" stroke-width="1.6"/><rect x="1371.65" y="1128.00" width="22.50" height="57.56" fill="#8fd642"/><line x1="1371.65" y1="1156.41" x2="1394.15" y2="1156.41"/><line x1="1412.75" y1="1048.94" x2="1412.75" y2="1269.32" stroke-width="1.6"/><rect x="1401.50" y="1130.97" width="22.50" height="56.82" fill="#8fd642"/><line x1="1401.50" y1="1162.59" x2="1424.00" y2="1162.59"/><line x1="1442.60" y1="1066.24" x2="1442.60" y2="1262.40" stroke-width="1.6"/><rect x="1431.35" y="1134.67" width="22.50" height="52.62" fill="#8fd642"/><line x1="1431.35" y1="1160.86" x2="1453.85" y2="1160.86"/><line x1="1472.45" y1="1062.04" x2="1472.45" y2="1254.99" stroke-width="1.6"/><rect x="1461.20" y="1135.41" width="22.50" height="51.88" fill="#8fd642"/><line x1="1461.20" y1="1163.33" x2="1483.70" y2="1163.33"/><line x1="1502.30" y1="1053.14" x2="1502.30" y2="1265.86" stroke-width="1.6"/><rect x="1491.05" y="1126.52" width="22.50" height="59.54" fill="#8fd642"/><line x1="1491.05" y1="1156.66" x2="1513.55" y2="1156.66"/><line x1="1532.15" y1="1047.95" x2="1532.15" y2="1267.10" stroke-width="1.6"/><rect x="1520.90" y="1131.95" width="22.50" height="57.32" fill="#8fd642"/><line x1="1520.90" y1="1161.85" x2="1543.40" y2="1161.85"/><line x1="1562.00" y1="1050.42" x2="1562.00" y2="1267.84" stroke-width="1.6"/><rect x="1550.75" y="1131.95" width="22.50" height="55.34" fill="#8fd642"/><line x1="1550.75" y1="1158.14" x2="1573.25" y2="1158.14"/><line x1="1591.85" y1="1056.60" x2="1591.85" y2="1260.42" stroke-width="1.6"/><rect x="1580.60" y="1134.42" width="22.50" height="51.64" fill="#8fd642"/><line x1="1580.60" y1="1162.84" x2="1603.10" y2="1162.84"/><line x1="1621.70" y1="1043.01" x2="1621.70" y2="1266.85" stroke-width="1.6"/><rect x="1610.45" y="1129.48" width="22.50" height="58.55" fill="#8fd642"/><line x1="1610.45" y1="1161.35" x2="1632.95" y2="1161.35"/><line x1="1651.55" y1="1059.07" x2="1651.55" y2="1260.18" stroke-width="1.6"/><rect x="1640.30" y="1134.67" width="22.50" height="52.13" fill="#8fd642"/><line x1="1640.30" y1="1164.32" x2="1662.80" y2="1164.32"/><line x1="1681.40" y1="1051.41" x2="1681.40" y2="1252.77" stroke-width="1.6"/><rect x="1670.15" y="1117.62" width="22.50" height="54.35" fill="#8fd642"/><line x1="1670.15" y1="1146.78" x2="1692.65" y2="1146.78"/><line x1="1711.25" y1="1054.13" x2="1711.25" y2="1276.24" stroke-width="1.6"/><rect x="1700.00" y="1137.39" width="22.50" height="57.56" fill="#8fd642"/><line x1="1700.00" y1="1167.53" x2="1722.50" y2="1167.53"/><line x1="1741.10" y1="1077.85" x2="1741.10" y2="1235.47" stroke-width="1.6"/><rect x="1729.85" y="1137.64" width="22.50" height="48.67" fill="#8fd642"/><line x1="1729.85" y1="1164.07" x2="1752.35" y2="1164.07"/><line x1="1770.95" y1="1047.46" x2="1770.95" y2="1277.47" stroke-width="1.6"/><rect x="1759.70" y="1133.44" width="22.50" height="58.31" fill="#8fd642"/><line x1="1759.70" y1="1160.12" x2="1782.20" y2="1160.12"/><line x1="1800.80" y1="1041.53" x2="1800.80" y2="1255.24" stroke-width="1.6"/><rect x="1789.55" y="1116.88" width="22.50" height="58.06" fill="#8fd642"/><line x1="1789.55" y1="1147.02" x2="1812.05" y2="1147.02"/><line x1="1830.65" y1="1055.37" x2="1830.65" y2="1252.52" stroke-width="1.6"/><rect x="1819.40" y="1126.52" width="22.50" height="53.36" fill="#8fd642"/><line x1="1819.40" y1="1154.68" x2="1841.90" y2="1154.68"/><line x1="1860.50" y1="1031.89" x2="1860.50" y2="1255.24" stroke-width="1.6"/><rect x="1849.25" y="1121.08" width="22.50" height="62.01" fill="#8fd642"/><line x1="1849.25" y1="1154.68" x2="1871.75" y2="1154.68"/></g>
<line x1="1186.10" y1="1175.40" x2="1877.80" y2="1175.40" stroke="#111" stroke-width="1.5"/>
<line x1="1182.50" y1="1071.70" x2="1186.70" y2="1071.70" stroke="#333" stroke-width="1.3"/>
<text x="1180.20" y="1078.70" font-size="23.5" text-anchor="end">2</text>
<line x1="1182.50" y1="1175.40" x2="1186.70" y2="1175.40" stroke="#333" stroke-width="1.3"/>
<text x="1180.20" y="1182.40" font-size="23.5" text-anchor="end">0</text>
<line x1="1182.50" y1="1278.20" x2="1186.70" y2="1278.20" stroke="#333" stroke-width="1.3"/>
<text x="1180.20" y="1285.20" font-size="23.5" text-anchor="end">−2</text>
<text transform="translate(1125.80 1175.00) rotate(-90)" font-size="24" text-anchor="middle">P-body fold enrichment</text>
<text transform="translate(1154.80 1172.00) rotate(-90)" font-size="24" text-anchor="middle">(log2FC)</text>
<text x="1230.75" y="1034.30" font-size="20" text-anchor="middle">***</text>
<text x="1260.60" y="1034.30" font-size="20" text-anchor="middle">***</text>
<text x="1290.45" y="1034.30" font-size="20" text-anchor="middle">***</text>
<text x="1320.30" y="1034.30" font-size="20" text-anchor="middle">***</text>
<text x="1350.15" y="1034.30" font-size="20" text-anchor="middle">***</text>
<text x="1380.00" y="1034.30" font-size="20" text-anchor="middle">***</text>
<text x="1409.85" y="1034.30" font-size="20" text-anchor="middle">***</text>
<text x="1439.70" y="1034.30" font-size="20" text-anchor="middle">***</text>
<text x="1469.55" y="1034.30" font-size="20" text-anchor="middle">***</text>
<text x="1499.40" y="1034.30" font-size="20" text-anchor="middle">***</text>
<text x="1529.25" y="1034.30" font-size="20" text-anchor="middle">***</text>
<text x="1559.10" y="1034.30" font-size="20" text-anchor="middle">***</text>
<text x="1588.95" y="1034.30" font-size="20" text-anchor="middle">***</text>
<text x="1618.80" y="1034.30" font-size="20" text-anchor="middle">***</text>
<text x="1648.65" y="1034.30" font-size="20" text-anchor="middle">***</text>
<text x="1678.50" y="1034.30" font-size="20" text-anchor="middle">***</text>
<text x="1708.35" y="1034.30" font-size="20" text-anchor="middle">***</text>
<text x="1738.20" y="1034.30" font-size="20" text-anchor="middle">**</text>
<text x="1768.05" y="1034.30" font-size="20" text-anchor="middle">***</text>
<text x="1797.90" y="1034.30" font-size="20" text-anchor="middle">***</text>
<text x="1827.75" y="1034.30" font-size="20" text-anchor="middle">***</text>
<text x="1857.60" y="1034.30" font-size="20" text-anchor="middle">***</text>
<line x1="1203.80" y1="1344.90" x2="1203.80" y2="1350.40" stroke="#333" stroke-width="1.3"/>
<text transform="translate(1211.80 1352.00) rotate(-90)" font-size="23.2" text-anchor="end">Not PB</text>
<line x1="1233.65" y1="1344.90" x2="1233.65" y2="1350.40" stroke="#333" stroke-width="1.3"/>
<text transform="translate(1241.65 1352.00) rotate(-90)" font-size="23.2" text-anchor="end">miR−101a</text>
<line x1="1263.50" y1="1344.90" x2="1263.50" y2="1350.40" stroke="#333" stroke-width="1.3"/>
<text transform="translate(1271.50 1352.00) rotate(-90)" font-size="23.2" text-anchor="end">miR−101b</text>
<line x1="1293.35" y1="1344.90" x2="1293.35" y2="1350.40" stroke="#333" stroke-width="1.3"/>
<text transform="translate(1301.35 1352.00) rotate(-90)" font-size="23.2" text-anchor="end">miR−106a</text>
<line x1="1323.20" y1="1344.90" x2="1323.20" y2="1350.40" stroke="#333" stroke-width="1.3"/>
<text transform="translate(1331.20 1352.00) rotate(-90)" font-size="23.2" text-anchor="end">miR−17</text>
<line x1="1353.05" y1="1344.90" x2="1353.05" y2="1350.40" stroke="#333" stroke-width="1.3"/>
<text transform="translate(1361.05 1352.00) rotate(-90)" font-size="23.2" text-anchor="end">miR−182</text>
<line x1="1382.90" y1="1344.90" x2="1382.90" y2="1350.40" stroke="#333" stroke-width="1.3"/>
<text transform="translate(1390.90 1352.00) rotate(-90)" font-size="23.2" text-anchor="end">miR−183</text>
<line x1="1412.75" y1="1344.90" x2="1412.75" y2="1350.40" stroke="#333" stroke-width="1.3"/>
<text transform="translate(1420.75 1352.00) rotate(-90)" font-size="23.2" text-anchor="end">miR−200b</text>
<line x1="1442.60" y1="1344.90" x2="1442.60" y2="1350.40" stroke="#333" stroke-width="1.3"/>
<text transform="translate(1450.60 1352.00) rotate(-90)" font-size="23.2" text-anchor="end">miR−291a</text>
<line x1="1472.45" y1="1344.90" x2="1472.45" y2="1350.40" stroke="#333" stroke-width="1.3"/>
<text transform="translate(1480.45 1352.00) rotate(-90)" font-size="23.2" text-anchor="end">miR−291b</text>
<line x1="1502.30" y1="1344.90" x2="1502.30" y2="1350.40" stroke="#333" stroke-width="1.3"/>
<text transform="translate(1510.30 1352.00) rotate(-90)" font-size="23.2" text-anchor="end">miR−292a</text>
<line x1="1532.15" y1="1344.90" x2="1532.15" y2="1350.40" stroke="#333" stroke-width="1.3"/>
<text transform="translate(1540.15 1352.00) rotate(-90)" font-size="23.2" text-anchor="end">miR−294</text>
<line x1="1562.00" y1="1344.90" x2="1562.00" y2="1350.40" stroke="#333" stroke-width="1.3"/>
<text transform="translate(1570.00 1352.00) rotate(-90)" font-size="23.2" text-anchor="end">miR−295</text>
<line x1="1591.85" y1="1344.90" x2="1591.85" y2="1350.40" stroke="#333" stroke-width="1.3"/>
<text transform="translate(1599.85 1352.00) rotate(-90)" font-size="23.2" text-anchor="end">miR−300</text>
<line x1="1621.70" y1="1344.90" x2="1621.70" y2="1350.40" stroke="#333" stroke-width="1.3"/>
<text transform="translate(1629.70 1352.00) rotate(-90)" font-size="23.2" text-anchor="end">miR−302a</text>
<line x1="1651.55" y1="1344.90" x2="1651.55" y2="1350.40" stroke="#333" stroke-width="1.3"/>
<text transform="translate(1659.55 1352.00) rotate(-90)" font-size="23.2" text-anchor="end">miR−323</text>
<line x1="1681.40" y1="1344.90" x2="1681.40" y2="1350.40" stroke="#333" stroke-width="1.3"/>
<text transform="translate(1689.40 1352.00) rotate(-90)" font-size="23.2" text-anchor="end">miR−379</text>
<line x1="1711.25" y1="1344.90" x2="1711.25" y2="1350.40" stroke="#333" stroke-width="1.3"/>
<text transform="translate(1719.25 1352.00) rotate(-90)" font-size="23.2" text-anchor="end">miR−381</text>
<line x1="1741.10" y1="1344.90" x2="1741.10" y2="1350.40" stroke="#333" stroke-width="1.3"/>
<text transform="translate(1749.10 1352.00) rotate(-90)" font-size="23.2" text-anchor="end">miR−409</text>
<line x1="1770.95" y1="1344.90" x2="1770.95" y2="1350.40" stroke="#333" stroke-width="1.3"/>
<text transform="translate(1778.95 1352.00) rotate(-90)" font-size="23.2" text-anchor="end">miR−410</text>
<line x1="1800.80" y1="1344.90" x2="1800.80" y2="1350.40" stroke="#333" stroke-width="1.3"/>
<text transform="translate(1808.80 1352.00) rotate(-90)" font-size="23.2" text-anchor="end">miR−411</text>
<line x1="1830.65" y1="1344.90" x2="1830.65" y2="1350.40" stroke="#333" stroke-width="1.3"/>
<text transform="translate(1838.65 1352.00) rotate(-90)" font-size="23.2" text-anchor="end">miR−433</text>
<line x1="1860.50" y1="1344.90" x2="1860.50" y2="1350.40" stroke="#333" stroke-width="1.3"/>
<text transform="translate(1868.50 1352.00) rotate(-90)" font-size="23.2" text-anchor="end">miR−543</text>
<!-- panel f -->
<text x="22.50" y="1568.80" font-size="39.5" font-weight="bold">f</text>
<text x="253.60" y="1609.80" font-size="27.3" text-anchor="middle">Primed Human ESC miRNA targets</text>
<rect x="82.40" y="1632.10" width="326.70" height="341.20" fill="none" stroke="#333" stroke-width="1.6"/>
<g stroke="#2a2a2a" stroke-width="1.4" fill="none"><line x1="100.40" y1="1685.93" x2="100.40" y2="1924.67" stroke-width="1.4"/><rect x="91.05" y="1774.95" width="18.70" height="60.44" fill="#8e8e93"/><line x1="91.05" y1="1806.81" x2="109.75" y2="1806.81"/><line x1="124.90" y1="1690.88" x2="124.90" y2="1898.57" stroke-width="1.4"/><rect x="115.55" y="1766.70" width="18.70" height="53.57" fill="#41b85a"/><line x1="115.55" y1="1793.63" x2="134.25" y2="1793.63"/><line x1="149.80" y1="1705.99" x2="149.80" y2="1912.31" stroke-width="1.4"/><rect x="140.45" y="1749.40" width="18.70" height="66.76" fill="#41b85a"/><line x1="140.45" y1="1776.87" x2="159.15" y2="1776.87"/><line x1="174.00" y1="1741.98" x2="174.00" y2="1815.88" stroke-width="1.4"/><rect x="164.65" y="1754.34" width="18.70" height="40.38" fill="#41b85a"/><line x1="164.65" y1="1770.27" x2="183.35" y2="1770.27"/><line x1="198.60" y1="1717.25" x2="198.60" y2="1896.37" stroke-width="1.4"/><rect x="189.25" y="1754.89" width="18.70" height="60.99" fill="#41b85a"/><line x1="189.25" y1="1777.14" x2="207.95" y2="1777.14"/><line x1="223.20" y1="1675.22" x2="223.20" y2="1891.15" stroke-width="1.4"/><rect x="213.85" y="1757.91" width="18.70" height="56.87" fill="#41b85a"/><line x1="213.85" y1="1784.29" x2="232.55" y2="1784.29"/><line x1="246.80" y1="1705.71" x2="246.80" y2="1856.54" stroke-width="1.4"/><rect x="237.45" y="1757.64" width="18.70" height="42.86" fill="#41b85a"/><line x1="237.45" y1="1778.52" x2="256.15" y2="1778.52"/><line x1="271.30" y1="1675.22" x2="271.30" y2="1886.76" stroke-width="1.4"/><rect x="261.95" y="1751.04" width="18.70" height="54.67" fill="#41b85a"/><line x1="261.95" y1="1772.47" x2="280.65" y2="1772.47"/><line x1="295.50" y1="1719.45" x2="295.50" y2="1839.78" stroke-width="1.4"/><rect x="286.15" y="1760.38" width="18.70" height="41.48" fill="#41b85a"/><line x1="286.15" y1="1777.69" x2="304.85" y2="1777.69"/><line x1="320.90" y1="1693.08" x2="320.90" y2="1869.73" stroke-width="1.4"/><rect x="311.55" y="1759.01" width="18.70" height="47.80" fill="#41b85a"/><line x1="311.55" y1="1782.09" x2="330.25" y2="1782.09"/><line x1="345.60" y1="1724.67" x2="345.60" y2="1860.93" stroke-width="1.4"/><rect x="336.25" y="1759.56" width="18.70" height="47.53" fill="#41b85a"/><line x1="336.25" y1="1781.54" x2="354.95" y2="1781.54"/><line x1="370.10" y1="1685.11" x2="370.10" y2="1878.24" stroke-width="1.4"/><rect x="360.75" y="1755.99" width="18.70" height="51.65" fill="#41b85a"/><line x1="360.75" y1="1778.24" x2="379.45" y2="1778.24"/><line x1="393.20" y1="1690.88" x2="393.20" y2="1898.57" stroke-width="1.4"/><rect x="383.85" y="1766.43" width="18.70" height="53.85" fill="#41b85a"/><line x1="383.85" y1="1793.63" x2="402.55" y2="1793.63"/></g>
<line x1="78.20" y1="1678.80" x2="82.40" y2="1678.80" stroke="#333" stroke-width="1.3"/>
<text x="77.00" y="1687.10" font-size="23.8" text-anchor="end" fill="#4d4d4d">2</text>
<line x1="78.20" y1="1740.60" x2="82.40" y2="1740.60" stroke="#333" stroke-width="1.3"/>
<text x="77.00" y="1748.90" font-size="23.8" text-anchor="end" fill="#4d4d4d">1</text>
<line x1="78.20" y1="1802.40" x2="82.40" y2="1802.40" stroke="#333" stroke-width="1.3"/>
<text x="77.00" y="1810.70" font-size="23.8" text-anchor="end" fill="#4d4d4d">0</text>
<line x1="78.20" y1="1864.80" x2="82.40" y2="1864.80" stroke="#333" stroke-width="1.3"/>
<text x="77.00" y="1873.10" font-size="23.8" text-anchor="end" fill="#4d4d4d">−1</text>
<line x1="78.20" y1="1926.90" x2="82.40" y2="1926.90" stroke="#333" stroke-width="1.3"/>
<text x="77.00" y="1935.20" font-size="23.8" text-anchor="end" fill="#4d4d4d">−2</text>
<text transform="translate(19.00 1800.00) rotate(-90)" font-size="24" text-anchor="middle">P-body fold enrichment</text>
<text transform="translate(47.20 1797.50) rotate(-90)" font-size="24" text-anchor="middle">(log2FC)</text>
<text x="126.60" y="1665.40" font-size="16.4" text-anchor="middle">***</text>
<text x="151.50" y="1665.40" font-size="16.4" text-anchor="middle">***</text>
<text x="175.70" y="1665.40" font-size="16.4" text-anchor="middle">**</text>
<text x="200.30" y="1665.40" font-size="16.4" text-anchor="middle">***</text>
<text x="224.90" y="1665.40" font-size="16.4" text-anchor="middle">***</text>
<text x="248.50" y="1665.40" font-size="16.4" text-anchor="middle">***</text>
<text x="273.00" y="1665.40" font-size="16.4" text-anchor="middle">***</text>
<text x="297.20" y="1665.40" font-size="16.4" text-anchor="middle">***</text>
<text x="322.60" y="1665.40" font-size="16.4" text-anchor="middle">***</text>
<text x="347.30" y="1665.40" font-size="16.4" text-anchor="middle">***</text>
<text x="371.80" y="1665.40" font-size="16.4" text-anchor="middle">***</text>
<text x="394.90" y="1665.40" font-size="16.4" text-anchor="middle">***</text>
<line x1="100.40" y1="1973.30" x2="100.40" y2="1979.30" stroke="#333" stroke-width="1.3"/>
<text transform="translate(107.30 1983.20) rotate(-90)" font-size="24.1" text-anchor="end">Not PB</text>
<line x1="124.90" y1="1973.30" x2="124.90" y2="1979.30" stroke="#333" stroke-width="1.3"/>
<text transform="translate(131.80 1983.20) rotate(-90)" font-size="24.1" text-anchor="end">let−7a</text>
<line x1="149.80" y1="1973.30" x2="149.80" y2="1979.30" stroke="#333" stroke-width="1.3"/>
<text transform="translate(156.70 1983.20) rotate(-90)" font-size="24.1" text-anchor="end">miR−10a</text>
<line x1="174.00" y1="1973.30" x2="174.00" y2="1979.30" stroke="#333" stroke-width="1.3"/>
<text transform="translate(180.90 1983.20) rotate(-90)" font-size="24.1" text-anchor="end">miR−192</text>
<line x1="198.60" y1="1973.30" x2="198.60" y2="1979.30" stroke="#333" stroke-width="1.3"/>
<text transform="translate(205.50 1983.20) rotate(-90)" font-size="24.1" text-anchor="end">miR−222</text>
<line x1="223.20" y1="1973.30" x2="223.20" y2="1979.30" stroke="#333" stroke-width="1.3"/>
<text transform="translate(230.10 1983.20) rotate(-90)" font-size="24.1" text-anchor="end">miR−27a</text>
<line x1="246.80" y1="1973.30" x2="246.80" y2="1979.30" stroke="#333" stroke-width="1.3"/>
<text transform="translate(253.70 1983.20) rotate(-90)" font-size="24.1" text-anchor="end">miR−320b</text>
<line x1="271.30" y1="1973.30" x2="271.30" y2="1979.30" stroke="#333" stroke-width="1.3"/>
<text transform="translate(278.20 1983.20) rotate(-90)" font-size="24.1" text-anchor="end">miR−323a</text>
<line x1="295.50" y1="1973.30" x2="295.50" y2="1979.30" stroke="#333" stroke-width="1.3"/>
<text transform="translate(302.40 1983.20) rotate(-90)" font-size="24.1" text-anchor="end">miR−371a</text>
<line x1="320.90" y1="1973.30" x2="320.90" y2="1979.30" stroke="#333" stroke-width="1.3"/>
<text transform="translate(327.80 1983.20) rotate(-90)" font-size="24.1" text-anchor="end">miR−485</text>
<line x1="345.60" y1="1973.30" x2="345.60" y2="1979.30" stroke="#333" stroke-width="1.3"/>
<text transform="translate(352.50 1983.20) rotate(-90)" font-size="24.1" text-anchor="end">miR−486</text>
<line x1="370.10" y1="1973.30" x2="370.10" y2="1979.30" stroke="#333" stroke-width="1.3"/>
<text transform="translate(377.00 1983.20) rotate(-90)" font-size="24.1" text-anchor="end">miR−92a</text>
<line x1="393.20" y1="1973.30" x2="393.20" y2="1979.30" stroke="#333" stroke-width="1.3"/>
<text transform="translate(400.10 1983.20) rotate(-90)" font-size="24.1" text-anchor="end">miR−98</text>
<!-- panel g -->
<text x="526.30" y="1568.50" font-size="39.5" font-weight="bold">g</text>
<text x="768.40" y="1609.00" font-size="27.5" text-anchor="middle">Human Neural Prog. miRNA targets</text>
<rect x="614.40" y="1631.80" width="274.10" height="341.10" fill="none" stroke="#333" stroke-width="1.6"/>
<g stroke="#333" stroke-width="1.4" fill="none"><line x1="632.10" y1="1647.94" x2="632.10" y2="1957.35" stroke-width="1.4"/><rect x="620.90" y="1757.06" width="22.40" height="91.76" fill="#8e8e93"/><line x1="620.90" y1="1810.00" x2="643.30" y2="1810.00"/><line x1="661.50" y1="1653.82" x2="661.50" y2="1952.94" stroke-width="1.4"/><rect x="650.30" y="1733.82" width="22.40" height="100.88" fill="#2f3a9f"/><line x1="650.30" y1="1785.29" x2="672.70" y2="1785.29"/><line x1="691.80" y1="1651.47" x2="691.80" y2="1930.29" stroke-width="1.4"/><rect x="680.60" y="1720.00" width="22.40" height="113.24" fill="#2f3a9f"/><line x1="680.60" y1="1774.12" x2="703.00" y2="1774.12"/><line x1="721.20" y1="1655.88" x2="721.20" y2="1938.53" stroke-width="1.4"/><rect x="710.00" y="1727.94" width="22.40" height="110.88" fill="#2f3a9f"/><line x1="710.00" y1="1784.71" x2="732.40" y2="1784.71"/><line x1="750.90" y1="1653.82" x2="750.90" y2="1945.59" stroke-width="1.4"/><rect x="739.70" y="1724.12" width="22.40" height="89.41" fill="#2f3a9f"/><line x1="739.70" y1="1777.06" x2="762.10" y2="1777.06"/><line x1="780.30" y1="1654.41" x2="780.30" y2="1945.59" stroke-width="1.4"/><rect x="769.10" y="1727.35" width="22.40" height="92.65" fill="#2f3a9f"/><line x1="769.10" y1="1780.88" x2="791.50" y2="1780.88"/><line x1="810.00" y1="1648.53" x2="810.00" y2="1952.94" stroke-width="1.4"/><rect x="798.80" y="1736.47" width="22.40" height="100.29" fill="#2f3a9f"/><line x1="798.80" y1="1792.65" x2="821.20" y2="1792.65"/><line x1="840.30" y1="1652.35" x2="840.30" y2="1911.18" stroke-width="1.4"/><rect x="829.10" y="1707.65" width="22.40" height="93.53" fill="#2f3a9f"/><line x1="829.10" y1="1769.41" x2="851.50" y2="1769.41"/><line x1="869.70" y1="1648.53" x2="869.70" y2="1936.47" stroke-width="1.4"/><rect x="858.50" y="1721.76" width="22.40" height="86.47" fill="#2f3a9f"/><line x1="858.50" y1="1767.35" x2="880.90" y2="1767.35"/></g>
<line x1="610.20" y1="1678.20" x2="614.40" y2="1678.20" stroke="#333" stroke-width="1.3"/>
<text x="606.60" y="1686.40" font-size="23.6" text-anchor="end" fill="#1a1a1a">2</text>
<line x1="610.20" y1="1740.60" x2="614.40" y2="1740.60" stroke="#333" stroke-width="1.3"/>
<text x="606.60" y="1748.80" font-size="23.6" text-anchor="end" fill="#1a1a1a">1</text>
<line x1="610.20" y1="1802.60" x2="614.40" y2="1802.60" stroke="#333" stroke-width="1.3"/>
<text x="606.60" y="1810.80" font-size="23.6" text-anchor="end" fill="#1a1a1a">0</text>
<line x1="610.20" y1="1864.70" x2="614.40" y2="1864.70" stroke="#333" stroke-width="1.3"/>
<text x="606.60" y="1872.90" font-size="23.6" text-anchor="end" fill="#1a1a1a">−1</text>
<line x1="610.20" y1="1926.50" x2="614.40" y2="1926.50" stroke="#333" stroke-width="1.3"/>
<text x="606.60" y="1934.70" font-size="23.6" text-anchor="end" fill="#1a1a1a">−2</text>
<text transform="translate(543.20 1803.00) rotate(-90)" font-size="24" text-anchor="middle">P-body fold enrichment</text>
<text transform="translate(572.20 1802.50) rotate(-90)" font-size="24" text-anchor="middle">(log2FC)</text>
<text x="661.50" y="1650.60" font-size="14" text-anchor="middle" font-weight="bold">***</text>
<text x="691.80" y="1650.60" font-size="14" text-anchor="middle" font-weight="bold">*</text>
<text x="721.20" y="1650.60" font-size="14" text-anchor="middle" font-weight="bold">***</text>
<text x="750.90" y="1650.60" font-size="14" text-anchor="middle" font-weight="bold">***</text>
<text x="780.30" y="1650.60" font-size="14" text-anchor="middle" font-weight="bold">***</text>
<text x="810.00" y="1650.60" font-size="14" text-anchor="middle" font-weight="bold">***</text>
<text x="840.30" y="1650.60" font-size="14" text-anchor="middle" font-weight="bold">***</text>
<text x="869.70" y="1650.60" font-size="14" text-anchor="middle" font-weight="bold">***</text>
<line x1="632.10" y1="1972.90" x2="632.10" y2="1978.90" stroke="#333" stroke-width="1.3"/>
<text transform="translate(638.40 1981.00) rotate(-90)" font-size="23.6" text-anchor="end">Not PB</text>
<line x1="661.50" y1="1972.90" x2="661.50" y2="1978.90" stroke="#333" stroke-width="1.3"/>
<text transform="translate(667.80 1981.00) rotate(-90)" font-size="23.6" text-anchor="end">let−7a</text>
<line x1="691.80" y1="1972.90" x2="691.80" y2="1978.90" stroke="#333" stroke-width="1.3"/>
<text transform="translate(698.10 1981.00) rotate(-90)" font-size="23.6" text-anchor="end">miR−122</text>
<line x1="721.20" y1="1972.90" x2="721.20" y2="1978.90" stroke="#333" stroke-width="1.3"/>
<text transform="translate(727.50 1981.00) rotate(-90)" font-size="23.6" text-anchor="end">miR−143</text>
<line x1="750.90" y1="1972.90" x2="750.90" y2="1978.90" stroke="#333" stroke-width="1.3"/>
<text transform="translate(757.20 1981.00) rotate(-90)" font-size="23.6" text-anchor="end">miR−199a</text>
<line x1="780.30" y1="1972.90" x2="780.30" y2="1978.90" stroke="#333" stroke-width="1.3"/>
<text transform="translate(786.60 1981.00) rotate(-90)" font-size="23.6" text-anchor="end">miR−27a</text>
<line x1="810.00" y1="1972.90" x2="810.00" y2="1978.90" stroke="#333" stroke-width="1.3"/>
<text transform="translate(816.30 1981.00) rotate(-90)" font-size="23.6" text-anchor="end">miR−29a</text>
<line x1="840.30" y1="1972.90" x2="840.30" y2="1978.90" stroke="#333" stroke-width="1.3"/>
<text transform="translate(846.60 1981.00) rotate(-90)" font-size="23.6" text-anchor="end">miR−486</text>
<line x1="869.70" y1="1972.90" x2="869.70" y2="1978.90" stroke="#333" stroke-width="1.3"/>
<text transform="translate(876.00 1981.00) rotate(-90)" font-size="23.6" text-anchor="end">miR−92a</text>
<!-- panel h -->
<text x="1042.20" y="1568.90" font-size="39.5" font-weight="bold">h</text>
<text x="1587.00" y="1516.50" font-size="28.7" text-anchor="middle">Naive Mouse ES cells</text>
<text x="1368.80" y="1543.20" font-size="23.2" text-anchor="middle">P-body-enriched</text>
<text x="1901.50" y="1543.20" font-size="23.2" text-anchor="middle">Cyto-enriched</text>
<g><rect x="1184.70" y="1560.60" width="302.67" height="18.00" fill="#cfe5d8"/><rect x="1184.70" y="1588.04" width="284.18" height="18.00" fill="#cfe5d8"/><rect x="1184.70" y="1615.49" width="282.74" height="18.00" fill="#cfe5d8"/><rect x="1184.70" y="1642.93" width="217.51" height="18.00" fill="#cfe5d8"/><rect x="1184.70" y="1670.38" width="210.96" height="18.00" fill="#cfe5d8"/><rect x="1184.70" y="1697.82" width="206.82" height="18.00" fill="#cfe5d8"/><rect x="1184.70" y="1725.27" width="176.47" height="18.00" fill="#cfe5d8"/><rect x="1184.70" y="1752.71" width="155.90" height="18.00" fill="#cfe5d8"/><rect x="1184.70" y="1780.16" width="142.07" height="18.00" fill="#cfe5d8"/><rect x="1184.70" y="1807.60" width="139.21" height="18.00" fill="#cfe5d8"/><rect x="1184.70" y="1835.05" width="127.53" height="18.00" fill="#cfe5d8"/><rect x="1184.70" y="1862.49" width="119.58" height="18.00" fill="#cfe5d8"/><rect x="1184.70" y="1889.94" width="111.10" height="18.00" fill="#cfe5d8"/><rect x="1184.70" y="1917.38" width="98.29" height="18.00" fill="#cfe5d8"/><rect x="1184.70" y="1944.83" width="91.65" height="18.00" fill="#cfe5d8"/><rect x="1184.70" y="1972.27" width="85.89" height="18.00" fill="#cfe5d8"/><rect x="1184.70" y="1999.72" width="80.47" height="18.00" fill="#cfe5d8"/><rect x="1184.70" y="2027.16" width="80.00" height="18.00" fill="#cfe5d8"/><rect x="1184.70" y="2054.61" width="75.48" height="18.00" fill="#cfe5d8"/><rect x="1184.70" y="2082.06" width="55.82" height="18.00" fill="#cfe5d8"/><rect x="1184.70" y="2109.50" width="54.02" height="18.00" fill="#cfe5d8"/><rect x="1184.70" y="2136.95" width="39.27" height="18.00" fill="#cfe5d8"/><rect x="1184.70" y="2164.39" width="32.93" height="18.00" fill="#cfe5d8"/></g>
<line x1="1183.70" y1="1549.20" x2="1183.70" y2="2191.70" stroke="#000" stroke-width="2"/>
<line x1="1182.70" y1="2191.70" x2="1517.45" y2="2191.70" stroke="#000" stroke-width="2"/>
<line x1="1183.70" y1="2191.70" x2="1183.70" y2="2205.40" stroke="#000" stroke-width="2"/>
<text x="1184.20" y="2227.60" font-size="24" text-anchor="middle">0</text>
<line x1="1250.25" y1="2191.70" x2="1250.25" y2="2205.40" stroke="#000" stroke-width="2"/>
<text x="1251.75" y="2227.60" font-size="24" text-anchor="middle">-10</text>
<line x1="1316.80" y1="2191.70" x2="1316.80" y2="2205.40" stroke="#000" stroke-width="2"/>
<text x="1318.30" y="2227.60" font-size="24" text-anchor="middle">-20</text>
<line x1="1383.35" y1="2191.70" x2="1383.35" y2="2205.40" stroke="#000" stroke-width="2"/>
<text x="1384.85" y="2227.60" font-size="24" text-anchor="middle">-30</text>
<line x1="1449.90" y1="2191.70" x2="1449.90" y2="2205.40" stroke="#000" stroke-width="2"/>
<text x="1451.40" y="2227.60" font-size="24" text-anchor="middle">-40</text>
<line x1="1516.45" y1="2191.70" x2="1516.45" y2="2205.40" stroke="#000" stroke-width="2"/>
<text x="1517.95" y="2227.60" font-size="24" text-anchor="middle">-50</text>
<line x1="1170.90" y1="1569.80" x2="1183.70" y2="1569.80" stroke="#000" stroke-width="1.5"/>
<text x="1168.30" y="1576.20" font-size="23.8" text-anchor="end">miR-101</text>
<text x="1189.90" y="1574.80" font-size="20.6">p-value= 1.9e-046</text>
<line x1="1170.90" y1="1597.24" x2="1183.70" y2="1597.24" stroke="#000" stroke-width="1.5"/>
<text x="1168.30" y="1603.64" font-size="23.8" text-anchor="end">miR-181</text>
<text x="1189.90" y="1602.24" font-size="20.6">p-value= 1.18e-043</text>
<line x1="1170.90" y1="1624.69" x2="1183.70" y2="1624.69" stroke="#000" stroke-width="1.5"/>
<text x="1168.30" y="1631.09" font-size="23.8" text-anchor="end">miR-106b</text>
<text x="1189.90" y="1629.69" font-size="20.6">p-value= 1.95e-043</text>
<line x1="1170.90" y1="1652.13" x2="1183.70" y2="1652.13" stroke="#000" stroke-width="1.5"/>
<text x="1168.30" y="1658.54" font-size="23.8" text-anchor="end">miR-30a</text>
<text x="1189.90" y="1657.13" font-size="20.6">p-value= 1.39e-033</text>
<line x1="1170.90" y1="1679.58" x2="1183.70" y2="1679.58" stroke="#000" stroke-width="1.5"/>
<text x="1168.30" y="1685.98" font-size="23.8" text-anchor="end">miR-23a</text>
<text x="1189.90" y="1684.58" font-size="20.6">p-value= 1.36e-032</text>
<line x1="1170.90" y1="1707.02" x2="1183.70" y2="1707.02" stroke="#000" stroke-width="1.5"/>
<text x="1168.30" y="1713.42" font-size="23.8" text-anchor="end">miR-381/300</text>
<text x="1189.90" y="1712.02" font-size="20.6">p-value= 5.74e-032</text>
<line x1="1170.90" y1="1734.47" x2="1183.70" y2="1734.47" stroke="#000" stroke-width="1.5"/>
<text x="1168.30" y="1740.87" font-size="23.8" text-anchor="end">miR-26a</text>
<text x="1189.90" y="1739.47" font-size="20.6">p-value= 2.2e-027</text>
<line x1="1170.90" y1="1761.91" x2="1183.70" y2="1761.91" stroke="#000" stroke-width="1.5"/>
<text x="1168.30" y="1768.32" font-size="23.8" text-anchor="end">miR-27a</text>
<text x="1189.90" y="1766.91" font-size="20.6">p-value= 2.82e-024</text>
<line x1="1170.90" y1="1789.36" x2="1183.70" y2="1789.36" stroke="#000" stroke-width="1.5"/>
<text x="1168.30" y="1795.76" font-size="23.8" text-anchor="end">miR-183</text>
<text x="1189.90" y="1794.36" font-size="20.6">p-value= 3.46e-022</text>
<line x1="1170.90" y1="1816.80" x2="1183.70" y2="1816.80" stroke="#000" stroke-width="1.5"/>
<text x="1168.30" y="1823.20" font-size="23.8" text-anchor="end">miR-148a</text>
<text x="1189.90" y="1821.80" font-size="20.6">p-value= 9.35e-022</text>
<line x1="1170.90" y1="1844.25" x2="1183.70" y2="1844.25" stroke="#000" stroke-width="1.5"/>
<text x="1168.30" y="1850.65" font-size="23.8" text-anchor="end">miR-199b</text>
<text x="1189.90" y="1849.25" font-size="20.6">p-value= 5.45e-020</text>
<line x1="1170.90" y1="1871.69" x2="1183.70" y2="1871.69" stroke="#000" stroke-width="1.5"/>
<text x="1168.30" y="1878.10" font-size="23.8" text-anchor="end">miR-493</text>
<text x="1189.90" y="1876.69" font-size="20.6">p-value= 8.64e-019</text>
<line x1="1170.90" y1="1899.14" x2="1183.70" y2="1899.14" stroke="#000" stroke-width="1.5"/>
<text x="1168.30" y="1905.54" font-size="23.8" text-anchor="end">miR-155</text>
<text x="1189.90" y="1904.14" font-size="20.6">p-value= 1.65e-017</text>
<line x1="1170.90" y1="1926.59" x2="1183.70" y2="1926.59" stroke="#000" stroke-width="1.5"/>
<text x="1168.30" y="1932.99" font-size="23.8" text-anchor="end">miR-29a</text>
<text x="1189.90" y="1931.59" font-size="20.6">p-value= 1.42e-015</text>
<line x1="1170.90" y1="1954.03" x2="1183.70" y2="1954.03" stroke="#000" stroke-width="1.5"/>
<text x="1168.30" y="1960.43" font-size="23.8" text-anchor="end">let-7</text>
<text x="1189.90" y="1959.03" font-size="20.6">p-value= 1.43e-014</text>
<line x1="1170.90" y1="1981.47" x2="1183.70" y2="1981.47" stroke="#000" stroke-width="1.5"/>
<text x="1168.30" y="1987.88" font-size="23.8" text-anchor="end">miR-21a</text>
<text x="1189.90" y="1986.47" font-size="20.6">p-value= 1.06e-013</text>
<line x1="1170.90" y1="2008.92" x2="1183.70" y2="2008.92" stroke="#000" stroke-width="1.5"/>
<text x="1168.30" y="2015.32" font-size="23.8" text-anchor="end">miR-379</text>
<text x="1189.90" y="2013.92" font-size="20.6">p-value= 6.99e-013</text>
<line x1="1170.90" y1="2036.37" x2="1183.70" y2="2036.37" stroke="#000" stroke-width="1.5"/>
<text x="1168.30" y="2042.77" font-size="23.8" text-anchor="end">miR-292a</text>
<text x="1189.90" y="2041.37" font-size="20.6">p-value= 8.22e-013</text>
<line x1="1170.90" y1="2063.81" x2="1183.70" y2="2063.81" stroke="#000" stroke-width="1.5"/>
<text x="1168.30" y="2070.21" font-size="23.8" text-anchor="end">miR-10a</text>
<text x="1189.90" y="2068.81" font-size="20.6">p-value= 3.96e-012</text>
<line x1="1170.90" y1="2091.26" x2="1183.70" y2="2091.26" stroke="#000" stroke-width="1.5"/>
<text x="1168.30" y="2097.66" font-size="23.8" text-anchor="end">miR-28a</text>
<text x="1189.90" y="2096.26" font-size="20.6">p-value= 3.7e-009</text>
<line x1="1170.90" y1="2118.70" x2="1183.70" y2="2118.70" stroke="#000" stroke-width="1.5"/>
<text x="1168.30" y="2125.10" font-size="23.8" text-anchor="end">miR-151</text>
<text x="1189.90" y="2123.70" font-size="20.6">p-value= 6.91e-009</text>
<line x1="1170.90" y1="2146.14" x2="1183.70" y2="2146.14" stroke="#000" stroke-width="1.5"/>
<text x="1168.30" y="2152.55" font-size="23.8" text-anchor="end">miR-532</text>
<text x="1189.90" y="2151.14" font-size="20.6">p-value= 0.00000117</text>
<line x1="1170.90" y1="2173.59" x2="1183.70" y2="2173.59" stroke="#000" stroke-width="1.5"/>
<text x="1168.30" y="2179.99" font-size="23.8" text-anchor="end">miR-143</text>
<text x="1189.90" y="2178.59" font-size="20.6">p-value= 0.0000106</text>
<text x="1369.20" y="2255.20" font-size="24" text-anchor="middle">Log(10)</text>
<g></g>
<line x1="1740.90" y1="1549.20" x2="1740.90" y2="2191.70" stroke="#000" stroke-width="2"/>
<line x1="1739.90" y1="2191.70" x2="2073.90" y2="2191.70" stroke="#000" stroke-width="2"/>
<line x1="1740.90" y1="2191.70" x2="1740.90" y2="2205.40" stroke="#000" stroke-width="2"/>
<text x="1741.40" y="2227.60" font-size="24" text-anchor="middle">0</text>
<line x1="1807.30" y1="2191.70" x2="1807.30" y2="2205.40" stroke="#000" stroke-width="2"/>
<text x="1808.80" y="2227.60" font-size="24" text-anchor="middle">-10</text>
<line x1="1873.70" y1="2191.70" x2="1873.70" y2="2205.40" stroke="#000" stroke-width="2"/>
<text x="1875.20" y="2227.60" font-size="24" text-anchor="middle">-20</text>
<line x1="1940.10" y1="2191.70" x2="1940.10" y2="2205.40" stroke="#000" stroke-width="2"/>
<text x="1941.60" y="2227.60" font-size="24" text-anchor="middle">-30</text>
<line x1="2006.50" y1="2191.70" x2="2006.50" y2="2205.40" stroke="#000" stroke-width="2"/>
<text x="2008.00" y="2227.60" font-size="24" text-anchor="middle">-40</text>
<line x1="2072.90" y1="2191.70" x2="2072.90" y2="2205.40" stroke="#000" stroke-width="2"/>
<text x="2057.40" y="2227.60" font-size="24" text-anchor="middle">-50</text>
<line x1="1727.80" y1="1569.80" x2="1740.90" y2="1569.80" stroke="#000" stroke-width="1.5"/>
<text x="1725.50" y="1576.20" font-size="23.8" text-anchor="end">miR-101</text>
<text x="1745.80" y="1573.70" font-size="20.5">p-value= 0.99</text>
<line x1="1727.80" y1="1597.24" x2="1740.90" y2="1597.24" stroke="#000" stroke-width="1.5"/>
<text x="1725.50" y="1603.64" font-size="23.8" text-anchor="end">miR-181</text>
<text x="1745.80" y="1601.14" font-size="20.5">p-value= 1</text>
<line x1="1727.80" y1="1624.69" x2="1740.90" y2="1624.69" stroke="#000" stroke-width="1.5"/>
<text x="1725.50" y="1631.09" font-size="23.8" text-anchor="end">miR-106b</text>
<text x="1745.80" y="1628.59" font-size="20.5">p-value= 0.99</text>
<line x1="1727.80" y1="1652.13" x2="1740.90" y2="1652.13" stroke="#000" stroke-width="1.5"/>
<text x="1725.50" y="1658.54" font-size="23.8" text-anchor="end">miR-30a</text>
<text x="1745.80" y="1656.04" font-size="20.5">p-value= 1</text>
<line x1="1727.80" y1="1679.58" x2="1740.90" y2="1679.58" stroke="#000" stroke-width="1.5"/>
<text x="1725.50" y="1685.98" font-size="23.8" text-anchor="end">miR-23a</text>
<text x="1745.80" y="1683.48" font-size="20.5">p-value= 1</text>
<line x1="1727.80" y1="1707.02" x2="1740.90" y2="1707.02" stroke="#000" stroke-width="1.5"/>
<text x="1725.50" y="1713.42" font-size="23.8" text-anchor="end">miR-381/300</text>
<text x="1745.80" y="1710.92" font-size="20.5">p-value= 1</text>
<line x1="1727.80" y1="1734.47" x2="1740.90" y2="1734.47" stroke="#000" stroke-width="1.5"/>
<text x="1725.50" y="1740.87" font-size="23.8" text-anchor="end">miR-26a</text>
<text x="1745.80" y="1738.37" font-size="20.5">p-value= 0.95</text>
<line x1="1727.80" y1="1761.91" x2="1740.90" y2="1761.91" stroke="#000" stroke-width="1.5"/>
<text x="1725.50" y="1768.32" font-size="23.8" text-anchor="end">miR-27a</text>
<text x="1745.80" y="1765.82" font-size="20.5">p-value= 0.996</text>
<line x1="1727.80" y1="1789.36" x2="1740.90" y2="1789.36" stroke="#000" stroke-width="1.5"/>
<text x="1725.50" y="1795.76" font-size="23.8" text-anchor="end">miR-183</text>
<text x="1745.80" y="1793.26" font-size="20.5">p-value= 1</text>
<line x1="1727.80" y1="1816.80" x2="1740.90" y2="1816.80" stroke="#000" stroke-width="1.5"/>
<text x="1725.50" y="1823.20" font-size="23.8" text-anchor="end">miR-148a</text>
<text x="1745.80" y="1820.70" font-size="20.5">p-value= 0.899</text>
<line x1="1727.80" y1="1844.25" x2="1740.90" y2="1844.25" stroke="#000" stroke-width="1.5"/>
<text x="1725.50" y="1850.65" font-size="23.8" text-anchor="end">miR-199b</text>
<text x="1745.80" y="1848.15" font-size="20.5">p-value= 0.998</text>
<line x1="1727.80" y1="1871.69" x2="1740.90" y2="1871.69" stroke="#000" stroke-width="1.5"/>
<text x="1725.50" y="1878.10" font-size="23.8" text-anchor="end">miR-493</text>
<text x="1745.80" y="1875.60" font-size="20.5">p-value= 0.997</text>
<line x1="1727.80" y1="1899.14" x2="1740.90" y2="1899.14" stroke="#000" stroke-width="1.5"/>
<text x="1725.50" y="1905.54" font-size="23.8" text-anchor="end">miR-155</text>
<text x="1745.80" y="1903.04" font-size="20.5">p-value= 1</text>
<line x1="1727.80" y1="1926.59" x2="1740.90" y2="1926.59" stroke="#000" stroke-width="1.5"/>
<text x="1725.50" y="1932.99" font-size="23.8" text-anchor="end">miR-29a</text>
<text x="1745.80" y="1930.49" font-size="20.5">p-value= 0.998</text>
<line x1="1727.80" y1="1954.03" x2="1740.90" y2="1954.03" stroke="#000" stroke-width="1.5"/>
<text x="1725.50" y="1960.43" font-size="23.8" text-anchor="end">let-7</text>
<text x="1745.80" y="1957.93" font-size="20.5">p-value= 0.989</text>
<line x1="1727.80" y1="1981.47" x2="1740.90" y2="1981.47" stroke="#000" stroke-width="1.5"/>
<text x="1725.50" y="1987.88" font-size="23.8" text-anchor="end">miR-21a</text>
<text x="1745.80" y="1985.38" font-size="20.5">p-value= 0.961</text>
<line x1="1727.80" y1="2008.92" x2="1740.90" y2="2008.92" stroke="#000" stroke-width="1.5"/>
<text x="1725.50" y="2015.32" font-size="23.8" text-anchor="end">miR-379</text>
<text x="1745.80" y="2012.82" font-size="20.5">p-value= 0.998</text>
<line x1="1727.80" y1="2036.37" x2="1740.90" y2="2036.37" stroke="#000" stroke-width="1.5"/>
<text x="1725.50" y="2042.77" font-size="23.8" text-anchor="end">miR-292a</text>
<text x="1745.80" y="2040.27" font-size="20.5">p-value= 0.999</text>
<line x1="1727.80" y1="2063.81" x2="1740.90" y2="2063.81" stroke="#000" stroke-width="1.5"/>
<text x="1725.50" y="2070.21" font-size="23.8" text-anchor="end">miR-10a</text>
<text x="1745.80" y="2067.71" font-size="20.5">p-value= 0.999</text>
<line x1="1727.80" y1="2091.26" x2="1740.90" y2="2091.26" stroke="#000" stroke-width="1.5"/>
<text x="1725.50" y="2097.66" font-size="23.8" text-anchor="end">miR-28a</text>
<text x="1745.80" y="2095.16" font-size="20.5">p-value= 0.999</text>
<line x1="1727.80" y1="2118.70" x2="1740.90" y2="2118.70" stroke="#000" stroke-width="1.5"/>
<text x="1725.50" y="2125.10" font-size="23.8" text-anchor="end">miR-151</text>
<text x="1745.80" y="2122.60" font-size="20.5">p-value= 0.947</text>
<line x1="1727.80" y1="2146.14" x2="1740.90" y2="2146.14" stroke="#000" stroke-width="1.5"/>
<text x="1725.50" y="2152.55" font-size="23.8" text-anchor="end">miR-532</text>
<text x="1745.80" y="2150.05" font-size="20.5">p-value= 0.996</text>
<line x1="1727.80" y1="2173.59" x2="1740.90" y2="2173.59" stroke="#000" stroke-width="1.5"/>
<text x="1725.50" y="2179.99" font-size="23.8" text-anchor="end">miR-143</text>
<text x="1745.80" y="2177.49" font-size="20.5">p-value= 0.945</text>
<text x="1902.20" y="2254.70" font-size="24" text-anchor="middle">Log(10)</text>
<!-- panel i -->
<text x="21.90" y="2230.10" font-size="39.5" font-weight="bold">i</text>
<text x="556.20" y="2254.80" font-size="28.7" text-anchor="middle">Primed Mouse ES cells</text>
<text x="366.50" y="2284.80" font-size="23" text-anchor="middle">P-body-enriched</text>
<text x="757.10" y="2284.80" font-size="23" text-anchor="middle">Cyto-enriched</text>
<g><rect x="203.90" y="2309.10" width="355.79" height="12.20" fill="#def2d1"/><rect x="203.90" y="2327.94" width="286.65" height="12.20" fill="#def2d1"/><rect x="203.90" y="2346.78" width="286.65" height="12.20" fill="#def2d1"/><rect x="203.90" y="2365.62" width="286.65" height="12.20" fill="#def2d1"/><rect x="203.90" y="2384.46" width="272.20" height="12.20" fill="#def2d1"/><rect x="203.90" y="2403.30" width="221.58" height="12.20" fill="#def2d1"/><rect x="203.90" y="2422.14" width="214.21" height="12.20" fill="#def2d1"/><rect x="203.90" y="2440.98" width="180.54" height="12.20" fill="#e2f4d6"/><rect x="203.90" y="2459.82" width="176.81" height="12.20" fill="#ebf7e3"/><rect x="203.90" y="2478.66" width="151.89" height="12.20" fill="#ebf7e3"/><rect x="203.90" y="2497.50" width="150.12" height="12.20" fill="#ebf7e3"/><rect x="203.90" y="2516.34" width="137.98" height="12.20" fill="#ebf7e3"/><rect x="203.90" y="2535.18" width="131.41" height="12.20" fill="#ebf7e3"/><rect x="203.90" y="2554.02" width="51.35" height="12.20" fill="#f1f9ec"/><rect x="203.90" y="2572.86" width="59.12" height="12.20" fill="#f1f9ec"/><rect x="203.90" y="2591.70" width="60.50" height="12.20" fill="#f1f9ec"/><rect x="203.90" y="2610.54" width="50.58" height="12.20" fill="#f1f9ec"/></g>
<line x1="202.90" y1="2300.70" x2="202.90" y2="2628.20" stroke="#000" stroke-width="1.6"/>
<line x1="202.10" y1="2628.20" x2="570.09" y2="2628.20" stroke="#000" stroke-width="1.6"/>
<line x1="202.90" y1="2628.20" x2="202.90" y2="2640.60" stroke="#000" stroke-width="1.6"/>
<text x="203.40" y="2665.90" font-size="24" text-anchor="middle">0</text>
<line x1="325.03" y1="2628.20" x2="325.03" y2="2640.60" stroke="#000" stroke-width="1.6"/>
<text x="326.53" y="2665.90" font-size="24" text-anchor="middle">-10</text>
<line x1="447.16" y1="2628.20" x2="447.16" y2="2640.60" stroke="#000" stroke-width="1.6"/>
<text x="448.66" y="2665.90" font-size="24" text-anchor="middle">-20</text>
<line x1="569.29" y1="2628.20" x2="569.29" y2="2640.60" stroke="#000" stroke-width="1.6"/>
<text x="570.79" y="2665.90" font-size="24" text-anchor="middle">-30</text>
<line x1="190.60" y1="2315.20" x2="202.90" y2="2315.20" stroke="#000" stroke-width="1.5"/>
<text x="190.20" y="2322.90" font-size="22.6" text-anchor="end">miR-101a</text>
<text x="206.50" y="2320.20" font-size="15.1">p-value= 3.94e-030</text>
<line x1="190.60" y1="2334.04" x2="202.90" y2="2334.04" stroke="#000" stroke-width="1.5"/>
<text x="190.20" y="2341.74" font-size="22.6" text-anchor="end">miR-291a</text>
<text x="206.50" y="2339.04" font-size="15.1">p-value= 2.04e-024</text>
<line x1="190.60" y1="2352.88" x2="202.90" y2="2352.88" stroke="#000" stroke-width="1.5"/>
<text x="190.20" y="2360.58" font-size="22.6" text-anchor="end">miR-294</text>
<text x="206.50" y="2357.88" font-size="15.1">p-value= 2.04e-024</text>
<line x1="190.60" y1="2371.72" x2="202.90" y2="2371.72" stroke="#000" stroke-width="1.5"/>
<text x="190.20" y="2379.42" font-size="22.6" text-anchor="end">miR-295</text>
<text x="206.50" y="2376.72" font-size="15.1">p-value= 2.04e-024</text>
<line x1="190.60" y1="2390.56" x2="202.90" y2="2390.56" stroke="#000" stroke-width="1.5"/>
<text x="190.20" y="2398.26" font-size="22.6" text-anchor="end">miR-106</text>
<text x="206.50" y="2395.56" font-size="15.1">p-value= 3.19e-023</text>
<line x1="190.60" y1="2409.40" x2="202.90" y2="2409.40" stroke="#000" stroke-width="1.5"/>
<text x="190.20" y="2417.10" font-size="22.6" text-anchor="end">miR-543</text>
<text x="206.50" y="2414.40" font-size="15.1">p-value= 4.87e-019</text>
<line x1="190.60" y1="2428.24" x2="202.90" y2="2428.24" stroke="#000" stroke-width="1.5"/>
<text x="190.20" y="2435.94" font-size="22.6" text-anchor="end">miR-302a</text>
<text x="206.50" y="2433.24" font-size="15.1">p-value= 1.98e-018</text>
<line x1="190.60" y1="2447.08" x2="202.90" y2="2447.08" stroke="#000" stroke-width="1.5"/>
<text x="190.20" y="2454.78" font-size="22.6" text-anchor="end">miR-183</text>
<text x="206.50" y="2452.08" font-size="15.1">p-value= 1.2e-015</text>
<line x1="190.60" y1="2465.92" x2="202.90" y2="2465.92" stroke="#000" stroke-width="1.5"/>
<text x="190.20" y="2473.62" font-size="22.6" text-anchor="end">miR-323</text>
<text x="206.50" y="2470.92" font-size="15.1">p-value= 2.44e-015</text>
<line x1="190.60" y1="2484.76" x2="202.90" y2="2484.76" stroke="#000" stroke-width="1.5"/>
<text x="190.20" y="2492.46" font-size="22.6" text-anchor="end">miR-433</text>
<text x="206.50" y="2489.76" font-size="15.1">p-value= 2.8e-013</text>
<line x1="190.60" y1="2503.60" x2="202.90" y2="2503.60" stroke="#000" stroke-width="1.5"/>
<text x="190.20" y="2511.30" font-size="22.6" text-anchor="end">miR-182</text>
<text x="206.50" y="2508.60" font-size="15.1">p-value= 3.92e-013</text>
<line x1="190.60" y1="2522.44" x2="202.90" y2="2522.44" stroke="#000" stroke-width="1.5"/>
<text x="190.20" y="2530.14" font-size="22.6" text-anchor="end">miR-381/300</text>
<text x="206.50" y="2527.44" font-size="15.1">p-value= 3.95e-012</text>
<line x1="190.60" y1="2541.28" x2="202.90" y2="2541.28" stroke="#000" stroke-width="1.5"/>
<text x="190.20" y="2548.98" font-size="22.6" text-anchor="end">miR-409</text>
<text x="206.50" y="2546.28" font-size="15.1">p-value= 1.38e-011</text>
<line x1="190.60" y1="2560.12" x2="202.90" y2="2560.12" stroke="#000" stroke-width="1.5"/>
<text x="190.20" y="2567.82" font-size="22.6" text-anchor="end">miR-382</text>
<text x="206.50" y="2565.12" font-size="15.1">p-value= 0.000057</text>
<line x1="190.60" y1="2578.96" x2="202.90" y2="2578.96" stroke="#000" stroke-width="1.5"/>
<text x="190.20" y="2586.66" font-size="22.6" text-anchor="end">miR-133</text>
<text x="206.50" y="2583.96" font-size="15.1">p-value= 0.000013</text>
<line x1="190.60" y1="2597.80" x2="202.90" y2="2597.80" stroke="#000" stroke-width="1.5"/>
<text x="190.20" y="2605.50" font-size="22.6" text-anchor="end">miR-299</text>
<text x="206.50" y="2602.80" font-size="15.1">p-value= 0.000010</text>
<line x1="190.60" y1="2616.64" x2="202.90" y2="2616.64" stroke="#000" stroke-width="1.5"/>
<text x="190.20" y="2624.34" font-size="22.6" text-anchor="end">miR-411</text>
<text x="206.50" y="2621.64" font-size="15.1">p-value= 0.000066</text>
<g><rect x="714.20" y="2497.50" width="6.04" height="12.20" fill="#c3e6a3"/><rect x="714.20" y="2572.86" width="43.99" height="12.20" fill="#c3e6a3"/><rect x="714.20" y="2610.54" width="5.88" height="12.20" fill="#c3e6a3"/></g>
<line x1="713.20" y1="2300.70" x2="713.20" y2="2628.20" stroke="#000" stroke-width="1.6"/>
<line x1="712.40" y1="2628.20" x2="1080.39" y2="2628.20" stroke="#000" stroke-width="1.6"/>
<line x1="713.20" y1="2628.20" x2="713.20" y2="2640.60" stroke="#000" stroke-width="1.6"/>
<text x="713.70" y="2665.90" font-size="24" text-anchor="middle">0</text>
<line x1="835.33" y1="2628.20" x2="835.33" y2="2640.60" stroke="#000" stroke-width="1.6"/>
<text x="836.83" y="2665.90" font-size="24" text-anchor="middle">-10</text>
<line x1="957.46" y1="2628.20" x2="957.46" y2="2640.60" stroke="#000" stroke-width="1.6"/>
<text x="958.96" y="2665.90" font-size="24" text-anchor="middle">-20</text>
<line x1="1079.59" y1="2628.20" x2="1079.59" y2="2640.60" stroke="#000" stroke-width="1.6"/>
<text x="1081.09" y="2665.90" font-size="24" text-anchor="middle">-30</text>
<line x1="700.70" y1="2315.20" x2="713.20" y2="2315.20" stroke="#000" stroke-width="1.5"/>
<text x="700.30" y="2322.90" font-size="22.6" text-anchor="end">miR-101a</text>
<text x="719.50" y="2320.20" font-size="15.1">p-value= 0.76</text>
<line x1="700.70" y1="2334.04" x2="713.20" y2="2334.04" stroke="#000" stroke-width="1.5"/>
<text x="700.30" y="2341.74" font-size="22.6" text-anchor="end">miR-291a</text>
<text x="719.50" y="2339.04" font-size="15.1">p-value= 0.97</text>
<line x1="700.70" y1="2352.88" x2="713.20" y2="2352.88" stroke="#000" stroke-width="1.5"/>
<text x="700.30" y="2360.58" font-size="22.6" text-anchor="end">miR-294</text>
<text x="719.50" y="2357.88" font-size="15.1">p-value= 0.97</text>
<line x1="700.70" y1="2371.72" x2="713.20" y2="2371.72" stroke="#000" stroke-width="1.5"/>
<text x="700.30" y="2379.42" font-size="22.6" text-anchor="end">miR-295</text>
<text x="719.50" y="2376.72" font-size="15.1">p-value= 0.97</text>
<line x1="700.70" y1="2390.56" x2="713.20" y2="2390.56" stroke="#000" stroke-width="1.5"/>
<text x="700.30" y="2398.26" font-size="22.6" text-anchor="end">miR-106</text>
<text x="719.50" y="2395.56" font-size="15.1">p-value= 0.76</text>
<line x1="700.70" y1="2409.40" x2="713.20" y2="2409.40" stroke="#000" stroke-width="1.5"/>
<text x="700.30" y="2417.10" font-size="22.6" text-anchor="end">miR-543</text>
<text x="719.50" y="2414.40" font-size="15.1">p-value= 0.94</text>
<line x1="700.70" y1="2428.24" x2="713.20" y2="2428.24" stroke="#000" stroke-width="1.5"/>
<text x="700.30" y="2435.94" font-size="22.6" text-anchor="end">miR-302a</text>
<text x="719.50" y="2433.24" font-size="15.1">p-value= 0.91</text>
<line x1="700.70" y1="2447.08" x2="713.20" y2="2447.08" stroke="#000" stroke-width="1.5"/>
<text x="700.30" y="2454.78" font-size="22.6" text-anchor="end">miR-183</text>
<text x="720.50" y="2452.08" font-size="15.1">p-value= 0.99</text>
<line x1="700.70" y1="2465.92" x2="713.20" y2="2465.92" stroke="#000" stroke-width="1.5"/>
<text x="700.30" y="2473.62" font-size="22.6" text-anchor="end">miR-323</text>
<text x="720.90" y="2470.92" font-size="15.1">p-value= 0.99</text>
<line x1="700.70" y1="2484.76" x2="713.20" y2="2484.76" stroke="#000" stroke-width="1.5"/>
<text x="700.30" y="2492.46" font-size="22.6" text-anchor="end">miR-433</text>
<text x="721.30" y="2489.76" font-size="15.1">p-value= 0.99</text>
<line x1="700.70" y1="2503.60" x2="713.20" y2="2503.60" stroke="#000" stroke-width="1.5"/>
<text x="700.30" y="2511.30" font-size="22.6" text-anchor="end">miR-182</text>
<text x="721.30" y="2508.60" font-size="15.1">p-value= 0.32</text>
<line x1="700.70" y1="2522.44" x2="713.20" y2="2522.44" stroke="#000" stroke-width="1.5"/>
<text x="700.30" y="2530.14" font-size="22.6" text-anchor="end">miR-381/300</text>
<text x="722.30" y="2527.44" font-size="15.1">p-value= 0.91</text>
<line x1="700.70" y1="2541.28" x2="713.20" y2="2541.28" stroke="#000" stroke-width="1.5"/>
<text x="700.30" y="2548.98" font-size="22.6" text-anchor="end">miR-409</text>
<text x="722.70" y="2546.28" font-size="15.1">p-value= 0.99</text>
<line x1="700.70" y1="2560.12" x2="713.20" y2="2560.12" stroke="#000" stroke-width="1.5"/>
<text x="700.30" y="2567.82" font-size="22.6" text-anchor="end">miR-382</text>
<text x="722.70" y="2565.12" font-size="15.1">p-value= 0.98</text>
<line x1="700.70" y1="2578.96" x2="713.20" y2="2578.96" stroke="#000" stroke-width="1.5"/>
<text x="700.30" y="2586.66" font-size="22.6" text-anchor="end">miR-133</text>
<text x="722.30" y="2583.96" font-size="15.1">p-value= 0.00025</text>
<line x1="700.70" y1="2597.80" x2="713.20" y2="2597.80" stroke="#000" stroke-width="1.5"/>
<text x="700.30" y="2605.50" font-size="22.6" text-anchor="end">miR-299</text>
<text x="722.30" y="2602.80" font-size="15.1">p-value= 0.72</text>
<line x1="700.70" y1="2616.64" x2="713.20" y2="2616.64" stroke="#000" stroke-width="1.5"/>
<text x="700.30" y="2624.34" font-size="22.6" text-anchor="end">miR-411</text>
<text x="721.60" y="2621.64" font-size="15.1">p-value= 0.33</text>
</svg>
</body>
</html>
